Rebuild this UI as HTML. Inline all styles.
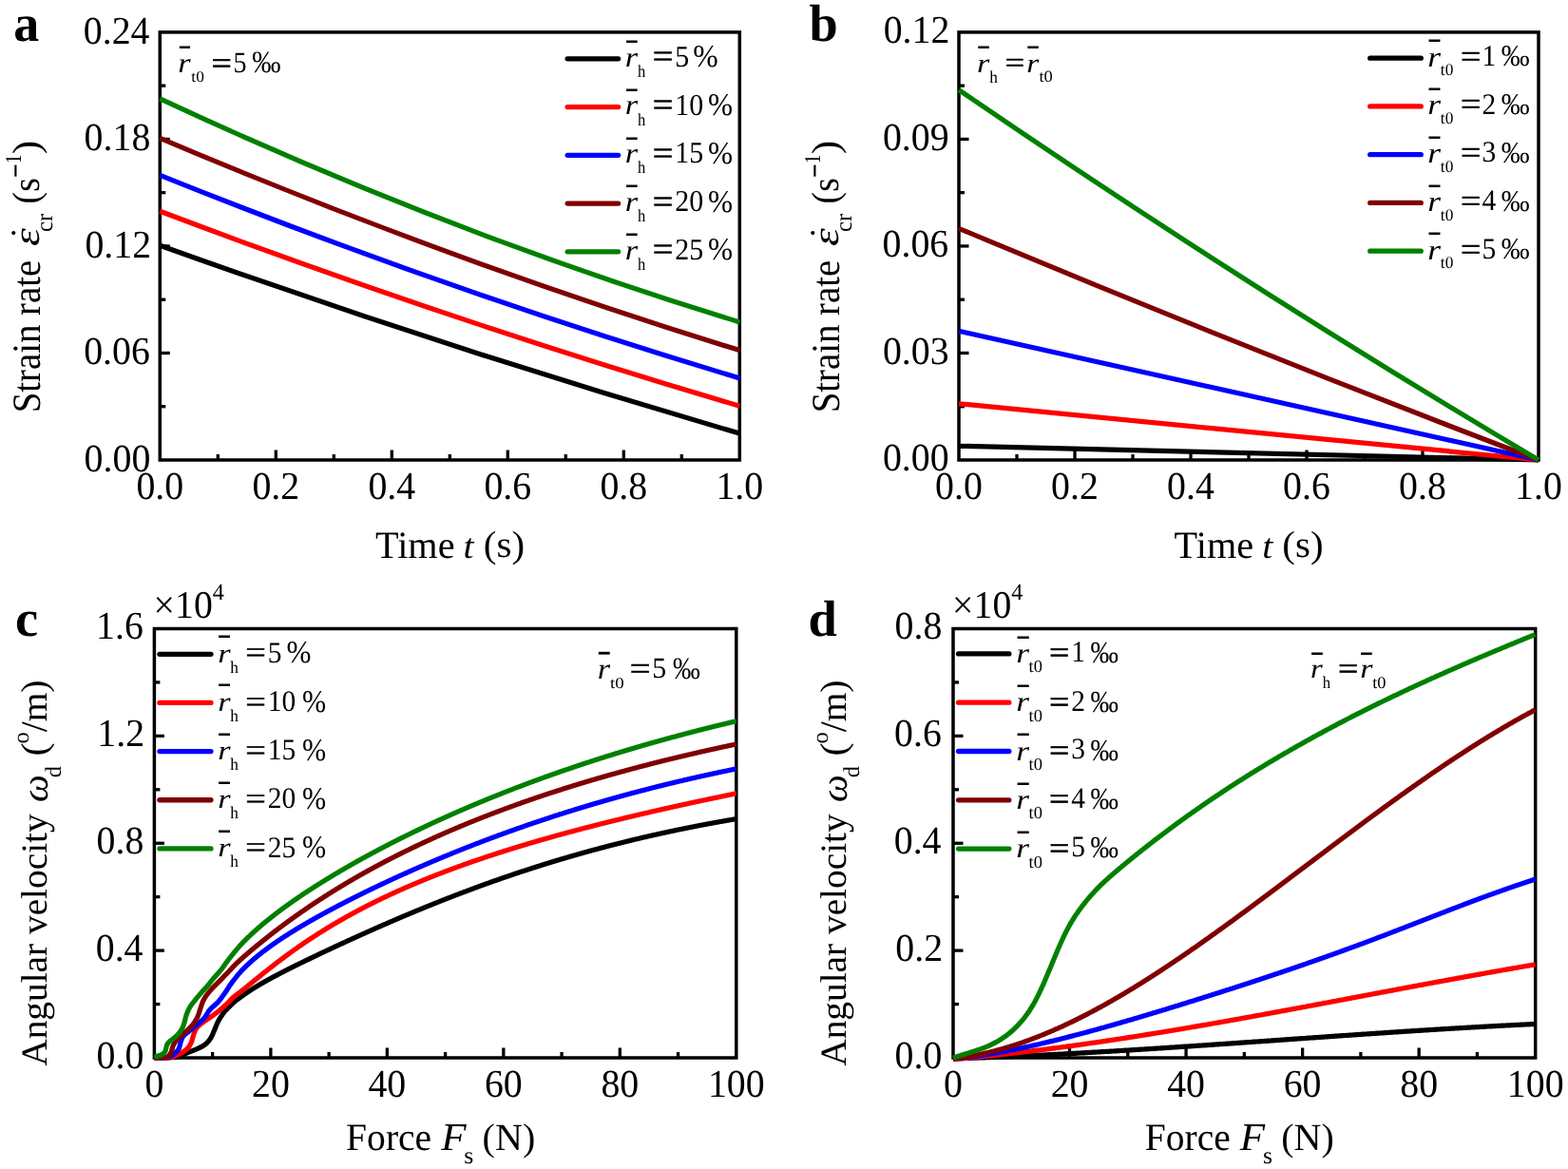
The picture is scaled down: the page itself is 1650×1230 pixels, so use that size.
<!DOCTYPE html><html><head><meta charset="utf-8"><title>Figure</title><style>html,body{margin:0;padding:0;background:#fff;overflow:hidden}svg{display:block}</style></head><body><svg width="1650" height="1230" viewBox="0 0 1650 1230">
<rect width="1650" height="1230" fill="#fff"/>
<line x1="229.30" y1="484.00" x2="229.30" y2="478.00" stroke="#000" stroke-width="3.3" stroke-linecap="butt"/>
<line x1="290.30" y1="484.00" x2="290.30" y2="473.50" stroke="#000" stroke-width="3.3" stroke-linecap="butt"/>
<line x1="351.30" y1="484.00" x2="351.30" y2="478.00" stroke="#000" stroke-width="3.3" stroke-linecap="butt"/>
<line x1="412.30" y1="484.00" x2="412.30" y2="473.50" stroke="#000" stroke-width="3.3" stroke-linecap="butt"/>
<line x1="473.30" y1="484.00" x2="473.30" y2="478.00" stroke="#000" stroke-width="3.3" stroke-linecap="butt"/>
<line x1="534.30" y1="484.00" x2="534.30" y2="473.50" stroke="#000" stroke-width="3.3" stroke-linecap="butt"/>
<line x1="595.30" y1="484.00" x2="595.30" y2="478.00" stroke="#000" stroke-width="3.3" stroke-linecap="butt"/>
<line x1="656.30" y1="484.00" x2="656.30" y2="473.50" stroke="#000" stroke-width="3.3" stroke-linecap="butt"/>
<line x1="717.30" y1="484.00" x2="717.30" y2="478.00" stroke="#000" stroke-width="3.3" stroke-linecap="butt"/>
<line x1="168.30" y1="427.74" x2="174.30" y2="427.74" stroke="#000" stroke-width="3.3" stroke-linecap="butt"/>
<line x1="168.30" y1="371.48" x2="178.80" y2="371.48" stroke="#000" stroke-width="3.3" stroke-linecap="butt"/>
<line x1="168.30" y1="315.21" x2="174.30" y2="315.21" stroke="#000" stroke-width="3.3" stroke-linecap="butt"/>
<line x1="168.30" y1="258.95" x2="178.80" y2="258.95" stroke="#000" stroke-width="3.3" stroke-linecap="butt"/>
<line x1="168.30" y1="202.69" x2="174.30" y2="202.69" stroke="#000" stroke-width="3.3" stroke-linecap="butt"/>
<line x1="168.30" y1="146.42" x2="178.80" y2="146.42" stroke="#000" stroke-width="3.3" stroke-linecap="butt"/>
<line x1="168.30" y1="90.16" x2="174.30" y2="90.16" stroke="#000" stroke-width="3.3" stroke-linecap="butt"/>
<rect x="168.30" y="33.90" width="610.00" height="450.10" fill="none" stroke="#000" stroke-width="3.5"/>
<line x1="1070.00" y1="484.00" x2="1070.00" y2="478.00" stroke="#000" stroke-width="3.3" stroke-linecap="butt"/>
<line x1="1131.00" y1="484.00" x2="1131.00" y2="473.50" stroke="#000" stroke-width="3.3" stroke-linecap="butt"/>
<line x1="1192.00" y1="484.00" x2="1192.00" y2="478.00" stroke="#000" stroke-width="3.3" stroke-linecap="butt"/>
<line x1="1253.00" y1="484.00" x2="1253.00" y2="473.50" stroke="#000" stroke-width="3.3" stroke-linecap="butt"/>
<line x1="1314.00" y1="484.00" x2="1314.00" y2="478.00" stroke="#000" stroke-width="3.3" stroke-linecap="butt"/>
<line x1="1375.00" y1="484.00" x2="1375.00" y2="473.50" stroke="#000" stroke-width="3.3" stroke-linecap="butt"/>
<line x1="1436.00" y1="484.00" x2="1436.00" y2="478.00" stroke="#000" stroke-width="3.3" stroke-linecap="butt"/>
<line x1="1497.00" y1="484.00" x2="1497.00" y2="473.50" stroke="#000" stroke-width="3.3" stroke-linecap="butt"/>
<line x1="1558.00" y1="484.00" x2="1558.00" y2="478.00" stroke="#000" stroke-width="3.3" stroke-linecap="butt"/>
<line x1="1009.00" y1="427.74" x2="1015.00" y2="427.74" stroke="#000" stroke-width="3.3" stroke-linecap="butt"/>
<line x1="1009.00" y1="371.48" x2="1019.50" y2="371.48" stroke="#000" stroke-width="3.3" stroke-linecap="butt"/>
<line x1="1009.00" y1="315.21" x2="1015.00" y2="315.21" stroke="#000" stroke-width="3.3" stroke-linecap="butt"/>
<line x1="1009.00" y1="258.95" x2="1019.50" y2="258.95" stroke="#000" stroke-width="3.3" stroke-linecap="butt"/>
<line x1="1009.00" y1="202.69" x2="1015.00" y2="202.69" stroke="#000" stroke-width="3.3" stroke-linecap="butt"/>
<line x1="1009.00" y1="146.42" x2="1019.50" y2="146.42" stroke="#000" stroke-width="3.3" stroke-linecap="butt"/>
<line x1="1009.00" y1="90.16" x2="1015.00" y2="90.16" stroke="#000" stroke-width="3.3" stroke-linecap="butt"/>
<rect x="1009.00" y="33.90" width="610.00" height="450.10" fill="none" stroke="#000" stroke-width="3.5"/>
<line x1="223.64" y1="1113.00" x2="223.64" y2="1107.00" stroke="#000" stroke-width="3.3" stroke-linecap="butt"/>
<line x1="284.88" y1="1113.00" x2="284.88" y2="1102.50" stroke="#000" stroke-width="3.3" stroke-linecap="butt"/>
<line x1="346.12" y1="1113.00" x2="346.12" y2="1107.00" stroke="#000" stroke-width="3.3" stroke-linecap="butt"/>
<line x1="407.36" y1="1113.00" x2="407.36" y2="1102.50" stroke="#000" stroke-width="3.3" stroke-linecap="butt"/>
<line x1="468.60" y1="1113.00" x2="468.60" y2="1107.00" stroke="#000" stroke-width="3.3" stroke-linecap="butt"/>
<line x1="529.84" y1="1113.00" x2="529.84" y2="1102.50" stroke="#000" stroke-width="3.3" stroke-linecap="butt"/>
<line x1="591.08" y1="1113.00" x2="591.08" y2="1107.00" stroke="#000" stroke-width="3.3" stroke-linecap="butt"/>
<line x1="652.32" y1="1113.00" x2="652.32" y2="1102.50" stroke="#000" stroke-width="3.3" stroke-linecap="butt"/>
<line x1="713.56" y1="1113.00" x2="713.56" y2="1107.00" stroke="#000" stroke-width="3.3" stroke-linecap="butt"/>
<line x1="162.40" y1="1056.56" x2="168.40" y2="1056.56" stroke="#000" stroke-width="3.3" stroke-linecap="butt"/>
<line x1="162.40" y1="1000.12" x2="172.90" y2="1000.12" stroke="#000" stroke-width="3.3" stroke-linecap="butt"/>
<line x1="162.40" y1="943.69" x2="168.40" y2="943.69" stroke="#000" stroke-width="3.3" stroke-linecap="butt"/>
<line x1="162.40" y1="887.25" x2="172.90" y2="887.25" stroke="#000" stroke-width="3.3" stroke-linecap="butt"/>
<line x1="162.40" y1="830.81" x2="168.40" y2="830.81" stroke="#000" stroke-width="3.3" stroke-linecap="butt"/>
<line x1="162.40" y1="774.38" x2="172.90" y2="774.38" stroke="#000" stroke-width="3.3" stroke-linecap="butt"/>
<line x1="162.40" y1="717.94" x2="168.40" y2="717.94" stroke="#000" stroke-width="3.3" stroke-linecap="butt"/>
<rect x="162.40" y="661.50" width="612.40" height="451.50" fill="none" stroke="#000" stroke-width="3.5"/>
<line x1="1064.27" y1="1113.00" x2="1064.27" y2="1107.00" stroke="#000" stroke-width="3.3" stroke-linecap="butt"/>
<line x1="1125.54" y1="1113.00" x2="1125.54" y2="1102.50" stroke="#000" stroke-width="3.3" stroke-linecap="butt"/>
<line x1="1186.81" y1="1113.00" x2="1186.81" y2="1107.00" stroke="#000" stroke-width="3.3" stroke-linecap="butt"/>
<line x1="1248.08" y1="1113.00" x2="1248.08" y2="1102.50" stroke="#000" stroke-width="3.3" stroke-linecap="butt"/>
<line x1="1309.35" y1="1113.00" x2="1309.35" y2="1107.00" stroke="#000" stroke-width="3.3" stroke-linecap="butt"/>
<line x1="1370.62" y1="1113.00" x2="1370.62" y2="1102.50" stroke="#000" stroke-width="3.3" stroke-linecap="butt"/>
<line x1="1431.89" y1="1113.00" x2="1431.89" y2="1107.00" stroke="#000" stroke-width="3.3" stroke-linecap="butt"/>
<line x1="1493.16" y1="1113.00" x2="1493.16" y2="1102.50" stroke="#000" stroke-width="3.3" stroke-linecap="butt"/>
<line x1="1554.43" y1="1113.00" x2="1554.43" y2="1107.00" stroke="#000" stroke-width="3.3" stroke-linecap="butt"/>
<line x1="1003.00" y1="1056.56" x2="1009.00" y2="1056.56" stroke="#000" stroke-width="3.3" stroke-linecap="butt"/>
<line x1="1003.00" y1="1000.12" x2="1013.50" y2="1000.12" stroke="#000" stroke-width="3.3" stroke-linecap="butt"/>
<line x1="1003.00" y1="943.69" x2="1009.00" y2="943.69" stroke="#000" stroke-width="3.3" stroke-linecap="butt"/>
<line x1="1003.00" y1="887.25" x2="1013.50" y2="887.25" stroke="#000" stroke-width="3.3" stroke-linecap="butt"/>
<line x1="1003.00" y1="830.81" x2="1009.00" y2="830.81" stroke="#000" stroke-width="3.3" stroke-linecap="butt"/>
<line x1="1003.00" y1="774.38" x2="1013.50" y2="774.38" stroke="#000" stroke-width="3.3" stroke-linecap="butt"/>
<line x1="1003.00" y1="717.94" x2="1009.00" y2="717.94" stroke="#000" stroke-width="3.3" stroke-linecap="butt"/>
<rect x="1003.00" y="661.50" width="612.70" height="451.50" fill="none" stroke="#000" stroke-width="3.5"/>
<path d="M168.30,258.20 Q473.30,367.70 778.30,456.00" fill="none" stroke="#000000" stroke-width="5.2" stroke-linejoin="round" stroke-linecap="butt"/>
<path d="M168.30,222.30 Q473.30,337.55 778.30,427.20" fill="none" stroke="#ff0000" stroke-width="5.2" stroke-linejoin="round" stroke-linecap="butt"/>
<path d="M168.30,184.30 Q473.30,306.90 778.30,397.90" fill="none" stroke="#0000ff" stroke-width="5.2" stroke-linejoin="round" stroke-linecap="butt"/>
<path d="M168.30,145.30 Q473.30,274.75 778.30,368.60" fill="none" stroke="#800000" stroke-width="5.2" stroke-linejoin="round" stroke-linecap="butt"/>
<path d="M168.30,103.90 Q473.30,246.00 778.30,338.90" fill="none" stroke="#008000" stroke-width="5.2" stroke-linejoin="round" stroke-linecap="butt"/>
<path d="M1009.00,469.30 Q1314.00,476.65 1619.00,484.00" fill="none" stroke="#000000" stroke-width="5.2" stroke-linejoin="round" stroke-linecap="butt"/>
<path d="M1009.00,424.80 Q1314.00,454.40 1619.00,484.00" fill="none" stroke="#ff0000" stroke-width="5.2" stroke-linejoin="round" stroke-linecap="butt"/>
<path d="M1009.00,348.30 Q1314.00,417.15 1619.00,484.00" fill="none" stroke="#0000ff" stroke-width="5.2" stroke-linejoin="round" stroke-linecap="butt"/>
<path d="M1009.00,240.30 Q1314.00,368.15 1619.00,484.00" fill="none" stroke="#800000" stroke-width="5.2" stroke-linejoin="round" stroke-linecap="butt"/>
<path d="M1009.00,94.60 Q1314.00,303.30 1619.00,484.00" fill="none" stroke="#008000" stroke-width="5.2" stroke-linejoin="round" stroke-linecap="butt"/>
<path d="M162.4,1113.0 L162.9,1113.0 L163.4,1113.0 L163.9,1113.0 L164.4,1113.0 L164.9,1113.0 L165.4,1113.0 L165.9,1113.0 L166.4,1113.0 L166.9,1113.0 L167.4,1113.0 L167.9,1113.0 L168.4,1113.0 L168.9,1113.0 L169.4,1113.0 L169.9,1113.0 L170.4,1113.0 L170.9,1113.0 L171.4,1112.9 L171.9,1112.9 L172.4,1112.9 L172.9,1112.9 L173.4,1112.9 L173.9,1112.9 L174.4,1112.9 L174.9,1112.9 L175.4,1112.9 L175.9,1112.9 L176.4,1112.9 L176.9,1112.9 L177.4,1112.8 L177.9,1112.8 L178.4,1112.8 L178.9,1112.8 L179.4,1112.7 L179.9,1112.7 L180.4,1112.7 L180.9,1112.6 L181.4,1112.6 L181.9,1112.5 L182.4,1112.5 L182.9,1112.5 L183.4,1112.4 L183.9,1112.4 L184.4,1112.3 L184.9,1112.2 L185.4,1112.2 L185.9,1112.1 L186.4,1112.1 L186.9,1112.0 L187.4,1111.9 L187.9,1111.9 L188.4,1111.8 L188.9,1111.6 L189.4,1111.5 L189.9,1111.3 L190.4,1111.1 L190.9,1110.9 L191.4,1110.7 L191.9,1110.5 L192.4,1110.2 L192.9,1110.0 L193.4,1109.7 L193.9,1109.4 L194.4,1109.2 L194.9,1108.9 L195.4,1108.6 L195.9,1108.4 L196.4,1108.1 L196.9,1107.9 L197.4,1107.7 L197.9,1107.4 L198.4,1107.2 L198.9,1107.0 L199.4,1106.8 L199.9,1106.6 L200.4,1106.4 L200.9,1106.3 L201.4,1106.1 L201.9,1105.9 L202.4,1105.7 L202.9,1105.5 L203.4,1105.3 L203.9,1105.1 L204.4,1104.9 L204.9,1104.7 L205.4,1104.5 L205.9,1104.3 L206.4,1104.1 L206.9,1103.9 L207.4,1103.7 L207.9,1103.4 L208.4,1103.2 L208.9,1103.0 L209.4,1102.7 L209.9,1102.5 L210.4,1102.2 L210.9,1102.0 L211.4,1101.7 L211.9,1101.5 L212.4,1101.2 L212.9,1100.9 L213.4,1100.6 L213.9,1100.3 L214.4,1100.0 L214.9,1099.7 L215.4,1099.3 L215.9,1098.9 L216.4,1098.6 L216.9,1098.1 L217.4,1097.7 L217.9,1097.2 L218.4,1096.7 L218.9,1096.1 L219.4,1095.5 L219.9,1094.9 L220.4,1094.2 L220.9,1093.5 L221.4,1092.8 L221.9,1092.0 L222.4,1091.2 L222.9,1090.2 L223.4,1089.1 L223.9,1088.0 L224.4,1086.8 L224.9,1085.6 L225.4,1084.4 L225.9,1083.2 L226.4,1082.0 L226.9,1080.7 L227.4,1079.5 L227.9,1078.3 L228.4,1077.1 L228.9,1076.0 L229.4,1075.0 L229.9,1074.1 L230.4,1073.2 L230.9,1072.3 L231.4,1071.5 L231.9,1070.7 L232.4,1069.9 L232.9,1069.2 L233.4,1068.4 L233.9,1067.7 L234.4,1066.9 L234.9,1066.2 L235.4,1065.5 L235.9,1064.9 L236.4,1064.3 L236.9,1063.7 L237.4,1063.1 L237.9,1062.6 L238.4,1062.1 L238.9,1061.7 L239.4,1061.2 L239.9,1060.7 L240.4,1060.2 L240.9,1059.7 L241.4,1059.1 L241.9,1058.6 L242.4,1058.1 L242.9,1057.6 L243.4,1057.1 L243.9,1056.6 L244.4,1056.2 L244.9,1055.7 L245.4,1055.2 L245.9,1054.8 L246.4,1054.3 L246.9,1053.9 L247.4,1053.5 L247.9,1053.0 L248.4,1052.6 L248.9,1052.3 L249.4,1051.9 L249.9,1051.5 L250.4,1051.2 L250.9,1050.8 L251.4,1050.5 L251.9,1050.1 L252.4,1049.8 L252.9,1049.4 L253.4,1049.0 L253.9,1048.7 L254.4,1048.3 L254.9,1047.9 L255.4,1047.6 L255.9,1047.2 L256.4,1046.8 L256.9,1046.5 L257.4,1046.1 L257.9,1045.8 L258.4,1045.4 L258.9,1045.1 L259.4,1044.7 L259.9,1044.4 L260.4,1044.1 L260.9,1043.7 L261.4,1043.4 L261.9,1043.1 L262.4,1042.7 L262.9,1042.4 L263.4,1042.1 L263.9,1041.7 L264.4,1041.4 L264.9,1041.1 L265.4,1040.8 L265.9,1040.5 L266.4,1040.2 L266.9,1039.8 L267.4,1039.5 L267.9,1039.2 L268.4,1038.9 L268.9,1038.6 L269.4,1038.3 L269.9,1038.0 L270.4,1037.7 L270.9,1037.4 L271.4,1037.1 L271.9,1036.8 L272.4,1036.5 L272.9,1036.2 L273.4,1035.9 L273.9,1035.6 L274.4,1035.3 L274.9,1035.0 L275.4,1034.7 L275.9,1034.5 L276.4,1034.2 L276.9,1033.9 L277.4,1033.6 L277.9,1033.3 L278.4,1033.0 L278.9,1032.7 L279.4,1032.5 L279.9,1032.2 L280.4,1031.9 L280.9,1031.6 L281.4,1031.3 L281.9,1031.1 L282.4,1030.8 L282.9,1030.5 L283.4,1030.2 L283.9,1030.0 L284.4,1029.7 L284.9,1029.4 L285.4,1029.2 L285.9,1028.9 L286.4,1028.6 L286.9,1028.3 L287.4,1028.1 L287.9,1027.8 L288.4,1027.5 L288.9,1027.3 L289.4,1027.0 L289.9,1026.7 L290.4,1026.5 L290.9,1026.2 L291.4,1026.0 L291.9,1025.7 L292.4,1025.4 L292.9,1025.2 L293.4,1024.9 L293.9,1024.6 L294.4,1024.4 L294.9,1024.1 L295.4,1023.9 L295.9,1023.6 L296.4,1023.3 L296.9,1023.1 L297.4,1022.8 L297.9,1022.6 L298.4,1022.3 L298.9,1022.1 L299.4,1021.8 L299.9,1021.6 L300.4,1021.3 L300.9,1021.0 L301.4,1020.8 L301.9,1020.5 L302.4,1020.3 L302.9,1020.0 L303.4,1019.8 L303.9,1019.5 L304.4,1019.3 L304.9,1019.0 L305.4,1018.8 L305.9,1018.5 L306.4,1018.3 L306.9,1018.0 L307.4,1017.8 L307.9,1017.5 L308.4,1017.3 L308.9,1017.0 L309.4,1016.8 L309.9,1016.5 L310.4,1016.3 L310.9,1016.0 L311.4,1015.8 L311.9,1015.5 L312.4,1015.3 L312.9,1015.0 L313.4,1014.8 L313.9,1014.6 L314.4,1014.3 L314.9,1014.1 L315.4,1013.8 L315.9,1013.6 L316.4,1013.3 L316.9,1013.1 L317.4,1012.8 L317.9,1012.6 L318.4,1012.4 L318.9,1012.1 L319.4,1011.9 L319.9,1011.6 L320.4,1011.4 L320.9,1011.1 L321.4,1010.9 L321.9,1010.7 L322.4,1010.4 L322.9,1010.2 L323.4,1009.9 L323.9,1009.7 L324.4,1009.4 L324.9,1009.2 L325.4,1009.0 L325.9,1008.7 L326.4,1008.5 L326.9,1008.2 L327.4,1008.0 L327.9,1007.8 L328.4,1007.5 L328.9,1007.3 L329.4,1007.0 L329.9,1006.8 L330.4,1006.6 L330.9,1006.3 L331.4,1006.1 L331.9,1005.9 L332.4,1005.6 L332.9,1005.4 L333.4,1005.1 L333.9,1004.9 L334.4,1004.7 L334.9,1004.4 L335.4,1004.2 L335.9,1003.9 L336.4,1003.7 L336.9,1003.5 L337.4,1003.2 L337.9,1003.0 L338.4,1002.8 L338.9,1002.5 L339.4,1002.3 L339.9,1002.1 L340.4,1001.8 L340.9,1001.6 L341.4,1001.3 L341.9,1001.1 L342.4,1000.9 L342.9,1000.6 L343.4,1000.4 L343.9,1000.2 L344.4,999.9 L344.9,999.7 L345.4,999.5 L345.9,999.2 L346.4,999.0 L346.9,998.8 L347.4,998.5 L347.9,998.3 L348.4,998.1 L348.9,997.8 L349.4,997.6 L349.9,997.4 L350.4,997.1 L350.9,996.9 L351.4,996.7 L351.9,996.4 L352.4,996.2 L352.9,996.0 L353.4,995.7 L353.9,995.5 L354.4,995.3 L354.9,995.0 L355.4,994.8 L355.9,994.6 L356.4,994.3 L356.9,994.1 L357.4,993.9 L357.9,993.7 L358.4,993.4 L358.9,993.2 L359.4,993.0 L359.9,992.7 L360.4,992.5 L360.9,992.3 L361.4,992.0 L361.9,991.8 L362.4,991.6 L362.9,991.4 L363.4,991.1 L363.9,990.9 L364.4,990.7 L364.9,990.4 L365.4,990.2 L365.9,990.0 L366.4,989.7 L366.9,989.5 L367.4,989.3 L367.9,989.1 L368.4,988.8 L368.9,988.6 L369.4,988.4 L369.9,988.2 L370.4,987.9 L370.9,987.7 L371.4,987.5 L371.9,987.2 L372.4,987.0 L372.9,986.8 L373.4,986.6 L373.9,986.3 L374.4,986.1 L374.9,985.9 L375.4,985.7 L375.9,985.4 L376.4,985.2 L376.9,985.0 L377.4,984.8 L377.9,984.5 L378.4,984.3 L378.9,984.1 L379.4,983.8 L379.9,983.6 L380.4,983.4 L380.9,983.2 L381.4,982.9 L381.9,982.7 L382.4,982.5 L382.9,982.3 L383.4,982.1 L383.9,981.8 L384.4,981.6 L384.9,981.4 L385.4,981.2 L385.9,980.9 L386.4,980.7 L386.9,980.5 L387.4,980.3 L387.9,980.0 L388.4,979.8 L388.9,979.6 L389.4,979.4 L389.9,979.2 L390.4,978.9 L390.9,978.7 L391.4,978.5 L391.9,978.3 L392.4,978.0 L392.9,977.8 L393.4,977.6 L393.9,977.4 L394.4,977.2 L394.9,976.9 L395.4,976.7 L395.9,976.5 L396.4,976.3 L396.9,976.1 L397.4,975.8 L397.9,975.6 L398.4,975.4 L398.9,975.2 L399.4,975.0 L399.9,974.7 L400.4,974.5 L400.9,974.3 L401.4,974.1 L401.9,973.9 L402.4,973.6 L402.9,973.4 L403.4,973.2 L403.9,973.0 L404.4,972.8 L404.9,972.5 L405.4,972.3 L405.9,972.1 L406.4,971.9 L406.9,971.7 L407.4,971.5 L407.9,971.2 L408.4,971.0 L408.9,970.8 L409.4,970.6 L409.9,970.4 L410.4,970.2 L410.9,969.9 L411.4,969.7 L411.9,969.5 L412.4,969.3 L412.9,969.1 L413.4,968.9 L413.9,968.7 L414.4,968.4 L414.9,968.2 L415.4,968.0 L415.9,967.8 L416.4,967.6 L416.9,967.4 L417.4,967.2 L417.9,966.9 L418.4,966.7 L418.9,966.5 L419.4,966.3 L419.9,966.1 L420.4,965.9 L420.9,965.7 L421.4,965.4 L421.9,965.2 L422.4,965.0 L422.9,964.8 L423.4,964.6 L423.9,964.4 L424.4,964.2 L424.9,964.0 L425.4,963.7 L425.9,963.5 L426.4,963.3 L426.9,963.1 L427.4,962.9 L427.9,962.7 L428.4,962.5 L428.9,962.3 L429.4,962.1 L429.9,961.9 L430.4,961.6 L430.9,961.4 L431.4,961.2 L431.9,961.0 L432.4,960.8 L432.9,960.6 L433.4,960.4 L433.9,960.2 L434.4,960.0 L434.9,959.8 L435.4,959.6 L435.9,959.3 L436.4,959.1 L436.9,958.9 L437.4,958.7 L437.9,958.5 L438.4,958.3 L438.9,958.1 L439.4,957.9 L439.9,957.7 L440.4,957.5 L440.9,957.3 L441.4,957.1 L441.9,956.9 L442.4,956.7 L442.9,956.5 L443.4,956.3 L443.9,956.0 L444.4,955.8 L444.9,955.6 L445.4,955.4 L445.9,955.2 L446.4,955.0 L446.9,954.8 L447.4,954.6 L447.9,954.4 L448.4,954.2 L448.9,954.0 L449.4,953.8 L449.9,953.6 L450.4,953.4 L450.9,953.2 L451.4,953.0 L451.9,952.8 L452.4,952.6 L452.9,952.4 L453.4,952.2 L453.9,952.0 L454.4,951.8 L454.9,951.6 L455.4,951.4 L455.9,951.2 L456.4,951.0 L456.9,950.8 L457.4,950.6 L457.9,950.4 L458.4,950.2 L458.9,950.0 L459.4,949.8 L459.9,949.6 L460.4,949.4 L460.9,949.2 L461.4,949.0 L461.9,948.8 L462.4,948.6 L462.9,948.4 L463.4,948.2 L463.9,948.0 L464.4,947.8 L464.9,947.6 L465.4,947.4 L465.9,947.2 L466.4,947.0 L466.9,946.8 L467.4,946.6 L467.9,946.4 L468.4,946.2 L468.9,946.0 L469.4,945.8 L469.9,945.6 L470.4,945.4 L470.9,945.2 L471.4,945.0 L471.9,944.8 L472.4,944.7 L472.9,944.5 L473.4,944.3 L473.9,944.1 L474.4,943.9 L474.9,943.7 L475.4,943.5 L475.9,943.3 L476.4,943.1 L476.9,942.9 L477.4,942.7 L477.9,942.5 L478.4,942.3 L478.9,942.1 L479.4,941.9 L479.9,941.8 L480.4,941.6 L480.9,941.4 L481.4,941.2 L481.9,941.0 L482.4,940.8 L482.9,940.6 L483.4,940.4 L483.9,940.2 L484.4,940.0 L484.9,939.8 L485.4,939.7 L485.9,939.5 L486.4,939.3 L486.9,939.1 L487.4,938.9 L487.9,938.7 L488.4,938.5 L488.9,938.3 L489.4,938.1 L489.9,938.0 L490.4,937.8 L490.9,937.6 L491.4,937.4 L491.9,937.2 L492.4,937.0 L492.9,936.8 L493.4,936.6 L493.9,936.5 L494.4,936.3 L494.9,936.1 L495.4,935.9 L495.9,935.7 L496.4,935.5 L496.9,935.3 L497.4,935.2 L497.9,935.0 L498.4,934.8 L498.9,934.6 L499.4,934.4 L499.9,934.2 L500.4,934.0 L500.9,933.9 L501.4,933.7 L501.9,933.5 L502.4,933.3 L502.9,933.1 L503.4,932.9 L503.9,932.8 L504.4,932.6 L504.9,932.4 L505.4,932.2 L505.9,932.0 L506.4,931.9 L506.9,931.7 L507.4,931.5 L507.9,931.3 L508.4,931.1 L508.9,930.9 L509.4,930.8 L509.9,930.6 L510.4,930.4 L510.9,930.2 L511.4,930.0 L511.9,929.9 L512.4,929.7 L512.9,929.5 L513.4,929.3 L513.9,929.1 L514.4,929.0 L514.9,928.8 L515.4,928.6 L515.9,928.4 L516.4,928.3 L516.9,928.1 L517.4,927.9 L517.9,927.7 L518.4,927.5 L518.9,927.4 L519.4,927.2 L519.9,927.0 L520.4,926.8 L520.9,926.7 L521.4,926.5 L521.9,926.3 L522.4,926.1 L522.9,926.0 L523.4,925.8 L523.9,925.6 L524.4,925.4 L524.9,925.3 L525.4,925.1 L525.9,924.9 L526.4,924.7 L526.9,924.6 L527.4,924.4 L527.9,924.2 L528.4,924.0 L528.9,923.9 L529.4,923.7 L529.9,923.5 L530.4,923.4 L530.9,923.2 L531.4,923.0 L531.9,922.8 L532.4,922.7 L532.9,922.5 L533.4,922.3 L533.9,922.2 L534.4,922.0 L534.9,921.8 L535.4,921.6 L535.9,921.5 L536.4,921.3 L536.9,921.1 L537.4,921.0 L537.9,920.8 L538.4,920.6 L538.9,920.5 L539.4,920.3 L539.9,920.1 L540.4,919.9 L540.9,919.8 L541.4,919.6 L541.9,919.4 L542.4,919.3 L542.9,919.1 L543.4,918.9 L543.9,918.8 L544.4,918.6 L544.9,918.4 L545.4,918.3 L545.9,918.1 L546.4,917.9 L546.9,917.8 L547.4,917.6 L547.9,917.4 L548.4,917.3 L548.9,917.1 L549.4,916.9 L549.9,916.8 L550.4,916.6 L550.9,916.5 L551.4,916.3 L551.9,916.1 L552.4,916.0 L552.9,915.8 L553.4,915.6 L553.9,915.5 L554.4,915.3 L554.9,915.1 L555.4,915.0 L555.9,914.8 L556.4,914.7 L556.9,914.5 L557.4,914.3 L557.9,914.2 L558.4,914.0 L558.9,913.8 L559.4,913.7 L559.9,913.5 L560.4,913.4 L560.9,913.2 L561.4,913.0 L561.9,912.9 L562.4,912.7 L562.9,912.6 L563.4,912.4 L563.9,912.2 L564.4,912.1 L564.9,911.9 L565.4,911.8 L565.9,911.6 L566.4,911.5 L566.9,911.3 L567.4,911.1 L567.9,911.0 L568.4,910.8 L568.9,910.7 L569.4,910.5 L569.9,910.4 L570.4,910.2 L570.9,910.0 L571.4,909.9 L571.9,909.7 L572.4,909.6 L572.9,909.4 L573.4,909.3 L573.9,909.1 L574.4,908.9 L574.9,908.8 L575.4,908.6 L575.9,908.5 L576.4,908.3 L576.9,908.2 L577.4,908.0 L577.9,907.9 L578.4,907.7 L578.9,907.6 L579.4,907.4 L579.9,907.3 L580.4,907.1 L580.9,906.9 L581.4,906.8 L581.9,906.6 L582.4,906.5 L582.9,906.3 L583.4,906.2 L583.9,906.0 L584.4,905.9 L584.9,905.7 L585.4,905.6 L585.9,905.4 L586.4,905.3 L586.9,905.1 L587.4,905.0 L587.9,904.8 L588.4,904.7 L588.9,904.5 L589.4,904.4 L589.9,904.2 L590.4,904.1 L590.9,903.9 L591.4,903.8 L591.9,903.6 L592.4,903.5 L592.9,903.3 L593.4,903.2 L593.9,903.0 L594.4,902.9 L594.9,902.8 L595.4,902.6 L595.9,902.5 L596.4,902.3 L596.9,902.2 L597.4,902.0 L597.9,901.9 L598.4,901.7 L598.9,901.6 L599.4,901.4 L599.9,901.3 L600.4,901.1 L600.9,901.0 L601.4,900.9 L601.9,900.7 L602.4,900.6 L602.9,900.4 L603.4,900.3 L603.9,900.1 L604.4,900.0 L604.9,899.8 L605.4,899.7 L605.9,899.6 L606.4,899.4 L606.9,899.3 L607.4,899.1 L607.9,899.0 L608.4,898.8 L608.9,898.7 L609.4,898.6 L609.9,898.4 L610.4,898.3 L610.9,898.1 L611.4,898.0 L611.9,897.9 L612.4,897.7 L612.9,897.6 L613.4,897.4 L613.9,897.3 L614.4,897.2 L614.9,897.0 L615.4,896.9 L615.9,896.7 L616.4,896.6 L616.9,896.5 L617.4,896.3 L617.9,896.2 L618.4,896.0 L618.9,895.9 L619.4,895.8 L619.9,895.6 L620.4,895.5 L620.9,895.4 L621.4,895.2 L621.9,895.1 L622.4,894.9 L622.9,894.8 L623.4,894.7 L623.9,894.5 L624.4,894.4 L624.9,894.3 L625.4,894.1 L625.9,894.0 L626.4,893.9 L626.9,893.7 L627.4,893.6 L627.9,893.5 L628.4,893.3 L628.9,893.2 L629.4,893.1 L629.9,892.9 L630.4,892.8 L630.9,892.7 L631.4,892.5 L631.9,892.4 L632.4,892.3 L632.9,892.1 L633.4,892.0 L633.9,891.9 L634.4,891.7 L634.9,891.6 L635.4,891.5 L635.9,891.3 L636.4,891.2 L636.9,891.1 L637.4,890.9 L637.9,890.8 L638.4,890.7 L638.9,890.5 L639.4,890.4 L639.9,890.3 L640.4,890.2 L640.9,890.0 L641.4,889.9 L641.9,889.8 L642.4,889.6 L642.9,889.5 L643.4,889.4 L643.9,889.2 L644.4,889.1 L644.9,889.0 L645.4,888.9 L645.9,888.7 L646.4,888.6 L646.9,888.5 L647.4,888.4 L647.9,888.2 L648.4,888.1 L648.9,888.0 L649.4,887.8 L649.9,887.7 L650.4,887.6 L650.9,887.5 L651.4,887.3 L651.9,887.2 L652.4,887.1 L652.9,887.0 L653.4,886.8 L653.9,886.7 L654.4,886.6 L654.9,886.5 L655.4,886.3 L655.9,886.2 L656.4,886.1 L656.9,886.0 L657.4,885.8 L657.9,885.7 L658.4,885.6 L658.9,885.5 L659.4,885.4 L659.9,885.2 L660.4,885.1 L660.9,885.0 L661.4,884.9 L661.9,884.7 L662.4,884.6 L662.9,884.5 L663.4,884.4 L663.9,884.3 L664.4,884.1 L664.9,884.0 L665.4,883.9 L665.9,883.8 L666.4,883.6 L666.9,883.5 L667.4,883.4 L667.9,883.3 L668.4,883.2 L668.9,883.0 L669.4,882.9 L669.9,882.8 L670.4,882.7 L670.9,882.6 L671.4,882.5 L671.9,882.3 L672.4,882.2 L672.9,882.1 L673.4,882.0 L673.9,881.9 L674.4,881.7 L674.9,881.6 L675.4,881.5 L675.9,881.4 L676.4,881.3 L676.9,881.2 L677.4,881.0 L677.9,880.9 L678.4,880.8 L678.9,880.7 L679.4,880.6 L679.9,880.5 L680.4,880.3 L680.9,880.2 L681.4,880.1 L681.9,880.0 L682.4,879.9 L682.9,879.8 L683.4,879.7 L683.9,879.5 L684.4,879.4 L684.9,879.3 L685.4,879.2 L685.9,879.1 L686.4,879.0 L686.9,878.9 L687.4,878.8 L687.9,878.6 L688.4,878.5 L688.9,878.4 L689.4,878.3 L689.9,878.2 L690.4,878.1 L690.9,878.0 L691.4,877.9 L691.9,877.7 L692.4,877.6 L692.9,877.5 L693.4,877.4 L693.9,877.3 L694.4,877.2 L694.9,877.1 L695.4,877.0 L695.9,876.9 L696.4,876.7 L696.9,876.6 L697.4,876.5 L697.9,876.4 L698.4,876.3 L698.9,876.2 L699.4,876.1 L699.9,876.0 L700.4,875.9 L700.9,875.8 L701.4,875.7 L701.9,875.6 L702.4,875.4 L702.9,875.3 L703.4,875.2 L703.9,875.1 L704.4,875.0 L704.9,874.9 L705.4,874.8 L705.9,874.7 L706.4,874.6 L706.9,874.5 L707.4,874.4 L707.9,874.3 L708.4,874.2 L708.9,874.1 L709.4,874.0 L709.9,873.9 L710.4,873.7 L710.9,873.6 L711.4,873.5 L711.9,873.4 L712.4,873.3 L712.9,873.2 L713.4,873.1 L713.9,873.0 L714.4,872.9 L714.9,872.8 L715.4,872.7 L715.9,872.6 L716.4,872.5 L716.9,872.4 L717.4,872.3 L717.9,872.2 L718.4,872.1 L718.9,872.0 L719.4,871.9 L719.9,871.8 L720.4,871.7 L720.9,871.6 L721.4,871.5 L721.9,871.4 L722.4,871.3 L722.9,871.2 L723.4,871.1 L723.9,871.0 L724.4,870.9 L724.9,870.8 L725.4,870.7 L725.9,870.6 L726.4,870.5 L726.9,870.4 L727.4,870.3 L727.9,870.2 L728.4,870.1 L728.9,870.0 L729.4,869.9 L729.9,869.8 L730.4,869.7 L730.9,869.6 L731.4,869.5 L731.9,869.4 L732.4,869.3 L732.9,869.2 L733.4,869.1 L733.9,869.0 L734.4,868.9 L734.9,868.8 L735.4,868.7 L735.9,868.6 L736.4,868.5 L736.9,868.4 L737.4,868.3 L737.9,868.2 L738.4,868.1 L738.9,868.0 L739.4,868.0 L739.9,867.9 L740.4,867.8 L740.9,867.7 L741.4,867.6 L741.9,867.5 L742.4,867.4 L742.9,867.3 L743.4,867.2 L743.9,867.1 L744.4,867.0 L744.9,866.9 L745.4,866.8 L745.9,866.7 L746.4,866.6 L746.9,866.5 L747.4,866.5 L747.9,866.4 L748.4,866.3 L748.9,866.2 L749.4,866.1 L749.9,866.0 L750.4,865.9 L750.9,865.8 L751.4,865.7 L751.9,865.6 L752.4,865.5 L752.9,865.4 L753.4,865.4 L753.9,865.3 L754.4,865.2 L754.9,865.1 L755.4,865.0 L755.9,864.9 L756.4,864.8 L756.9,864.7 L757.4,864.6 L757.9,864.5 L758.4,864.5 L758.9,864.4 L759.4,864.3 L759.9,864.2 L760.4,864.1 L760.9,864.0 L761.4,863.9 L761.9,863.8 L762.4,863.8 L762.9,863.7 L763.4,863.6 L763.9,863.5 L764.4,863.4 L764.9,863.3 L765.4,863.2 L765.9,863.1 L766.4,863.1 L766.9,863.0 L767.4,862.9 L767.9,862.8 L768.4,862.7 L768.9,862.6 L769.4,862.5 L769.9,862.5 L770.4,862.4 L770.9,862.3 L771.4,862.2 L771.9,862.1 L772.4,862.0 L772.9,862.0 L773.4,861.9 L773.9,861.8 L774.4,861.7 L774.8,861.6" fill="none" stroke="#000000" stroke-width="5.2" stroke-linejoin="round" stroke-linecap="butt"/>
<path d="M162.4,1113.0 L162.9,1113.0 L163.4,1113.0 L163.9,1113.0 L164.4,1113.0 L164.9,1113.0 L165.4,1113.0 L165.9,1113.0 L166.4,1113.0 L166.9,1113.0 L167.4,1113.0 L167.9,1113.0 L168.4,1113.0 L168.9,1112.9 L169.4,1112.9 L169.9,1112.9 L170.4,1112.9 L170.9,1112.9 L171.4,1112.9 L171.9,1112.9 L172.4,1112.9 L172.9,1112.9 L173.4,1112.9 L173.9,1112.9 L174.4,1112.8 L174.9,1112.8 L175.4,1112.8 L175.9,1112.8 L176.4,1112.8 L176.9,1112.7 L177.4,1112.7 L177.9,1112.7 L178.4,1112.7 L178.9,1112.6 L179.4,1112.6 L179.9,1112.5 L180.4,1112.5 L180.9,1112.4 L181.4,1112.2 L181.9,1112.1 L182.4,1111.9 L182.9,1111.7 L183.4,1111.5 L183.9,1111.3 L184.4,1111.1 L184.9,1110.9 L185.4,1110.6 L185.9,1110.4 L186.4,1110.1 L186.9,1109.9 L187.4,1109.6 L187.9,1109.4 L188.4,1109.1 L188.9,1108.9 L189.4,1108.6 L189.9,1108.3 L190.4,1108.1 L190.9,1107.8 L191.4,1107.6 L191.9,1107.3 L192.4,1107.0 L192.9,1106.7 L193.4,1106.4 L193.9,1106.0 L194.4,1105.7 L194.9,1105.3 L195.4,1104.9 L195.9,1104.5 L196.4,1104.1 L196.9,1103.6 L197.4,1103.1 L197.9,1102.5 L198.4,1101.9 L198.9,1101.2 L199.4,1100.4 L199.9,1099.6 L200.4,1098.7 L200.9,1097.6 L201.4,1096.5 L201.9,1095.2 L202.4,1093.4 L202.9,1091.5 L203.4,1089.7 L203.9,1088.2 L204.4,1086.8 L204.9,1085.5 L205.4,1084.2 L205.9,1083.2 L206.4,1082.4 L206.9,1081.7 L207.4,1081.0 L207.9,1080.5 L208.4,1079.9 L208.9,1079.4 L209.4,1079.0 L209.9,1078.6 L210.4,1078.1 L210.9,1077.7 L211.4,1077.3 L211.9,1076.9 L212.4,1076.5 L212.9,1076.1 L213.4,1075.7 L213.9,1075.4 L214.4,1075.0 L214.9,1074.7 L215.4,1074.3 L215.9,1074.0 L216.4,1073.7 L216.9,1073.3 L217.4,1073.0 L217.9,1072.7 L218.4,1072.3 L218.9,1072.0 L219.4,1071.6 L219.9,1071.3 L220.4,1070.9 L220.9,1070.6 L221.4,1070.2 L221.9,1069.9 L222.4,1069.6 L222.9,1069.2 L223.4,1068.9 L223.9,1068.5 L224.4,1068.2 L224.9,1067.8 L225.4,1067.4 L225.9,1067.1 L226.4,1066.7 L226.9,1066.3 L227.4,1065.9 L227.9,1065.5 L228.4,1065.2 L228.9,1064.8 L229.4,1064.4 L229.9,1064.0 L230.4,1063.5 L230.9,1063.1 L231.4,1062.7 L231.9,1062.3 L232.4,1061.9 L232.9,1061.5 L233.4,1061.0 L233.9,1060.6 L234.4,1060.2 L234.9,1059.7 L235.4,1059.3 L235.9,1058.8 L236.4,1058.4 L236.9,1057.9 L237.4,1057.5 L237.9,1057.0 L238.4,1056.5 L238.9,1056.1 L239.4,1055.6 L239.9,1055.1 L240.4,1054.6 L240.9,1054.0 L241.4,1053.5 L241.9,1052.9 L242.4,1052.4 L242.9,1051.9 L243.4,1051.3 L243.9,1050.9 L244.4,1050.4 L244.9,1049.9 L245.4,1049.5 L245.9,1049.0 L246.4,1048.6 L246.9,1048.2 L247.4,1047.8 L247.9,1047.4 L248.4,1047.0 L248.9,1046.6 L249.4,1046.2 L249.9,1045.9 L250.4,1045.5 L250.9,1045.1 L251.4,1044.8 L251.9,1044.4 L252.4,1044.1 L252.9,1043.7 L253.4,1043.3 L253.9,1042.9 L254.4,1042.5 L254.9,1042.1 L255.4,1041.7 L255.9,1041.3 L256.4,1040.9 L256.9,1040.5 L257.4,1040.1 L257.9,1039.7 L258.4,1039.3 L258.9,1038.9 L259.4,1038.5 L259.9,1038.1 L260.4,1037.7 L260.9,1037.3 L261.4,1036.8 L261.9,1036.4 L262.4,1036.0 L262.9,1035.6 L263.4,1035.2 L263.9,1034.8 L264.4,1034.4 L264.9,1034.0 L265.4,1033.6 L265.9,1033.2 L266.4,1032.7 L266.9,1032.3 L267.4,1031.9 L267.9,1031.5 L268.4,1031.1 L268.9,1030.7 L269.4,1030.3 L269.9,1029.9 L270.4,1029.5 L270.9,1029.1 L271.4,1028.7 L271.9,1028.3 L272.4,1027.9 L272.9,1027.5 L273.4,1027.1 L273.9,1026.7 L274.4,1026.3 L274.9,1025.8 L275.4,1025.4 L275.9,1025.0 L276.4,1024.6 L276.9,1024.2 L277.4,1023.8 L277.9,1023.4 L278.4,1023.0 L278.9,1022.6 L279.4,1022.2 L279.9,1021.9 L280.4,1021.5 L280.9,1021.1 L281.4,1020.7 L281.9,1020.3 L282.4,1019.9 L282.9,1019.5 L283.4,1019.1 L283.9,1018.7 L284.4,1018.3 L284.9,1017.9 L285.4,1017.5 L285.9,1017.1 L286.4,1016.7 L286.9,1016.4 L287.4,1016.0 L287.9,1015.6 L288.4,1015.2 L288.9,1014.8 L289.4,1014.4 L289.9,1014.0 L290.4,1013.7 L290.9,1013.3 L291.4,1012.9 L291.9,1012.5 L292.4,1012.1 L292.9,1011.8 L293.4,1011.4 L293.9,1011.0 L294.4,1010.6 L294.9,1010.2 L295.4,1009.9 L295.9,1009.5 L296.4,1009.1 L296.9,1008.7 L297.4,1008.4 L297.9,1008.0 L298.4,1007.6 L298.9,1007.2 L299.4,1006.9 L299.9,1006.5 L300.4,1006.1 L300.9,1005.8 L301.4,1005.4 L301.9,1005.0 L302.4,1004.7 L302.9,1004.3 L303.4,1003.9 L303.9,1003.6 L304.4,1003.2 L304.9,1002.8 L305.4,1002.5 L305.9,1002.1 L306.4,1001.8 L306.9,1001.4 L307.4,1001.0 L307.9,1000.7 L308.4,1000.3 L308.9,1000.0 L309.4,999.6 L309.9,999.3 L310.4,998.9 L310.9,998.6 L311.4,998.2 L311.9,997.9 L312.4,997.5 L312.9,997.1 L313.4,996.8 L313.9,996.4 L314.4,996.1 L314.9,995.8 L315.4,995.4 L315.9,995.1 L316.4,994.7 L316.9,994.4 L317.4,994.0 L317.9,993.7 L318.4,993.3 L318.9,993.0 L319.4,992.7 L319.9,992.3 L320.4,992.0 L320.9,991.6 L321.4,991.3 L321.9,991.0 L322.4,990.6 L322.9,990.3 L323.4,990.0 L323.9,989.6 L324.4,989.3 L324.9,989.0 L325.4,988.6 L325.9,988.3 L326.4,988.0 L326.9,987.6 L327.4,987.3 L327.9,987.0 L328.4,986.7 L328.9,986.3 L329.4,986.0 L329.9,985.7 L330.4,985.3 L330.9,985.0 L331.4,984.7 L331.9,984.4 L332.4,984.1 L332.9,983.7 L333.4,983.4 L333.9,983.1 L334.4,982.8 L334.9,982.5 L335.4,982.1 L335.9,981.8 L336.4,981.5 L336.9,981.2 L337.4,980.9 L337.9,980.6 L338.4,980.2 L338.9,979.9 L339.4,979.6 L339.9,979.3 L340.4,979.0 L340.9,978.7 L341.4,978.4 L341.9,978.1 L342.4,977.8 L342.9,977.5 L343.4,977.1 L343.9,976.8 L344.4,976.5 L344.9,976.2 L345.4,975.9 L345.9,975.6 L346.4,975.3 L346.9,975.0 L347.4,974.7 L347.9,974.4 L348.4,974.1 L348.9,973.8 L349.4,973.5 L349.9,973.2 L350.4,972.9 L350.9,972.6 L351.4,972.3 L351.9,972.0 L352.4,971.7 L352.9,971.4 L353.4,971.1 L353.9,970.9 L354.4,970.6 L354.9,970.3 L355.4,970.0 L355.9,969.7 L356.4,969.4 L356.9,969.1 L357.4,968.8 L357.9,968.5 L358.4,968.2 L358.9,968.0 L359.4,967.7 L359.9,967.4 L360.4,967.1 L360.9,966.8 L361.4,966.5 L361.9,966.3 L362.4,966.0 L362.9,965.7 L363.4,965.4 L363.9,965.1 L364.4,964.8 L364.9,964.6 L365.4,964.3 L365.9,964.0 L366.4,963.7 L366.9,963.5 L367.4,963.2 L367.9,962.9 L368.4,962.6 L368.9,962.3 L369.4,962.1 L369.9,961.8 L370.4,961.5 L370.9,961.3 L371.4,961.0 L371.9,960.7 L372.4,960.4 L372.9,960.2 L373.4,959.9 L373.9,959.6 L374.4,959.4 L374.9,959.1 L375.4,958.8 L375.9,958.6 L376.4,958.3 L376.9,958.0 L377.4,957.8 L377.9,957.5 L378.4,957.2 L378.9,957.0 L379.4,956.7 L379.9,956.4 L380.4,956.2 L380.9,955.9 L381.4,955.7 L381.9,955.4 L382.4,955.1 L382.9,954.9 L383.4,954.6 L383.9,954.4 L384.4,954.1 L384.9,953.8 L385.4,953.6 L385.9,953.3 L386.4,953.1 L386.9,952.8 L387.4,952.6 L387.9,952.3 L388.4,952.1 L388.9,951.8 L389.4,951.6 L389.9,951.3 L390.4,951.1 L390.9,950.8 L391.4,950.6 L391.9,950.3 L392.4,950.1 L392.9,949.8 L393.4,949.6 L393.9,949.3 L394.4,949.1 L394.9,948.8 L395.4,948.6 L395.9,948.3 L396.4,948.1 L396.9,947.8 L397.4,947.6 L397.9,947.3 L398.4,947.1 L398.9,946.9 L399.4,946.6 L399.9,946.4 L400.4,946.1 L400.9,945.9 L401.4,945.6 L401.9,945.4 L402.4,945.2 L402.9,944.9 L403.4,944.7 L403.9,944.4 L404.4,944.2 L404.9,944.0 L405.4,943.7 L405.9,943.5 L406.4,943.3 L406.9,943.0 L407.4,942.8 L407.9,942.6 L408.4,942.3 L408.9,942.1 L409.4,941.9 L409.9,941.6 L410.4,941.4 L410.9,941.2 L411.4,940.9 L411.9,940.7 L412.4,940.5 L412.9,940.2 L413.4,940.0 L413.9,939.8 L414.4,939.5 L414.9,939.3 L415.4,939.1 L415.9,938.9 L416.4,938.6 L416.9,938.4 L417.4,938.2 L417.9,937.9 L418.4,937.7 L418.9,937.5 L419.4,937.3 L419.9,937.0 L420.4,936.8 L420.9,936.6 L421.4,936.4 L421.9,936.2 L422.4,935.9 L422.9,935.7 L423.4,935.5 L423.9,935.3 L424.4,935.0 L424.9,934.8 L425.4,934.6 L425.9,934.4 L426.4,934.2 L426.9,933.9 L427.4,933.7 L427.9,933.5 L428.4,933.3 L428.9,933.1 L429.4,932.9 L429.9,932.6 L430.4,932.4 L430.9,932.2 L431.4,932.0 L431.9,931.8 L432.4,931.6 L432.9,931.4 L433.4,931.1 L433.9,930.9 L434.4,930.7 L434.9,930.5 L435.4,930.3 L435.9,930.1 L436.4,929.9 L436.9,929.7 L437.4,929.4 L437.9,929.2 L438.4,929.0 L438.9,928.8 L439.4,928.6 L439.9,928.4 L440.4,928.2 L440.9,928.0 L441.4,927.8 L441.9,927.6 L442.4,927.4 L442.9,927.2 L443.4,926.9 L443.9,926.7 L444.4,926.5 L444.9,926.3 L445.4,926.1 L445.9,925.9 L446.4,925.7 L446.9,925.5 L447.4,925.3 L447.9,925.1 L448.4,924.9 L448.9,924.7 L449.4,924.5 L449.9,924.3 L450.4,924.1 L450.9,923.9 L451.4,923.7 L451.9,923.5 L452.4,923.3 L452.9,923.1 L453.4,922.9 L453.9,922.7 L454.4,922.5 L454.9,922.3 L455.4,922.1 L455.9,921.9 L456.4,921.7 L456.9,921.5 L457.4,921.3 L457.9,921.1 L458.4,920.9 L458.9,920.7 L459.4,920.5 L459.9,920.3 L460.4,920.1 L460.9,919.9 L461.4,919.7 L461.9,919.6 L462.4,919.4 L462.9,919.2 L463.4,919.0 L463.9,918.8 L464.4,918.6 L464.9,918.4 L465.4,918.2 L465.9,918.0 L466.4,917.8 L466.9,917.6 L467.4,917.4 L467.9,917.3 L468.4,917.1 L468.9,916.9 L469.4,916.7 L469.9,916.5 L470.4,916.3 L470.9,916.1 L471.4,915.9 L471.9,915.7 L472.4,915.6 L472.9,915.4 L473.4,915.2 L473.9,915.0 L474.4,914.8 L474.9,914.6 L475.4,914.4 L475.9,914.2 L476.4,914.1 L476.9,913.9 L477.4,913.7 L477.9,913.5 L478.4,913.3 L478.9,913.1 L479.4,913.0 L479.9,912.8 L480.4,912.6 L480.9,912.4 L481.4,912.2 L481.9,912.0 L482.4,911.9 L482.9,911.7 L483.4,911.5 L483.9,911.3 L484.4,911.1 L484.9,911.0 L485.4,910.8 L485.9,910.6 L486.4,910.4 L486.9,910.2 L487.4,910.1 L487.9,909.9 L488.4,909.7 L488.9,909.5 L489.4,909.4 L489.9,909.2 L490.4,909.0 L490.9,908.8 L491.4,908.6 L491.9,908.5 L492.4,908.3 L492.9,908.1 L493.4,907.9 L493.9,907.8 L494.4,907.6 L494.9,907.4 L495.4,907.2 L495.9,907.1 L496.4,906.9 L496.9,906.7 L497.4,906.5 L497.9,906.4 L498.4,906.2 L498.9,906.0 L499.4,905.8 L499.9,905.7 L500.4,905.5 L500.9,905.3 L501.4,905.2 L501.9,905.0 L502.4,904.8 L502.9,904.6 L503.4,904.5 L503.9,904.3 L504.4,904.1 L504.9,904.0 L505.4,903.8 L505.9,903.6 L506.4,903.5 L506.9,903.3 L507.4,903.1 L507.9,903.0 L508.4,902.8 L508.9,902.6 L509.4,902.4 L509.9,902.3 L510.4,902.1 L510.9,901.9 L511.4,901.8 L511.9,901.6 L512.4,901.4 L512.9,901.3 L513.4,901.1 L513.9,900.9 L514.4,900.8 L514.9,900.6 L515.4,900.5 L515.9,900.3 L516.4,900.1 L516.9,900.0 L517.4,899.8 L517.9,899.6 L518.4,899.5 L518.9,899.3 L519.4,899.1 L519.9,899.0 L520.4,898.8 L520.9,898.7 L521.4,898.5 L521.9,898.3 L522.4,898.2 L522.9,898.0 L523.4,897.8 L523.9,897.7 L524.4,897.5 L524.9,897.4 L525.4,897.2 L525.9,897.0 L526.4,896.9 L526.9,896.7 L527.4,896.6 L527.9,896.4 L528.4,896.2 L528.9,896.1 L529.4,895.9 L529.9,895.8 L530.4,895.6 L530.9,895.4 L531.4,895.3 L531.9,895.1 L532.4,895.0 L532.9,894.8 L533.4,894.7 L533.9,894.5 L534.4,894.3 L534.9,894.2 L535.4,894.0 L535.9,893.9 L536.4,893.7 L536.9,893.6 L537.4,893.4 L537.9,893.3 L538.4,893.1 L538.9,892.9 L539.4,892.8 L539.9,892.6 L540.4,892.5 L540.9,892.3 L541.4,892.2 L541.9,892.0 L542.4,891.9 L542.9,891.7 L543.4,891.6 L543.9,891.4 L544.4,891.3 L544.9,891.1 L545.4,890.9 L545.9,890.8 L546.4,890.6 L546.9,890.5 L547.4,890.3 L547.9,890.2 L548.4,890.0 L548.9,889.9 L549.4,889.7 L549.9,889.6 L550.4,889.4 L550.9,889.3 L551.4,889.1 L551.9,889.0 L552.4,888.8 L552.9,888.7 L553.4,888.5 L553.9,888.4 L554.4,888.2 L554.9,888.1 L555.4,887.9 L555.9,887.8 L556.4,887.6 L556.9,887.5 L557.4,887.3 L557.9,887.2 L558.4,887.0 L558.9,886.9 L559.4,886.8 L559.9,886.6 L560.4,886.5 L560.9,886.3 L561.4,886.2 L561.9,886.0 L562.4,885.9 L562.9,885.7 L563.4,885.6 L563.9,885.4 L564.4,885.3 L564.9,885.1 L565.4,885.0 L565.9,884.9 L566.4,884.7 L566.9,884.6 L567.4,884.4 L567.9,884.3 L568.4,884.1 L568.9,884.0 L569.4,883.8 L569.9,883.7 L570.4,883.6 L570.9,883.4 L571.4,883.3 L571.9,883.1 L572.4,883.0 L572.9,882.8 L573.4,882.7 L573.9,882.6 L574.4,882.4 L574.9,882.3 L575.4,882.1 L575.9,882.0 L576.4,881.8 L576.9,881.7 L577.4,881.6 L577.9,881.4 L578.4,881.3 L578.9,881.1 L579.4,881.0 L579.9,880.9 L580.4,880.7 L580.9,880.6 L581.4,880.4 L581.9,880.3 L582.4,880.2 L582.9,880.0 L583.4,879.9 L583.9,879.7 L584.4,879.6 L584.9,879.5 L585.4,879.3 L585.9,879.2 L586.4,879.0 L586.9,878.9 L587.4,878.8 L587.9,878.6 L588.4,878.5 L588.9,878.4 L589.4,878.2 L589.9,878.1 L590.4,877.9 L590.9,877.8 L591.4,877.7 L591.9,877.5 L592.4,877.4 L592.9,877.3 L593.4,877.1 L593.9,877.0 L594.4,876.9 L594.9,876.7 L595.4,876.6 L595.9,876.4 L596.4,876.3 L596.9,876.2 L597.4,876.0 L597.9,875.9 L598.4,875.8 L598.9,875.6 L599.4,875.5 L599.9,875.4 L600.4,875.2 L600.9,875.1 L601.4,875.0 L601.9,874.8 L602.4,874.7 L602.9,874.6 L603.4,874.4 L603.9,874.3 L604.4,874.2 L604.9,874.0 L605.4,873.9 L605.9,873.8 L606.4,873.6 L606.9,873.5 L607.4,873.4 L607.9,873.2 L608.4,873.1 L608.9,873.0 L609.4,872.8 L609.9,872.7 L610.4,872.6 L610.9,872.4 L611.4,872.3 L611.9,872.2 L612.4,872.0 L612.9,871.9 L613.4,871.8 L613.9,871.7 L614.4,871.5 L614.9,871.4 L615.4,871.3 L615.9,871.1 L616.4,871.0 L616.9,870.9 L617.4,870.7 L617.9,870.6 L618.4,870.5 L618.9,870.4 L619.4,870.2 L619.9,870.1 L620.4,870.0 L620.9,869.8 L621.4,869.7 L621.9,869.6 L622.4,869.5 L622.9,869.3 L623.4,869.2 L623.9,869.1 L624.4,868.9 L624.9,868.8 L625.4,868.7 L625.9,868.6 L626.4,868.4 L626.9,868.3 L627.4,868.2 L627.9,868.0 L628.4,867.9 L628.9,867.8 L629.4,867.7 L629.9,867.5 L630.4,867.4 L630.9,867.3 L631.4,867.2 L631.9,867.0 L632.4,866.9 L632.9,866.8 L633.4,866.7 L633.9,866.5 L634.4,866.4 L634.9,866.3 L635.4,866.2 L635.9,866.0 L636.4,865.9 L636.9,865.8 L637.4,865.7 L637.9,865.5 L638.4,865.4 L638.9,865.3 L639.4,865.2 L639.9,865.0 L640.4,864.9 L640.9,864.8 L641.4,864.7 L641.9,864.5 L642.4,864.4 L642.9,864.3 L643.4,864.2 L643.9,864.0 L644.4,863.9 L644.9,863.8 L645.4,863.7 L645.9,863.5 L646.4,863.4 L646.9,863.3 L647.4,863.2 L647.9,863.1 L648.4,862.9 L648.9,862.8 L649.4,862.7 L649.9,862.6 L650.4,862.4 L650.9,862.3 L651.4,862.2 L651.9,862.1 L652.4,862.0 L652.9,861.8 L653.4,861.7 L653.9,861.6 L654.4,861.5 L654.9,861.3 L655.4,861.2 L655.9,861.1 L656.4,861.0 L656.9,860.9 L657.4,860.7 L657.9,860.6 L658.4,860.5 L658.9,860.4 L659.4,860.3 L659.9,860.1 L660.4,860.0 L660.9,859.9 L661.4,859.8 L661.9,859.7 L662.4,859.5 L662.9,859.4 L663.4,859.3 L663.9,859.2 L664.4,859.1 L664.9,859.0 L665.4,858.8 L665.9,858.7 L666.4,858.6 L666.9,858.5 L667.4,858.4 L667.9,858.2 L668.4,858.1 L668.9,858.0 L669.4,857.9 L669.9,857.8 L670.4,857.6 L670.9,857.5 L671.4,857.4 L671.9,857.3 L672.4,857.2 L672.9,857.1 L673.4,856.9 L673.9,856.8 L674.4,856.7 L674.9,856.6 L675.4,856.5 L675.9,856.4 L676.4,856.2 L676.9,856.1 L677.4,856.0 L677.9,855.9 L678.4,855.8 L678.9,855.7 L679.4,855.5 L679.9,855.4 L680.4,855.3 L680.9,855.2 L681.4,855.1 L681.9,855.0 L682.4,854.8 L682.9,854.7 L683.4,854.6 L683.9,854.5 L684.4,854.4 L684.9,854.3 L685.4,854.2 L685.9,854.0 L686.4,853.9 L686.9,853.8 L687.4,853.7 L687.9,853.6 L688.4,853.5 L688.9,853.4 L689.4,853.2 L689.9,853.1 L690.4,853.0 L690.9,852.9 L691.4,852.8 L691.9,852.7 L692.4,852.6 L692.9,852.4 L693.4,852.3 L693.9,852.2 L694.4,852.1 L694.9,852.0 L695.4,851.9 L695.9,851.8 L696.4,851.6 L696.9,851.5 L697.4,851.4 L697.9,851.3 L698.4,851.2 L698.9,851.1 L699.4,851.0 L699.9,850.9 L700.4,850.7 L700.9,850.6 L701.4,850.5 L701.9,850.4 L702.4,850.3 L702.9,850.2 L703.4,850.1 L703.9,850.0 L704.4,849.8 L704.9,849.7 L705.4,849.6 L705.9,849.5 L706.4,849.4 L706.9,849.3 L707.4,849.2 L707.9,849.1 L708.4,849.0 L708.9,848.8 L709.4,848.7 L709.9,848.6 L710.4,848.5 L710.9,848.4 L711.4,848.3 L711.9,848.2 L712.4,848.1 L712.9,848.0 L713.4,847.8 L713.9,847.7 L714.4,847.6 L714.9,847.5 L715.4,847.4 L715.9,847.3 L716.4,847.2 L716.9,847.1 L717.4,847.0 L717.9,846.9 L718.4,846.8 L718.9,846.6 L719.4,846.5 L719.9,846.4 L720.4,846.3 L720.9,846.2 L721.4,846.1 L721.9,846.0 L722.4,845.9 L722.9,845.8 L723.4,845.7 L723.9,845.6 L724.4,845.4 L724.9,845.3 L725.4,845.2 L725.9,845.1 L726.4,845.0 L726.9,844.9 L727.4,844.8 L727.9,844.7 L728.4,844.6 L728.9,844.5 L729.4,844.4 L729.9,844.3 L730.4,844.1 L730.9,844.0 L731.4,843.9 L731.9,843.8 L732.4,843.7 L732.9,843.6 L733.4,843.5 L733.9,843.4 L734.4,843.3 L734.9,843.2 L735.4,843.1 L735.9,843.0 L736.4,842.9 L736.9,842.8 L737.4,842.6 L737.9,842.5 L738.4,842.4 L738.9,842.3 L739.4,842.2 L739.9,842.1 L740.4,842.0 L740.9,841.9 L741.4,841.8 L741.9,841.7 L742.4,841.6 L742.9,841.5 L743.4,841.4 L743.9,841.3 L744.4,841.2 L744.9,841.1 L745.4,840.9 L745.9,840.8 L746.4,840.7 L746.9,840.6 L747.4,840.5 L747.9,840.4 L748.4,840.3 L748.9,840.2 L749.4,840.1 L749.9,840.0 L750.4,839.9 L750.9,839.8 L751.4,839.7 L751.9,839.6 L752.4,839.5 L752.9,839.4 L753.4,839.3 L753.9,839.2 L754.4,839.1 L754.9,839.0 L755.4,838.8 L755.9,838.7 L756.4,838.6 L756.9,838.5 L757.4,838.4 L757.9,838.3 L758.4,838.2 L758.9,838.1 L759.4,838.0 L759.9,837.9 L760.4,837.8 L760.9,837.7 L761.4,837.6 L761.9,837.5 L762.4,837.4 L762.9,837.3 L763.4,837.2 L763.9,837.1 L764.4,837.0 L764.9,836.9 L765.4,836.8 L765.9,836.7 L766.4,836.6 L766.9,836.5 L767.4,836.4 L767.9,836.3 L768.4,836.2 L768.9,836.1 L769.4,836.0 L769.9,835.9 L770.4,835.8 L770.9,835.6 L771.4,835.5 L771.9,835.4 L772.4,835.3 L772.9,835.2 L773.4,835.1 L773.9,835.0 L774.4,834.9 L774.8,834.9" fill="none" stroke="#ff0000" stroke-width="5.2" stroke-linejoin="round" stroke-linecap="butt"/>
<path d="M162.4,1113.0 L162.9,1113.0 L163.4,1113.0 L163.9,1113.0 L164.4,1113.0 L164.9,1113.0 L165.4,1113.0 L165.9,1113.0 L166.4,1113.0 L166.9,1113.0 L167.4,1113.0 L167.9,1113.0 L168.4,1112.9 L168.9,1112.9 L169.4,1112.9 L169.9,1112.9 L170.4,1112.9 L170.9,1112.9 L171.4,1112.9 L171.9,1112.9 L172.4,1112.8 L172.9,1112.8 L173.4,1112.8 L173.9,1112.7 L174.4,1112.6 L174.9,1112.6 L175.4,1112.5 L175.9,1112.4 L176.4,1112.4 L176.9,1112.3 L177.4,1112.2 L177.9,1112.1 L178.4,1111.9 L178.9,1111.7 L179.4,1111.5 L179.9,1111.2 L180.4,1110.9 L180.9,1110.6 L181.4,1110.3 L181.9,1109.9 L182.4,1109.5 L182.9,1109.1 L183.4,1108.7 L183.9,1108.3 L184.4,1107.9 L184.9,1107.5 L185.4,1107.1 L185.9,1106.6 L186.4,1106.0 L186.9,1105.4 L187.4,1104.7 L187.9,1103.9 L188.4,1103.0 L188.9,1101.5 L189.4,1099.4 L189.9,1097.3 L190.4,1095.6 L190.9,1094.2 L191.4,1092.9 L191.9,1091.8 L192.4,1090.9 L192.9,1090.3 L193.4,1089.7 L193.9,1089.1 L194.4,1088.7 L194.9,1088.2 L195.4,1087.8 L195.9,1087.4 L196.4,1087.1 L196.9,1086.7 L197.4,1086.3 L197.9,1085.9 L198.4,1085.6 L198.9,1085.1 L199.4,1084.7 L199.9,1084.3 L200.4,1083.9 L200.9,1083.5 L201.4,1083.0 L201.9,1082.6 L202.4,1082.2 L202.9,1081.8 L203.4,1081.4 L203.9,1081.0 L204.4,1080.6 L204.9,1080.2 L205.4,1079.8 L205.9,1079.3 L206.4,1078.9 L206.9,1078.5 L207.4,1078.1 L207.9,1077.6 L208.4,1077.2 L208.9,1076.8 L209.4,1076.4 L209.9,1076.0 L210.4,1075.6 L210.9,1075.1 L211.4,1074.7 L211.9,1074.3 L212.4,1073.8 L212.9,1073.3 L213.4,1072.9 L213.9,1072.3 L214.4,1071.8 L214.9,1071.3 L215.4,1070.7 L215.9,1070.0 L216.4,1069.3 L216.9,1068.5 L217.4,1067.6 L217.9,1066.8 L218.4,1065.9 L218.9,1065.1 L219.4,1064.3 L219.9,1063.6 L220.4,1063.0 L220.9,1062.4 L221.4,1061.9 L221.9,1061.4 L222.4,1060.9 L222.9,1060.4 L223.4,1059.9 L223.9,1059.5 L224.4,1059.0 L224.9,1058.6 L225.4,1058.1 L225.9,1057.7 L226.4,1057.3 L226.9,1056.8 L227.4,1056.4 L227.9,1055.9 L228.4,1055.4 L228.9,1054.9 L229.4,1054.3 L229.9,1053.8 L230.4,1053.2 L230.9,1052.6 L231.4,1052.0 L231.9,1051.4 L232.4,1050.7 L232.9,1050.0 L233.4,1049.4 L233.9,1048.7 L234.4,1048.0 L234.9,1047.3 L235.4,1046.6 L235.9,1045.9 L236.4,1045.2 L236.9,1044.5 L237.4,1043.8 L237.9,1043.0 L238.4,1042.3 L238.9,1041.5 L239.4,1040.7 L239.9,1039.9 L240.4,1039.1 L240.9,1038.3 L241.4,1037.5 L241.9,1036.8 L242.4,1036.1 L242.9,1035.4 L243.4,1034.7 L243.9,1034.0 L244.4,1033.3 L244.9,1032.7 L245.4,1032.0 L245.9,1031.3 L246.4,1030.7 L246.9,1030.1 L247.4,1029.4 L247.9,1028.8 L248.4,1028.2 L248.9,1027.6 L249.4,1026.9 L249.9,1026.3 L250.4,1025.7 L250.9,1025.2 L251.4,1024.6 L251.9,1024.0 L252.4,1023.4 L252.9,1022.8 L253.4,1022.3 L253.9,1021.7 L254.4,1021.2 L254.9,1020.6 L255.4,1020.1 L255.9,1019.6 L256.4,1019.1 L256.9,1018.6 L257.4,1018.1 L257.9,1017.6 L258.4,1017.1 L258.9,1016.6 L259.4,1016.1 L259.9,1015.7 L260.4,1015.2 L260.9,1014.7 L261.4,1014.3 L261.9,1013.8 L262.4,1013.4 L262.9,1012.9 L263.4,1012.5 L263.9,1012.0 L264.4,1011.6 L264.9,1011.1 L265.4,1010.7 L265.9,1010.2 L266.4,1009.8 L266.9,1009.4 L267.4,1008.9 L267.9,1008.5 L268.4,1008.1 L268.9,1007.7 L269.4,1007.3 L269.9,1006.8 L270.4,1006.4 L270.9,1006.0 L271.4,1005.6 L271.9,1005.2 L272.4,1004.8 L272.9,1004.4 L273.4,1004.0 L273.9,1003.6 L274.4,1003.2 L274.9,1002.8 L275.4,1002.4 L275.9,1002.0 L276.4,1001.6 L276.9,1001.3 L277.4,1000.9 L277.9,1000.5 L278.4,1000.1 L278.9,999.7 L279.4,999.4 L279.9,999.0 L280.4,998.6 L280.9,998.2 L281.4,997.9 L281.9,997.5 L282.4,997.1 L282.9,996.8 L283.4,996.4 L283.9,996.0 L284.4,995.7 L284.9,995.3 L285.4,995.0 L285.9,994.6 L286.4,994.3 L286.9,993.9 L287.4,993.5 L287.9,993.2 L288.4,992.8 L288.9,992.5 L289.4,992.2 L289.9,991.8 L290.4,991.5 L290.9,991.1 L291.4,990.8 L291.9,990.4 L292.4,990.1 L292.9,989.8 L293.4,989.4 L293.9,989.1 L294.4,988.8 L294.9,988.4 L295.4,988.1 L295.9,987.8 L296.4,987.4 L296.9,987.1 L297.4,986.8 L297.9,986.4 L298.4,986.1 L298.9,985.8 L299.4,985.5 L299.9,985.1 L300.4,984.8 L300.9,984.5 L301.4,984.2 L301.9,983.9 L302.4,983.5 L302.9,983.2 L303.4,982.9 L303.9,982.6 L304.4,982.3 L304.9,982.0 L305.4,981.6 L305.9,981.3 L306.4,981.0 L306.9,980.7 L307.4,980.4 L307.9,980.1 L308.4,979.8 L308.9,979.5 L309.4,979.2 L309.9,978.9 L310.4,978.6 L310.9,978.3 L311.4,977.9 L311.9,977.6 L312.4,977.3 L312.9,977.0 L313.4,976.7 L313.9,976.4 L314.4,976.1 L314.9,975.8 L315.4,975.5 L315.9,975.2 L316.4,974.9 L316.9,974.6 L317.4,974.3 L317.9,974.1 L318.4,973.8 L318.9,973.5 L319.4,973.2 L319.9,972.9 L320.4,972.6 L320.9,972.3 L321.4,972.0 L321.9,971.7 L322.4,971.4 L322.9,971.1 L323.4,970.8 L323.9,970.6 L324.4,970.3 L324.9,970.0 L325.4,969.7 L325.9,969.4 L326.4,969.1 L326.9,968.8 L327.4,968.5 L327.9,968.3 L328.4,968.0 L328.9,967.7 L329.4,967.4 L329.9,967.1 L330.4,966.8 L330.9,966.6 L331.4,966.3 L331.9,966.0 L332.4,965.7 L332.9,965.4 L333.4,965.2 L333.9,964.9 L334.4,964.6 L334.9,964.3 L335.4,964.1 L335.9,963.8 L336.4,963.5 L336.9,963.2 L337.4,963.0 L337.9,962.7 L338.4,962.4 L338.9,962.1 L339.4,961.9 L339.9,961.6 L340.4,961.3 L340.9,961.0 L341.4,960.8 L341.9,960.5 L342.4,960.2 L342.9,960.0 L343.4,959.7 L343.9,959.4 L344.4,959.1 L344.9,958.9 L345.4,958.6 L345.9,958.3 L346.4,958.1 L346.9,957.8 L347.4,957.5 L347.9,957.3 L348.4,957.0 L348.9,956.7 L349.4,956.5 L349.9,956.2 L350.4,955.9 L350.9,955.7 L351.4,955.4 L351.9,955.1 L352.4,954.9 L352.9,954.6 L353.4,954.3 L353.9,954.1 L354.4,953.8 L354.9,953.6 L355.4,953.3 L355.9,953.0 L356.4,952.8 L356.9,952.5 L357.4,952.3 L357.9,952.0 L358.4,951.7 L358.9,951.5 L359.4,951.2 L359.9,951.0 L360.4,950.7 L360.9,950.4 L361.4,950.2 L361.9,949.9 L362.4,949.7 L362.9,949.4 L363.4,949.2 L363.9,948.9 L364.4,948.6 L364.9,948.4 L365.4,948.1 L365.9,947.9 L366.4,947.6 L366.9,947.4 L367.4,947.1 L367.9,946.9 L368.4,946.6 L368.9,946.4 L369.4,946.1 L369.9,945.8 L370.4,945.6 L370.9,945.3 L371.4,945.1 L371.9,944.8 L372.4,944.6 L372.9,944.3 L373.4,944.1 L373.9,943.8 L374.4,943.6 L374.9,943.3 L375.4,943.1 L375.9,942.8 L376.4,942.6 L376.9,942.3 L377.4,942.1 L377.9,941.8 L378.4,941.6 L378.9,941.4 L379.4,941.1 L379.9,940.9 L380.4,940.6 L380.9,940.4 L381.4,940.1 L381.9,939.9 L382.4,939.6 L382.9,939.4 L383.4,939.1 L383.9,938.9 L384.4,938.6 L384.9,938.4 L385.4,938.2 L385.9,937.9 L386.4,937.7 L386.9,937.4 L387.4,937.2 L387.9,936.9 L388.4,936.7 L388.9,936.5 L389.4,936.2 L389.9,936.0 L390.4,935.7 L390.9,935.5 L391.4,935.2 L391.9,935.0 L392.4,934.8 L392.9,934.5 L393.4,934.3 L393.9,934.0 L394.4,933.8 L394.9,933.6 L395.4,933.3 L395.9,933.1 L396.4,932.9 L396.9,932.6 L397.4,932.4 L397.9,932.1 L398.4,931.9 L398.9,931.7 L399.4,931.4 L399.9,931.2 L400.4,931.0 L400.9,930.7 L401.4,930.5 L401.9,930.2 L402.4,930.0 L402.9,929.8 L403.4,929.5 L403.9,929.3 L404.4,929.1 L404.9,928.8 L405.4,928.6 L405.9,928.4 L406.4,928.1 L406.9,927.9 L407.4,927.7 L407.9,927.4 L408.4,927.2 L408.9,927.0 L409.4,926.7 L409.9,926.5 L410.4,926.3 L410.9,926.0 L411.4,925.8 L411.9,925.6 L412.4,925.4 L412.9,925.1 L413.4,924.9 L413.9,924.7 L414.4,924.4 L414.9,924.2 L415.4,924.0 L415.9,923.7 L416.4,923.5 L416.9,923.3 L417.4,923.1 L417.9,922.8 L418.4,922.6 L418.9,922.4 L419.4,922.1 L419.9,921.9 L420.4,921.7 L420.9,921.5 L421.4,921.2 L421.9,921.0 L422.4,920.8 L422.9,920.6 L423.4,920.3 L423.9,920.1 L424.4,919.9 L424.9,919.7 L425.4,919.4 L425.9,919.2 L426.4,919.0 L426.9,918.8 L427.4,918.5 L427.9,918.3 L428.4,918.1 L428.9,917.9 L429.4,917.6 L429.9,917.4 L430.4,917.2 L430.9,917.0 L431.4,916.8 L431.9,916.5 L432.4,916.3 L432.9,916.1 L433.4,915.9 L433.9,915.6 L434.4,915.4 L434.9,915.2 L435.4,915.0 L435.9,914.8 L436.4,914.5 L436.9,914.3 L437.4,914.1 L437.9,913.9 L438.4,913.7 L438.9,913.4 L439.4,913.2 L439.9,913.0 L440.4,912.8 L440.9,912.6 L441.4,912.4 L441.9,912.1 L442.4,911.9 L442.9,911.7 L443.4,911.5 L443.9,911.3 L444.4,911.1 L444.9,910.8 L445.4,910.6 L445.9,910.4 L446.4,910.2 L446.9,910.0 L447.4,909.8 L447.9,909.5 L448.4,909.3 L448.9,909.1 L449.4,908.9 L449.9,908.7 L450.4,908.5 L450.9,908.3 L451.4,908.0 L451.9,907.8 L452.4,907.6 L452.9,907.4 L453.4,907.2 L453.9,907.0 L454.4,906.8 L454.9,906.6 L455.4,906.3 L455.9,906.1 L456.4,905.9 L456.9,905.7 L457.4,905.5 L457.9,905.3 L458.4,905.1 L458.9,904.9 L459.4,904.7 L459.9,904.4 L460.4,904.2 L460.9,904.0 L461.4,903.8 L461.9,903.6 L462.4,903.4 L462.9,903.2 L463.4,903.0 L463.9,902.8 L464.4,902.6 L464.9,902.4 L465.4,902.2 L465.9,901.9 L466.4,901.7 L466.9,901.5 L467.4,901.3 L467.9,901.1 L468.4,900.9 L468.9,900.7 L469.4,900.5 L469.9,900.3 L470.4,900.1 L470.9,899.9 L471.4,899.7 L471.9,899.5 L472.4,899.3 L472.9,899.1 L473.4,898.9 L473.9,898.7 L474.4,898.4 L474.9,898.2 L475.4,898.0 L475.9,897.8 L476.4,897.6 L476.9,897.4 L477.4,897.2 L477.9,897.0 L478.4,896.8 L478.9,896.6 L479.4,896.4 L479.9,896.2 L480.4,896.0 L480.9,895.8 L481.4,895.6 L481.9,895.4 L482.4,895.2 L482.9,895.0 L483.4,894.8 L483.9,894.6 L484.4,894.4 L484.9,894.2 L485.4,894.0 L485.9,893.8 L486.4,893.6 L486.9,893.4 L487.4,893.2 L487.9,893.0 L488.4,892.8 L488.9,892.6 L489.4,892.4 L489.9,892.2 L490.4,892.0 L490.9,891.8 L491.4,891.6 L491.9,891.4 L492.4,891.2 L492.9,891.0 L493.4,890.9 L493.9,890.7 L494.4,890.5 L494.9,890.3 L495.4,890.1 L495.9,889.9 L496.4,889.7 L496.9,889.5 L497.4,889.3 L497.9,889.1 L498.4,888.9 L498.9,888.7 L499.4,888.5 L499.9,888.3 L500.4,888.1 L500.9,887.9 L501.4,887.7 L501.9,887.5 L502.4,887.4 L502.9,887.2 L503.4,887.0 L503.9,886.8 L504.4,886.6 L504.9,886.4 L505.4,886.2 L505.9,886.0 L506.4,885.8 L506.9,885.6 L507.4,885.4 L507.9,885.3 L508.4,885.1 L508.9,884.9 L509.4,884.7 L509.9,884.5 L510.4,884.3 L510.9,884.1 L511.4,883.9 L511.9,883.7 L512.4,883.5 L512.9,883.4 L513.4,883.2 L513.9,883.0 L514.4,882.8 L514.9,882.6 L515.4,882.4 L515.9,882.2 L516.4,882.0 L516.9,881.9 L517.4,881.7 L517.9,881.5 L518.4,881.3 L518.9,881.1 L519.4,880.9 L519.9,880.7 L520.4,880.6 L520.9,880.4 L521.4,880.2 L521.9,880.0 L522.4,879.8 L522.9,879.6 L523.4,879.4 L523.9,879.3 L524.4,879.1 L524.9,878.9 L525.4,878.7 L525.9,878.5 L526.4,878.3 L526.9,878.2 L527.4,878.0 L527.9,877.8 L528.4,877.6 L528.9,877.4 L529.4,877.2 L529.9,877.1 L530.4,876.9 L530.9,876.7 L531.4,876.5 L531.9,876.3 L532.4,876.2 L532.9,876.0 L533.4,875.8 L533.9,875.6 L534.4,875.4 L534.9,875.3 L535.4,875.1 L535.9,874.9 L536.4,874.7 L536.9,874.5 L537.4,874.4 L537.9,874.2 L538.4,874.0 L538.9,873.8 L539.4,873.6 L539.9,873.5 L540.4,873.3 L540.9,873.1 L541.4,872.9 L541.9,872.8 L542.4,872.6 L542.9,872.4 L543.4,872.2 L543.9,872.1 L544.4,871.9 L544.9,871.7 L545.4,871.5 L545.9,871.3 L546.4,871.2 L546.9,871.0 L547.4,870.8 L547.9,870.6 L548.4,870.5 L548.9,870.3 L549.4,870.1 L549.9,870.0 L550.4,869.8 L550.9,869.6 L551.4,869.4 L551.9,869.3 L552.4,869.1 L552.9,868.9 L553.4,868.7 L553.9,868.6 L554.4,868.4 L554.9,868.2 L555.4,868.0 L555.9,867.9 L556.4,867.7 L556.9,867.5 L557.4,867.4 L557.9,867.2 L558.4,867.0 L558.9,866.8 L559.4,866.7 L559.9,866.5 L560.4,866.3 L560.9,866.2 L561.4,866.0 L561.9,865.8 L562.4,865.7 L562.9,865.5 L563.4,865.3 L563.9,865.1 L564.4,865.0 L564.9,864.8 L565.4,864.6 L565.9,864.5 L566.4,864.3 L566.9,864.1 L567.4,864.0 L567.9,863.8 L568.4,863.6 L568.9,863.5 L569.4,863.3 L569.9,863.1 L570.4,863.0 L570.9,862.8 L571.4,862.6 L571.9,862.5 L572.4,862.3 L572.9,862.1 L573.4,862.0 L573.9,861.8 L574.4,861.6 L574.9,861.5 L575.4,861.3 L575.9,861.1 L576.4,861.0 L576.9,860.8 L577.4,860.7 L577.9,860.5 L578.4,860.3 L578.9,860.2 L579.4,860.0 L579.9,859.8 L580.4,859.7 L580.9,859.5 L581.4,859.4 L581.9,859.2 L582.4,859.0 L582.9,858.9 L583.4,858.7 L583.9,858.5 L584.4,858.4 L584.9,858.2 L585.4,858.1 L585.9,857.9 L586.4,857.7 L586.9,857.6 L587.4,857.4 L587.9,857.3 L588.4,857.1 L588.9,856.9 L589.4,856.8 L589.9,856.6 L590.4,856.5 L590.9,856.3 L591.4,856.1 L591.9,856.0 L592.4,855.8 L592.9,855.7 L593.4,855.5 L593.9,855.3 L594.4,855.2 L594.9,855.0 L595.4,854.9 L595.9,854.7 L596.4,854.6 L596.9,854.4 L597.4,854.2 L597.9,854.1 L598.4,853.9 L598.9,853.8 L599.4,853.6 L599.9,853.5 L600.4,853.3 L600.9,853.1 L601.4,853.0 L601.9,852.8 L602.4,852.7 L602.9,852.5 L603.4,852.4 L603.9,852.2 L604.4,852.1 L604.9,851.9 L605.4,851.8 L605.9,851.6 L606.4,851.4 L606.9,851.3 L607.4,851.1 L607.9,851.0 L608.4,850.8 L608.9,850.7 L609.4,850.5 L609.9,850.4 L610.4,850.2 L610.9,850.1 L611.4,849.9 L611.9,849.8 L612.4,849.6 L612.9,849.5 L613.4,849.3 L613.9,849.2 L614.4,849.0 L614.9,848.9 L615.4,848.7 L615.9,848.6 L616.4,848.4 L616.9,848.3 L617.4,848.1 L617.9,848.0 L618.4,847.8 L618.9,847.7 L619.4,847.5 L619.9,847.4 L620.4,847.2 L620.9,847.1 L621.4,846.9 L621.9,846.8 L622.4,846.6 L622.9,846.5 L623.4,846.3 L623.9,846.2 L624.4,846.0 L624.9,845.9 L625.4,845.7 L625.9,845.6 L626.4,845.4 L626.9,845.3 L627.4,845.2 L627.9,845.0 L628.4,844.9 L628.9,844.7 L629.4,844.6 L629.9,844.4 L630.4,844.3 L630.9,844.1 L631.4,844.0 L631.9,843.8 L632.4,843.7 L632.9,843.6 L633.4,843.4 L633.9,843.3 L634.4,843.1 L634.9,843.0 L635.4,842.8 L635.9,842.7 L636.4,842.5 L636.9,842.4 L637.4,842.3 L637.9,842.1 L638.4,842.0 L638.9,841.8 L639.4,841.7 L639.9,841.5 L640.4,841.4 L640.9,841.3 L641.4,841.1 L641.9,841.0 L642.4,840.8 L642.9,840.7 L643.4,840.6 L643.9,840.4 L644.4,840.3 L644.9,840.1 L645.4,840.0 L645.9,839.9 L646.4,839.7 L646.9,839.6 L647.4,839.4 L647.9,839.3 L648.4,839.2 L648.9,839.0 L649.4,838.9 L649.9,838.7 L650.4,838.6 L650.9,838.5 L651.4,838.3 L651.9,838.2 L652.4,838.0 L652.9,837.9 L653.4,837.8 L653.9,837.6 L654.4,837.5 L654.9,837.4 L655.4,837.2 L655.9,837.1 L656.4,836.9 L656.9,836.8 L657.4,836.7 L657.9,836.5 L658.4,836.4 L658.9,836.3 L659.4,836.1 L659.9,836.0 L660.4,835.9 L660.9,835.7 L661.4,835.6 L661.9,835.5 L662.4,835.3 L662.9,835.2 L663.4,835.0 L663.9,834.9 L664.4,834.8 L664.9,834.6 L665.4,834.5 L665.9,834.4 L666.4,834.2 L666.9,834.1 L667.4,834.0 L667.9,833.8 L668.4,833.7 L668.9,833.6 L669.4,833.4 L669.9,833.3 L670.4,833.2 L670.9,833.1 L671.4,832.9 L671.9,832.8 L672.4,832.7 L672.9,832.5 L673.4,832.4 L673.9,832.3 L674.4,832.1 L674.9,832.0 L675.4,831.9 L675.9,831.7 L676.4,831.6 L676.9,831.5 L677.4,831.3 L677.9,831.2 L678.4,831.1 L678.9,831.0 L679.4,830.8 L679.9,830.7 L680.4,830.6 L680.9,830.4 L681.4,830.3 L681.9,830.2 L682.4,830.1 L682.9,829.9 L683.4,829.8 L683.9,829.7 L684.4,829.5 L684.9,829.4 L685.4,829.3 L685.9,829.2 L686.4,829.0 L686.9,828.9 L687.4,828.8 L687.9,828.7 L688.4,828.5 L688.9,828.4 L689.4,828.3 L689.9,828.2 L690.4,828.0 L690.9,827.9 L691.4,827.8 L691.9,827.6 L692.4,827.5 L692.9,827.4 L693.4,827.3 L693.9,827.1 L694.4,827.0 L694.9,826.9 L695.4,826.8 L695.9,826.7 L696.4,826.5 L696.9,826.4 L697.4,826.3 L697.9,826.2 L698.4,826.0 L698.9,825.9 L699.4,825.8 L699.9,825.7 L700.4,825.5 L700.9,825.4 L701.4,825.3 L701.9,825.2 L702.4,825.1 L702.9,824.9 L703.4,824.8 L703.9,824.7 L704.4,824.6 L704.9,824.4 L705.4,824.3 L705.9,824.2 L706.4,824.1 L706.9,824.0 L707.4,823.8 L707.9,823.7 L708.4,823.6 L708.9,823.5 L709.4,823.4 L709.9,823.2 L710.4,823.1 L710.9,823.0 L711.4,822.9 L711.9,822.8 L712.4,822.6 L712.9,822.5 L713.4,822.4 L713.9,822.3 L714.4,822.2 L714.9,822.0 L715.4,821.9 L715.9,821.8 L716.4,821.7 L716.9,821.6 L717.4,821.5 L717.9,821.3 L718.4,821.2 L718.9,821.1 L719.4,821.0 L719.9,820.9 L720.4,820.8 L720.9,820.6 L721.4,820.5 L721.9,820.4 L722.4,820.3 L722.9,820.2 L723.4,820.1 L723.9,819.9 L724.4,819.8 L724.9,819.7 L725.4,819.6 L725.9,819.5 L726.4,819.4 L726.9,819.3 L727.4,819.1 L727.9,819.0 L728.4,818.9 L728.9,818.8 L729.4,818.7 L729.9,818.6 L730.4,818.5 L730.9,818.3 L731.4,818.2 L731.9,818.1 L732.4,818.0 L732.9,817.9 L733.4,817.8 L733.9,817.7 L734.4,817.5 L734.9,817.4 L735.4,817.3 L735.9,817.2 L736.4,817.1 L736.9,817.0 L737.4,816.9 L737.9,816.8 L738.4,816.7 L738.9,816.5 L739.4,816.4 L739.9,816.3 L740.4,816.2 L740.9,816.1 L741.4,816.0 L741.9,815.9 L742.4,815.8 L742.9,815.7 L743.4,815.5 L743.9,815.4 L744.4,815.3 L744.9,815.2 L745.4,815.1 L745.9,815.0 L746.4,814.9 L746.9,814.8 L747.4,814.7 L747.9,814.6 L748.4,814.5 L748.9,814.3 L749.4,814.2 L749.9,814.1 L750.4,814.0 L750.9,813.9 L751.4,813.8 L751.9,813.7 L752.4,813.6 L752.9,813.5 L753.4,813.4 L753.9,813.3 L754.4,813.2 L754.9,813.1 L755.4,812.9 L755.9,812.8 L756.4,812.7 L756.9,812.6 L757.4,812.5 L757.9,812.4 L758.4,812.3 L758.9,812.2 L759.4,812.1 L759.9,812.0 L760.4,811.9 L760.9,811.8 L761.4,811.7 L761.9,811.6 L762.4,811.5 L762.9,811.4 L763.4,811.3 L763.9,811.2 L764.4,811.1 L764.9,811.0 L765.4,810.8 L765.9,810.7 L766.4,810.6 L766.9,810.5 L767.4,810.4 L767.9,810.3 L768.4,810.2 L768.9,810.1 L769.4,810.0 L769.9,809.9 L770.4,809.8 L770.9,809.7 L771.4,809.6 L771.9,809.5 L772.4,809.4 L772.9,809.3 L773.4,809.2 L773.9,809.1 L774.4,809.0 L774.8,808.9" fill="none" stroke="#0000ff" stroke-width="5.2" stroke-linejoin="round" stroke-linecap="butt"/>
<path d="M162.4,1113.0 L162.9,1113.0 L163.4,1113.0 L163.9,1113.0 L164.4,1113.0 L164.9,1113.0 L165.4,1113.0 L165.9,1113.0 L166.4,1113.0 L166.9,1113.0 L167.4,1113.0 L167.9,1112.9 L168.4,1112.9 L168.9,1112.9 L169.4,1112.9 L169.9,1112.9 L170.4,1112.9 L170.9,1112.9 L171.4,1112.8 L171.9,1112.8 L172.4,1112.8 L172.9,1112.7 L173.4,1112.6 L173.9,1112.6 L174.4,1112.5 L174.9,1112.4 L175.4,1112.3 L175.9,1112.2 L176.4,1112.0 L176.9,1111.7 L177.4,1111.2 L177.9,1110.7 L178.4,1110.0 L178.9,1109.3 L179.4,1108.5 L179.9,1107.6 L180.4,1106.4 L180.9,1104.7 L181.4,1102.7 L181.9,1101.0 L182.4,1099.8 L182.9,1098.8 L183.4,1097.9 L183.9,1097.0 L184.4,1096.3 L184.9,1095.6 L185.4,1095.0 L185.9,1094.4 L186.4,1093.8 L186.9,1093.3 L187.4,1092.8 L187.9,1092.4 L188.4,1091.9 L188.9,1091.5 L189.4,1091.0 L189.9,1090.6 L190.4,1090.1 L190.9,1089.6 L191.4,1089.2 L191.9,1088.7 L192.4,1088.3 L192.9,1087.9 L193.4,1087.4 L193.9,1087.0 L194.4,1086.6 L194.9,1086.1 L195.4,1085.7 L195.9,1085.2 L196.4,1084.8 L196.9,1084.3 L197.4,1083.8 L197.9,1083.3 L198.4,1082.8 L198.9,1082.3 L199.4,1081.8 L199.9,1081.3 L200.4,1080.8 L200.9,1080.3 L201.4,1079.8 L201.9,1079.2 L202.4,1078.6 L202.9,1078.0 L203.4,1077.4 L203.9,1076.7 L204.4,1076.0 L204.9,1075.3 L205.4,1074.5 L205.9,1073.7 L206.4,1072.8 L206.9,1071.9 L207.4,1070.9 L207.9,1069.8 L208.4,1068.7 L208.9,1067.4 L209.4,1065.9 L209.9,1064.2 L210.4,1062.6 L210.9,1061.0 L211.4,1059.5 L211.9,1058.0 L212.4,1056.6 L212.9,1055.2 L213.4,1053.9 L213.9,1052.8 L214.4,1051.8 L214.9,1050.9 L215.4,1050.1 L215.9,1049.3 L216.4,1048.5 L216.9,1047.8 L217.4,1047.1 L217.9,1046.4 L218.4,1045.8 L218.9,1045.1 L219.4,1044.5 L219.9,1043.9 L220.4,1043.3 L220.9,1042.7 L221.4,1042.1 L221.9,1041.5 L222.4,1041.0 L222.9,1040.4 L223.4,1039.9 L223.9,1039.4 L224.4,1038.9 L224.9,1038.4 L225.4,1037.8 L225.9,1037.3 L226.4,1036.8 L226.9,1036.3 L227.4,1035.8 L227.9,1035.3 L228.4,1034.8 L228.9,1034.3 L229.4,1033.8 L229.9,1033.3 L230.4,1032.8 L230.9,1032.3 L231.4,1031.8 L231.9,1031.3 L232.4,1030.8 L232.9,1030.3 L233.4,1029.8 L233.9,1029.3 L234.4,1028.8 L234.9,1028.3 L235.4,1027.7 L235.9,1027.2 L236.4,1026.7 L236.9,1026.2 L237.4,1025.7 L237.9,1025.1 L238.4,1024.6 L238.9,1024.1 L239.4,1023.6 L239.9,1023.1 L240.4,1022.5 L240.9,1022.0 L241.4,1021.5 L241.9,1020.9 L242.4,1020.4 L242.9,1019.9 L243.4,1019.3 L243.9,1018.8 L244.4,1018.3 L244.9,1017.7 L245.4,1017.2 L245.9,1016.7 L246.4,1016.2 L246.9,1015.7 L247.4,1015.2 L247.9,1014.7 L248.4,1014.2 L248.9,1013.7 L249.4,1013.2 L249.9,1012.7 L250.4,1012.3 L250.9,1011.8 L251.4,1011.3 L251.9,1010.9 L252.4,1010.4 L252.9,1009.9 L253.4,1009.5 L253.9,1009.0 L254.4,1008.6 L254.9,1008.1 L255.4,1007.7 L255.9,1007.2 L256.4,1006.8 L256.9,1006.4 L257.4,1005.9 L257.9,1005.5 L258.4,1005.1 L258.9,1004.6 L259.4,1004.2 L259.9,1003.8 L260.4,1003.3 L260.9,1002.9 L261.4,1002.5 L261.9,1002.1 L262.4,1001.6 L262.9,1001.2 L263.4,1000.8 L263.9,1000.4 L264.4,999.9 L264.9,999.5 L265.4,999.1 L265.9,998.7 L266.4,998.3 L266.9,997.8 L267.4,997.4 L267.9,997.0 L268.4,996.6 L268.9,996.2 L269.4,995.8 L269.9,995.4 L270.4,994.9 L270.9,994.5 L271.4,994.1 L271.9,993.7 L272.4,993.3 L272.9,992.9 L273.4,992.5 L273.9,992.1 L274.4,991.7 L274.9,991.3 L275.4,990.9 L275.9,990.5 L276.4,990.1 L276.9,989.7 L277.4,989.3 L277.9,988.9 L278.4,988.5 L278.9,988.1 L279.4,987.7 L279.9,987.3 L280.4,986.9 L280.9,986.5 L281.4,986.1 L281.9,985.7 L282.4,985.3 L282.9,984.9 L283.4,984.5 L283.9,984.1 L284.4,983.7 L284.9,983.3 L285.4,982.9 L285.9,982.5 L286.4,982.2 L286.9,981.8 L287.4,981.4 L287.9,981.0 L288.4,980.6 L288.9,980.2 L289.4,979.8 L289.9,979.5 L290.4,979.1 L290.9,978.7 L291.4,978.3 L291.9,977.9 L292.4,977.6 L292.9,977.2 L293.4,976.8 L293.9,976.4 L294.4,976.1 L294.9,975.7 L295.4,975.3 L295.9,974.9 L296.4,974.6 L296.9,974.2 L297.4,973.8 L297.9,973.4 L298.4,973.1 L298.9,972.7 L299.4,972.3 L299.9,972.0 L300.4,971.6 L300.9,971.2 L301.4,970.8 L301.9,970.5 L302.4,970.1 L302.9,969.8 L303.4,969.4 L303.9,969.0 L304.4,968.7 L304.9,968.3 L305.4,967.9 L305.9,967.6 L306.4,967.2 L306.9,966.9 L307.4,966.5 L307.9,966.1 L308.4,965.8 L308.9,965.4 L309.4,965.1 L309.9,964.7 L310.4,964.3 L310.9,964.0 L311.4,963.6 L311.9,963.3 L312.4,962.9 L312.9,962.6 L313.4,962.2 L313.9,961.9 L314.4,961.5 L314.9,961.2 L315.4,960.8 L315.9,960.5 L316.4,960.1 L316.9,959.8 L317.4,959.4 L317.9,959.1 L318.4,958.7 L318.9,958.4 L319.4,958.1 L319.9,957.7 L320.4,957.4 L320.9,957.0 L321.4,956.7 L321.9,956.3 L322.4,956.0 L322.9,955.7 L323.4,955.3 L323.9,955.0 L324.4,954.6 L324.9,954.3 L325.4,954.0 L325.9,953.6 L326.4,953.3 L326.9,953.0 L327.4,952.6 L327.9,952.3 L328.4,951.9 L328.9,951.6 L329.4,951.3 L329.9,950.9 L330.4,950.6 L330.9,950.3 L331.4,950.0 L331.9,949.6 L332.4,949.3 L332.9,949.0 L333.4,948.6 L333.9,948.3 L334.4,948.0 L334.9,947.7 L335.4,947.3 L335.9,947.0 L336.4,946.7 L336.9,946.3 L337.4,946.0 L337.9,945.7 L338.4,945.4 L338.9,945.1 L339.4,944.7 L339.9,944.4 L340.4,944.1 L340.9,943.8 L341.4,943.5 L341.9,943.1 L342.4,942.8 L342.9,942.5 L343.4,942.2 L343.9,941.9 L344.4,941.5 L344.9,941.2 L345.4,940.9 L345.9,940.6 L346.4,940.3 L346.9,940.0 L347.4,939.7 L347.9,939.3 L348.4,939.0 L348.9,938.7 L349.4,938.4 L349.9,938.1 L350.4,937.8 L350.9,937.5 L351.4,937.2 L351.9,936.9 L352.4,936.5 L352.9,936.2 L353.4,935.9 L353.9,935.6 L354.4,935.3 L354.9,935.0 L355.4,934.7 L355.9,934.4 L356.4,934.1 L356.9,933.8 L357.4,933.5 L357.9,933.2 L358.4,932.9 L358.9,932.6 L359.4,932.3 L359.9,932.0 L360.4,931.7 L360.9,931.4 L361.4,931.1 L361.9,930.8 L362.4,930.5 L362.9,930.2 L363.4,929.9 L363.9,929.6 L364.4,929.3 L364.9,929.0 L365.4,928.7 L365.9,928.4 L366.4,928.1 L366.9,927.8 L367.4,927.5 L367.9,927.2 L368.4,926.9 L368.9,926.6 L369.4,926.3 L369.9,926.1 L370.4,925.8 L370.9,925.5 L371.4,925.2 L371.9,924.9 L372.4,924.6 L372.9,924.3 L373.4,924.0 L373.9,923.7 L374.4,923.4 L374.9,923.2 L375.4,922.9 L375.9,922.6 L376.4,922.3 L376.9,922.0 L377.4,921.7 L377.9,921.4 L378.4,921.2 L378.9,920.9 L379.4,920.6 L379.9,920.3 L380.4,920.0 L380.9,919.7 L381.4,919.5 L381.9,919.2 L382.4,918.9 L382.9,918.6 L383.4,918.3 L383.9,918.1 L384.4,917.8 L384.9,917.5 L385.4,917.2 L385.9,917.0 L386.4,916.7 L386.9,916.4 L387.4,916.1 L387.9,915.8 L388.4,915.6 L388.9,915.3 L389.4,915.0 L389.9,914.8 L390.4,914.5 L390.9,914.2 L391.4,913.9 L391.9,913.7 L392.4,913.4 L392.9,913.1 L393.4,912.8 L393.9,912.6 L394.4,912.3 L394.9,912.0 L395.4,911.8 L395.9,911.5 L396.4,911.2 L396.9,911.0 L397.4,910.7 L397.9,910.4 L398.4,910.2 L398.9,909.9 L399.4,909.6 L399.9,909.4 L400.4,909.1 L400.9,908.8 L401.4,908.6 L401.9,908.3 L402.4,908.0 L402.9,907.8 L403.4,907.5 L403.9,907.2 L404.4,907.0 L404.9,906.7 L405.4,906.5 L405.9,906.2 L406.4,905.9 L406.9,905.7 L407.4,905.4 L407.9,905.2 L408.4,904.9 L408.9,904.6 L409.4,904.4 L409.9,904.1 L410.4,903.9 L410.9,903.6 L411.4,903.3 L411.9,903.1 L412.4,902.8 L412.9,902.6 L413.4,902.3 L413.9,902.1 L414.4,901.8 L414.9,901.6 L415.4,901.3 L415.9,901.1 L416.4,900.8 L416.9,900.5 L417.4,900.3 L417.9,900.0 L418.4,899.8 L418.9,899.5 L419.4,899.3 L419.9,899.0 L420.4,898.8 L420.9,898.5 L421.4,898.3 L421.9,898.0 L422.4,897.8 L422.9,897.5 L423.4,897.3 L423.9,897.0 L424.4,896.8 L424.9,896.6 L425.4,896.3 L425.9,896.1 L426.4,895.8 L426.9,895.6 L427.4,895.3 L427.9,895.1 L428.4,894.8 L428.9,894.6 L429.4,894.3 L429.9,894.1 L430.4,893.9 L430.9,893.6 L431.4,893.4 L431.9,893.1 L432.4,892.9 L432.9,892.7 L433.4,892.4 L433.9,892.2 L434.4,891.9 L434.9,891.7 L435.4,891.5 L435.9,891.2 L436.4,891.0 L436.9,890.7 L437.4,890.5 L437.9,890.3 L438.4,890.0 L438.9,889.8 L439.4,889.5 L439.9,889.3 L440.4,889.1 L440.9,888.8 L441.4,888.6 L441.9,888.4 L442.4,888.1 L442.9,887.9 L443.4,887.7 L443.9,887.4 L444.4,887.2 L444.9,887.0 L445.4,886.7 L445.9,886.5 L446.4,886.3 L446.9,886.0 L447.4,885.8 L447.9,885.6 L448.4,885.3 L448.9,885.1 L449.4,884.9 L449.9,884.7 L450.4,884.4 L450.9,884.2 L451.4,884.0 L451.9,883.7 L452.4,883.5 L452.9,883.3 L453.4,883.1 L453.9,882.8 L454.4,882.6 L454.9,882.4 L455.4,882.1 L455.9,881.9 L456.4,881.7 L456.9,881.5 L457.4,881.2 L457.9,881.0 L458.4,880.8 L458.9,880.6 L459.4,880.3 L459.9,880.1 L460.4,879.9 L460.9,879.7 L461.4,879.5 L461.9,879.2 L462.4,879.0 L462.9,878.8 L463.4,878.6 L463.9,878.3 L464.4,878.1 L464.9,877.9 L465.4,877.7 L465.9,877.5 L466.4,877.2 L466.9,877.0 L467.4,876.8 L467.9,876.6 L468.4,876.4 L468.9,876.1 L469.4,875.9 L469.9,875.7 L470.4,875.5 L470.9,875.3 L471.4,875.1 L471.9,874.8 L472.4,874.6 L472.9,874.4 L473.4,874.2 L473.9,874.0 L474.4,873.8 L474.9,873.6 L475.4,873.3 L475.9,873.1 L476.4,872.9 L476.9,872.7 L477.4,872.5 L477.9,872.3 L478.4,872.1 L478.9,871.9 L479.4,871.6 L479.9,871.4 L480.4,871.2 L480.9,871.0 L481.4,870.8 L481.9,870.6 L482.4,870.4 L482.9,870.2 L483.4,870.0 L483.9,869.7 L484.4,869.5 L484.9,869.3 L485.4,869.1 L485.9,868.9 L486.4,868.7 L486.9,868.5 L487.4,868.3 L487.9,868.1 L488.4,867.9 L488.9,867.7 L489.4,867.5 L489.9,867.3 L490.4,867.0 L490.9,866.8 L491.4,866.6 L491.9,866.4 L492.4,866.2 L492.9,866.0 L493.4,865.8 L493.9,865.6 L494.4,865.4 L494.9,865.2 L495.4,865.0 L495.9,864.8 L496.4,864.6 L496.9,864.4 L497.4,864.2 L497.9,864.0 L498.4,863.8 L498.9,863.6 L499.4,863.4 L499.9,863.2 L500.4,863.0 L500.9,862.8 L501.4,862.6 L501.9,862.4 L502.4,862.2 L502.9,862.0 L503.4,861.8 L503.9,861.6 L504.4,861.4 L504.9,861.2 L505.4,861.0 L505.9,860.8 L506.4,860.6 L506.9,860.4 L507.4,860.2 L507.9,860.0 L508.4,859.8 L508.9,859.6 L509.4,859.4 L509.9,859.2 L510.4,859.0 L510.9,858.8 L511.4,858.7 L511.9,858.5 L512.4,858.3 L512.9,858.1 L513.4,857.9 L513.9,857.7 L514.4,857.5 L514.9,857.3 L515.4,857.1 L515.9,856.9 L516.4,856.7 L516.9,856.5 L517.4,856.3 L517.9,856.1 L518.4,856.0 L518.9,855.8 L519.4,855.6 L519.9,855.4 L520.4,855.2 L520.9,855.0 L521.4,854.8 L521.9,854.6 L522.4,854.4 L522.9,854.2 L523.4,854.1 L523.9,853.9 L524.4,853.7 L524.9,853.5 L525.4,853.3 L525.9,853.1 L526.4,852.9 L526.9,852.7 L527.4,852.6 L527.9,852.4 L528.4,852.2 L528.9,852.0 L529.4,851.8 L529.9,851.6 L530.4,851.4 L530.9,851.3 L531.4,851.1 L531.9,850.9 L532.4,850.7 L532.9,850.5 L533.4,850.3 L533.9,850.1 L534.4,850.0 L534.9,849.8 L535.4,849.6 L535.9,849.4 L536.4,849.2 L536.9,849.1 L537.4,848.9 L537.9,848.7 L538.4,848.5 L538.9,848.3 L539.4,848.1 L539.9,848.0 L540.4,847.8 L540.9,847.6 L541.4,847.4 L541.9,847.2 L542.4,847.1 L542.9,846.9 L543.4,846.7 L543.9,846.5 L544.4,846.3 L544.9,846.2 L545.4,846.0 L545.9,845.8 L546.4,845.6 L546.9,845.5 L547.4,845.3 L547.9,845.1 L548.4,844.9 L548.9,844.7 L549.4,844.6 L549.9,844.4 L550.4,844.2 L550.9,844.0 L551.4,843.9 L551.9,843.7 L552.4,843.5 L552.9,843.3 L553.4,843.2 L553.9,843.0 L554.4,842.8 L554.9,842.6 L555.4,842.5 L555.9,842.3 L556.4,842.1 L556.9,841.9 L557.4,841.8 L557.9,841.6 L558.4,841.4 L558.9,841.3 L559.4,841.1 L559.9,840.9 L560.4,840.7 L560.9,840.6 L561.4,840.4 L561.9,840.2 L562.4,840.1 L562.9,839.9 L563.4,839.7 L563.9,839.5 L564.4,839.4 L564.9,839.2 L565.4,839.0 L565.9,838.9 L566.4,838.7 L566.9,838.5 L567.4,838.4 L567.9,838.2 L568.4,838.0 L568.9,837.9 L569.4,837.7 L569.9,837.5 L570.4,837.4 L570.9,837.2 L571.4,837.0 L571.9,836.8 L572.4,836.7 L572.9,836.5 L573.4,836.4 L573.9,836.2 L574.4,836.0 L574.9,835.9 L575.4,835.7 L575.9,835.5 L576.4,835.4 L576.9,835.2 L577.4,835.0 L577.9,834.9 L578.4,834.7 L578.9,834.5 L579.4,834.4 L579.9,834.2 L580.4,834.0 L580.9,833.9 L581.4,833.7 L581.9,833.6 L582.4,833.4 L582.9,833.2 L583.4,833.1 L583.9,832.9 L584.4,832.7 L584.9,832.6 L585.4,832.4 L585.9,832.3 L586.4,832.1 L586.9,831.9 L587.4,831.8 L587.9,831.6 L588.4,831.5 L588.9,831.3 L589.4,831.1 L589.9,831.0 L590.4,830.8 L590.9,830.7 L591.4,830.5 L591.9,830.3 L592.4,830.2 L592.9,830.0 L593.4,829.9 L593.9,829.7 L594.4,829.5 L594.9,829.4 L595.4,829.2 L595.9,829.1 L596.4,828.9 L596.9,828.8 L597.4,828.6 L597.9,828.4 L598.4,828.3 L598.9,828.1 L599.4,828.0 L599.9,827.8 L600.4,827.7 L600.9,827.5 L601.4,827.4 L601.9,827.2 L602.4,827.0 L602.9,826.9 L603.4,826.7 L603.9,826.6 L604.4,826.4 L604.9,826.3 L605.4,826.1 L605.9,826.0 L606.4,825.8 L606.9,825.7 L607.4,825.5 L607.9,825.3 L608.4,825.2 L608.9,825.0 L609.4,824.9 L609.9,824.7 L610.4,824.6 L610.9,824.4 L611.4,824.3 L611.9,824.1 L612.4,824.0 L612.9,823.8 L613.4,823.7 L613.9,823.5 L614.4,823.4 L614.9,823.2 L615.4,823.1 L615.9,822.9 L616.4,822.8 L616.9,822.6 L617.4,822.5 L617.9,822.3 L618.4,822.2 L618.9,822.0 L619.4,821.9 L619.9,821.7 L620.4,821.6 L620.9,821.4 L621.4,821.3 L621.9,821.1 L622.4,821.0 L622.9,820.8 L623.4,820.7 L623.9,820.5 L624.4,820.4 L624.9,820.3 L625.4,820.1 L625.9,820.0 L626.4,819.8 L626.9,819.7 L627.4,819.5 L627.9,819.4 L628.4,819.2 L628.9,819.1 L629.4,818.9 L629.9,818.8 L630.4,818.6 L630.9,818.5 L631.4,818.4 L631.9,818.2 L632.4,818.1 L632.9,817.9 L633.4,817.8 L633.9,817.6 L634.4,817.5 L634.9,817.4 L635.4,817.2 L635.9,817.1 L636.4,816.9 L636.9,816.8 L637.4,816.6 L637.9,816.5 L638.4,816.4 L638.9,816.2 L639.4,816.1 L639.9,815.9 L640.4,815.8 L640.9,815.6 L641.4,815.5 L641.9,815.4 L642.4,815.2 L642.9,815.1 L643.4,814.9 L643.9,814.8 L644.4,814.7 L644.9,814.5 L645.4,814.4 L645.9,814.2 L646.4,814.1 L646.9,814.0 L647.4,813.8 L647.9,813.7 L648.4,813.5 L648.9,813.4 L649.4,813.3 L649.9,813.1 L650.4,813.0 L650.9,812.8 L651.4,812.7 L651.9,812.6 L652.4,812.4 L652.9,812.3 L653.4,812.2 L653.9,812.0 L654.4,811.9 L654.9,811.7 L655.4,811.6 L655.9,811.5 L656.4,811.3 L656.9,811.2 L657.4,811.1 L657.9,810.9 L658.4,810.8 L658.9,810.7 L659.4,810.5 L659.9,810.4 L660.4,810.2 L660.9,810.1 L661.4,810.0 L661.9,809.8 L662.4,809.7 L662.9,809.6 L663.4,809.4 L663.9,809.3 L664.4,809.2 L664.9,809.0 L665.4,808.9 L665.9,808.8 L666.4,808.6 L666.9,808.5 L667.4,808.4 L667.9,808.2 L668.4,808.1 L668.9,808.0 L669.4,807.8 L669.9,807.7 L670.4,807.6 L670.9,807.4 L671.4,807.3 L671.9,807.2 L672.4,807.0 L672.9,806.9 L673.4,806.8 L673.9,806.7 L674.4,806.5 L674.9,806.4 L675.4,806.3 L675.9,806.1 L676.4,806.0 L676.9,805.9 L677.4,805.7 L677.9,805.6 L678.4,805.5 L678.9,805.3 L679.4,805.2 L679.9,805.1 L680.4,805.0 L680.9,804.8 L681.4,804.7 L681.9,804.6 L682.4,804.4 L682.9,804.3 L683.4,804.2 L683.9,804.1 L684.4,803.9 L684.9,803.8 L685.4,803.7 L685.9,803.5 L686.4,803.4 L686.9,803.3 L687.4,803.2 L687.9,803.0 L688.4,802.9 L688.9,802.8 L689.4,802.7 L689.9,802.5 L690.4,802.4 L690.9,802.3 L691.4,802.2 L691.9,802.0 L692.4,801.9 L692.9,801.8 L693.4,801.7 L693.9,801.5 L694.4,801.4 L694.9,801.3 L695.4,801.2 L695.9,801.0 L696.4,800.9 L696.9,800.8 L697.4,800.7 L697.9,800.5 L698.4,800.4 L698.9,800.3 L699.4,800.2 L699.9,800.0 L700.4,799.9 L700.9,799.8 L701.4,799.7 L701.9,799.5 L702.4,799.4 L702.9,799.3 L703.4,799.2 L703.9,799.0 L704.4,798.9 L704.9,798.8 L705.4,798.7 L705.9,798.6 L706.4,798.4 L706.9,798.3 L707.4,798.2 L707.9,798.1 L708.4,798.0 L708.9,797.8 L709.4,797.7 L709.9,797.6 L710.4,797.5 L710.9,797.3 L711.4,797.2 L711.9,797.1 L712.4,797.0 L712.9,796.9 L713.4,796.7 L713.9,796.6 L714.4,796.5 L714.9,796.4 L715.4,796.3 L715.9,796.1 L716.4,796.0 L716.9,795.9 L717.4,795.8 L717.9,795.7 L718.4,795.6 L718.9,795.4 L719.4,795.3 L719.9,795.2 L720.4,795.1 L720.9,795.0 L721.4,794.8 L721.9,794.7 L722.4,794.6 L722.9,794.5 L723.4,794.4 L723.9,794.3 L724.4,794.1 L724.9,794.0 L725.4,793.9 L725.9,793.8 L726.4,793.7 L726.9,793.6 L727.4,793.4 L727.9,793.3 L728.4,793.2 L728.9,793.1 L729.4,793.0 L729.9,792.9 L730.4,792.7 L730.9,792.6 L731.4,792.5 L731.9,792.4 L732.4,792.3 L732.9,792.2 L733.4,792.1 L733.9,791.9 L734.4,791.8 L734.9,791.7 L735.4,791.6 L735.9,791.5 L736.4,791.4 L736.9,791.3 L737.4,791.1 L737.9,791.0 L738.4,790.9 L738.9,790.8 L739.4,790.7 L739.9,790.6 L740.4,790.5 L740.9,790.3 L741.4,790.2 L741.9,790.1 L742.4,790.0 L742.9,789.9 L743.4,789.8 L743.9,789.7 L744.4,789.6 L744.9,789.4 L745.4,789.3 L745.9,789.2 L746.4,789.1 L746.9,789.0 L747.4,788.9 L747.9,788.8 L748.4,788.7 L748.9,788.6 L749.4,788.4 L749.9,788.3 L750.4,788.2 L750.9,788.1 L751.4,788.0 L751.9,787.9 L752.4,787.8 L752.9,787.7 L753.4,787.6 L753.9,787.5 L754.4,787.3 L754.9,787.2 L755.4,787.1 L755.9,787.0 L756.4,786.9 L756.9,786.8 L757.4,786.7 L757.9,786.6 L758.4,786.5 L758.9,786.4 L759.4,786.3 L759.9,786.1 L760.4,786.0 L760.9,785.9 L761.4,785.8 L761.9,785.7 L762.4,785.6 L762.9,785.5 L763.4,785.4 L763.9,785.3 L764.4,785.2 L764.9,785.1 L765.4,785.0 L765.9,784.9 L766.4,784.8 L766.9,784.6 L767.4,784.5 L767.9,784.4 L768.4,784.3 L768.9,784.2 L769.4,784.1 L769.9,784.0 L770.4,783.9 L770.9,783.8 L771.4,783.7 L771.9,783.6 L772.4,783.5 L772.9,783.4 L773.4,783.3 L773.9,783.2 L774.4,783.1 L774.8,783.0" fill="none" stroke="#800000" stroke-width="5.2" stroke-linejoin="round" stroke-linecap="butt"/>
<path d="M162.4,1112.0 L162.9,1111.9 L163.4,1111.8 L163.9,1111.7 L164.4,1111.5 L164.9,1111.4 L165.4,1111.3 L165.9,1111.1 L166.4,1111.0 L166.9,1110.8 L167.4,1110.6 L167.9,1110.5 L168.4,1110.3 L168.9,1110.2 L169.4,1110.0 L169.9,1109.8 L170.4,1109.5 L170.9,1109.3 L171.4,1109.0 L171.9,1108.7 L172.4,1108.2 L172.9,1107.6 L173.4,1106.8 L173.9,1105.9 L174.4,1104.7 L174.9,1102.3 L175.4,1100.1 L175.9,1099.0 L176.4,1098.2 L176.9,1097.5 L177.4,1096.9 L177.9,1096.4 L178.4,1095.9 L178.9,1095.4 L179.4,1095.0 L179.9,1094.7 L180.4,1094.3 L180.9,1093.9 L181.4,1093.6 L181.9,1093.2 L182.4,1092.8 L182.9,1092.4 L183.4,1092.0 L183.9,1091.6 L184.4,1091.1 L184.9,1090.7 L185.4,1090.2 L185.9,1089.8 L186.4,1089.3 L186.9,1088.8 L187.4,1088.2 L187.9,1087.7 L188.4,1087.1 L188.9,1086.5 L189.4,1085.8 L189.9,1085.1 L190.4,1084.4 L190.9,1083.5 L191.4,1082.6 L191.9,1081.6 L192.4,1080.4 L192.9,1079.2 L193.4,1077.8 L193.9,1076.3 L194.4,1074.5 L194.9,1072.5 L195.4,1070.4 L195.9,1068.7 L196.4,1067.3 L196.9,1065.9 L197.4,1064.6 L197.9,1063.4 L198.4,1062.3 L198.9,1061.3 L199.4,1060.4 L199.9,1059.5 L200.4,1058.7 L200.9,1058.0 L201.4,1057.3 L201.9,1056.6 L202.4,1055.9 L202.9,1055.3 L203.4,1054.7 L203.9,1054.1 L204.4,1053.4 L204.9,1052.8 L205.4,1052.2 L205.9,1051.5 L206.4,1050.9 L206.9,1050.3 L207.4,1049.7 L207.9,1049.1 L208.4,1048.5 L208.9,1047.9 L209.4,1047.3 L209.9,1046.7 L210.4,1046.1 L210.9,1045.5 L211.4,1045.0 L211.9,1044.4 L212.4,1043.8 L212.9,1043.3 L213.4,1042.7 L213.9,1042.2 L214.4,1041.6 L214.9,1041.1 L215.4,1040.6 L215.9,1040.0 L216.4,1039.5 L216.9,1038.9 L217.4,1038.4 L217.9,1037.8 L218.4,1037.3 L218.9,1036.7 L219.4,1036.1 L219.9,1035.4 L220.4,1034.8 L220.9,1034.2 L221.4,1033.5 L221.9,1032.9 L222.4,1032.2 L222.9,1031.6 L223.4,1031.0 L223.9,1030.4 L224.4,1029.8 L224.9,1029.2 L225.4,1028.6 L225.9,1028.0 L226.4,1027.5 L226.9,1026.9 L227.4,1026.4 L227.9,1025.8 L228.4,1025.3 L228.9,1024.7 L229.4,1024.2 L229.9,1023.6 L230.4,1023.0 L230.9,1022.5 L231.4,1021.9 L231.9,1021.3 L232.4,1020.7 L232.9,1020.1 L233.4,1019.4 L233.9,1018.8 L234.4,1018.1 L234.9,1017.4 L235.4,1016.7 L235.9,1016.0 L236.4,1015.3 L236.9,1014.6 L237.4,1013.8 L237.9,1013.1 L238.4,1012.4 L238.9,1011.7 L239.4,1011.1 L239.9,1010.4 L240.4,1009.8 L240.9,1009.1 L241.4,1008.5 L241.9,1007.8 L242.4,1007.2 L242.9,1006.6 L243.4,1005.9 L243.9,1005.3 L244.4,1004.7 L244.9,1004.1 L245.4,1003.5 L245.9,1002.8 L246.4,1002.2 L246.9,1001.6 L247.4,1001.0 L247.9,1000.4 L248.4,999.8 L248.9,999.2 L249.4,998.6 L249.9,998.0 L250.4,997.5 L250.9,996.9 L251.4,996.3 L251.9,995.7 L252.4,995.2 L252.9,994.6 L253.4,994.1 L253.9,993.5 L254.4,993.0 L254.9,992.5 L255.4,991.9 L255.9,991.4 L256.4,990.9 L256.9,990.4 L257.4,989.9 L257.9,989.4 L258.4,988.9 L258.9,988.4 L259.4,987.9 L259.9,987.4 L260.4,986.9 L260.9,986.4 L261.4,986.0 L261.9,985.5 L262.4,985.0 L262.9,984.5 L263.4,984.0 L263.9,983.6 L264.4,983.1 L264.9,982.6 L265.4,982.2 L265.9,981.7 L266.4,981.3 L266.9,980.8 L267.4,980.4 L267.9,979.9 L268.4,979.5 L268.9,979.0 L269.4,978.6 L269.9,978.1 L270.4,977.7 L270.9,977.2 L271.4,976.8 L271.9,976.4 L272.4,975.9 L272.9,975.5 L273.4,975.1 L273.9,974.6 L274.4,974.2 L274.9,973.8 L275.4,973.3 L275.9,972.9 L276.4,972.5 L276.9,972.1 L277.4,971.7 L277.9,971.2 L278.4,970.8 L278.9,970.4 L279.4,970.0 L279.9,969.6 L280.4,969.2 L280.9,968.8 L281.4,968.4 L281.9,968.0 L282.4,967.6 L282.9,967.2 L283.4,966.8 L283.9,966.4 L284.4,966.0 L284.9,965.6 L285.4,965.2 L285.9,964.8 L286.4,964.4 L286.9,964.0 L287.4,963.6 L287.9,963.2 L288.4,962.8 L288.9,962.4 L289.4,962.1 L289.9,961.7 L290.4,961.3 L290.9,960.9 L291.4,960.5 L291.9,960.1 L292.4,959.8 L292.9,959.4 L293.4,959.0 L293.9,958.6 L294.4,958.3 L294.9,957.9 L295.4,957.5 L295.9,957.1 L296.4,956.8 L296.9,956.4 L297.4,956.0 L297.9,955.7 L298.4,955.3 L298.9,954.9 L299.4,954.6 L299.9,954.2 L300.4,953.8 L300.9,953.5 L301.4,953.1 L301.9,952.8 L302.4,952.4 L302.9,952.0 L303.4,951.7 L303.9,951.3 L304.4,951.0 L304.9,950.6 L305.4,950.3 L305.9,949.9 L306.4,949.5 L306.9,949.2 L307.4,948.8 L307.9,948.5 L308.4,948.1 L308.9,947.8 L309.4,947.4 L309.9,947.1 L310.4,946.8 L310.9,946.4 L311.4,946.1 L311.9,945.7 L312.4,945.4 L312.9,945.0 L313.4,944.7 L313.9,944.4 L314.4,944.0 L314.9,943.7 L315.4,943.3 L315.9,943.0 L316.4,942.7 L316.9,942.3 L317.4,942.0 L317.9,941.6 L318.4,941.3 L318.9,941.0 L319.4,940.6 L319.9,940.3 L320.4,940.0 L320.9,939.6 L321.4,939.3 L321.9,939.0 L322.4,938.7 L322.9,938.3 L323.4,938.0 L323.9,937.7 L324.4,937.3 L324.9,937.0 L325.4,936.7 L325.9,936.4 L326.4,936.0 L326.9,935.7 L327.4,935.4 L327.9,935.1 L328.4,934.7 L328.9,934.4 L329.4,934.1 L329.9,933.8 L330.4,933.5 L330.9,933.1 L331.4,932.8 L331.9,932.5 L332.4,932.2 L332.9,931.9 L333.4,931.6 L333.9,931.2 L334.4,930.9 L334.9,930.6 L335.4,930.3 L335.9,930.0 L336.4,929.7 L336.9,929.4 L337.4,929.0 L337.9,928.7 L338.4,928.4 L338.9,928.1 L339.4,927.8 L339.9,927.5 L340.4,927.2 L340.9,926.9 L341.4,926.6 L341.9,926.2 L342.4,925.9 L342.9,925.6 L343.4,925.3 L343.9,925.0 L344.4,924.7 L344.9,924.4 L345.4,924.1 L345.9,923.8 L346.4,923.5 L346.9,923.2 L347.4,922.9 L347.9,922.6 L348.4,922.3 L348.9,922.0 L349.4,921.7 L349.9,921.4 L350.4,921.1 L350.9,920.8 L351.4,920.5 L351.9,920.2 L352.4,919.9 L352.9,919.6 L353.4,919.3 L353.9,919.0 L354.4,918.7 L354.9,918.4 L355.4,918.1 L355.9,917.8 L356.4,917.5 L356.9,917.2 L357.4,916.9 L357.9,916.6 L358.4,916.3 L358.9,916.0 L359.4,915.8 L359.9,915.5 L360.4,915.2 L360.9,914.9 L361.4,914.6 L361.9,914.3 L362.4,914.0 L362.9,913.7 L363.4,913.4 L363.9,913.1 L364.4,912.9 L364.9,912.6 L365.4,912.3 L365.9,912.0 L366.4,911.7 L366.9,911.4 L367.4,911.1 L367.9,910.8 L368.4,910.6 L368.9,910.3 L369.4,910.0 L369.9,909.7 L370.4,909.4 L370.9,909.1 L371.4,908.9 L371.9,908.6 L372.4,908.3 L372.9,908.0 L373.4,907.7 L373.9,907.4 L374.4,907.2 L374.9,906.9 L375.4,906.6 L375.9,906.3 L376.4,906.0 L376.9,905.8 L377.4,905.5 L377.9,905.2 L378.4,904.9 L378.9,904.7 L379.4,904.4 L379.9,904.1 L380.4,903.8 L380.9,903.6 L381.4,903.3 L381.9,903.0 L382.4,902.7 L382.9,902.5 L383.4,902.2 L383.9,901.9 L384.4,901.6 L384.9,901.4 L385.4,901.1 L385.9,900.8 L386.4,900.5 L386.9,900.3 L387.4,900.0 L387.9,899.7 L388.4,899.5 L388.9,899.2 L389.4,898.9 L389.9,898.6 L390.4,898.4 L390.9,898.1 L391.4,897.8 L391.9,897.6 L392.4,897.3 L392.9,897.0 L393.4,896.8 L393.9,896.5 L394.4,896.2 L394.9,896.0 L395.4,895.7 L395.9,895.4 L396.4,895.2 L396.9,894.9 L397.4,894.6 L397.9,894.4 L398.4,894.1 L398.9,893.8 L399.4,893.6 L399.9,893.3 L400.4,893.1 L400.9,892.8 L401.4,892.5 L401.9,892.3 L402.4,892.0 L402.9,891.7 L403.4,891.5 L403.9,891.2 L404.4,891.0 L404.9,890.7 L405.4,890.4 L405.9,890.2 L406.4,889.9 L406.9,889.7 L407.4,889.4 L407.9,889.2 L408.4,888.9 L408.9,888.6 L409.4,888.4 L409.9,888.1 L410.4,887.9 L410.9,887.6 L411.4,887.4 L411.9,887.1 L412.4,886.8 L412.9,886.6 L413.4,886.3 L413.9,886.1 L414.4,885.8 L414.9,885.6 L415.4,885.3 L415.9,885.1 L416.4,884.8 L416.9,884.6 L417.4,884.3 L417.9,884.1 L418.4,883.8 L418.9,883.5 L419.4,883.3 L419.9,883.0 L420.4,882.8 L420.9,882.5 L421.4,882.3 L421.9,882.0 L422.4,881.8 L422.9,881.5 L423.4,881.3 L423.9,881.1 L424.4,880.8 L424.9,880.6 L425.4,880.3 L425.9,880.1 L426.4,879.8 L426.9,879.6 L427.4,879.3 L427.9,879.1 L428.4,878.8 L428.9,878.6 L429.4,878.3 L429.9,878.1 L430.4,877.8 L430.9,877.6 L431.4,877.4 L431.9,877.1 L432.4,876.9 L432.9,876.6 L433.4,876.4 L433.9,876.1 L434.4,875.9 L434.9,875.7 L435.4,875.4 L435.9,875.2 L436.4,874.9 L436.9,874.7 L437.4,874.4 L437.9,874.2 L438.4,874.0 L438.9,873.7 L439.4,873.5 L439.9,873.2 L440.4,873.0 L440.9,872.8 L441.4,872.5 L441.9,872.3 L442.4,872.0 L442.9,871.8 L443.4,871.6 L443.9,871.3 L444.4,871.1 L444.9,870.9 L445.4,870.6 L445.9,870.4 L446.4,870.1 L446.9,869.9 L447.4,869.7 L447.9,869.4 L448.4,869.2 L448.9,869.0 L449.4,868.7 L449.9,868.5 L450.4,868.3 L450.9,868.0 L451.4,867.8 L451.9,867.6 L452.4,867.3 L452.9,867.1 L453.4,866.9 L453.9,866.6 L454.4,866.4 L454.9,866.2 L455.4,865.9 L455.9,865.7 L456.4,865.5 L456.9,865.2 L457.4,865.0 L457.9,864.8 L458.4,864.6 L458.9,864.3 L459.4,864.1 L459.9,863.9 L460.4,863.6 L460.9,863.4 L461.4,863.2 L461.9,863.0 L462.4,862.7 L462.9,862.5 L463.4,862.3 L463.9,862.0 L464.4,861.8 L464.9,861.6 L465.4,861.4 L465.9,861.1 L466.4,860.9 L466.9,860.7 L467.4,860.5 L467.9,860.2 L468.4,860.0 L468.9,859.8 L469.4,859.6 L469.9,859.3 L470.4,859.1 L470.9,858.9 L471.4,858.7 L471.9,858.4 L472.4,858.2 L472.9,858.0 L473.4,857.8 L473.9,857.5 L474.4,857.3 L474.9,857.1 L475.4,856.9 L475.9,856.7 L476.4,856.4 L476.9,856.2 L477.4,856.0 L477.9,855.8 L478.4,855.6 L478.9,855.3 L479.4,855.1 L479.9,854.9 L480.4,854.7 L480.9,854.5 L481.4,854.2 L481.9,854.0 L482.4,853.8 L482.9,853.6 L483.4,853.4 L483.9,853.2 L484.4,852.9 L484.9,852.7 L485.4,852.5 L485.9,852.3 L486.4,852.1 L486.9,851.8 L487.4,851.6 L487.9,851.4 L488.4,851.2 L488.9,851.0 L489.4,850.8 L489.9,850.6 L490.4,850.3 L490.9,850.1 L491.4,849.9 L491.9,849.7 L492.4,849.5 L492.9,849.3 L493.4,849.1 L493.9,848.8 L494.4,848.6 L494.9,848.4 L495.4,848.2 L495.9,848.0 L496.4,847.8 L496.9,847.6 L497.4,847.4 L497.9,847.2 L498.4,846.9 L498.9,846.7 L499.4,846.5 L499.9,846.3 L500.4,846.1 L500.9,845.9 L501.4,845.7 L501.9,845.5 L502.4,845.3 L502.9,845.1 L503.4,844.8 L503.9,844.6 L504.4,844.4 L504.9,844.2 L505.4,844.0 L505.9,843.8 L506.4,843.6 L506.9,843.4 L507.4,843.2 L507.9,843.0 L508.4,842.8 L508.9,842.6 L509.4,842.4 L509.9,842.2 L510.4,841.9 L510.9,841.7 L511.4,841.5 L511.9,841.3 L512.4,841.1 L512.9,840.9 L513.4,840.7 L513.9,840.5 L514.4,840.3 L514.9,840.1 L515.4,839.9 L515.9,839.7 L516.4,839.5 L516.9,839.3 L517.4,839.1 L517.9,838.9 L518.4,838.7 L518.9,838.5 L519.4,838.3 L519.9,838.1 L520.4,837.9 L520.9,837.7 L521.4,837.5 L521.9,837.3 L522.4,837.1 L522.9,836.9 L523.4,836.7 L523.9,836.5 L524.4,836.3 L524.9,836.1 L525.4,835.9 L525.9,835.7 L526.4,835.5 L526.9,835.3 L527.4,835.1 L527.9,834.9 L528.4,834.7 L528.9,834.5 L529.4,834.3 L529.9,834.1 L530.4,833.9 L530.9,833.7 L531.4,833.5 L531.9,833.3 L532.4,833.1 L532.9,832.9 L533.4,832.7 L533.9,832.5 L534.4,832.3 L534.9,832.1 L535.4,831.9 L535.9,831.8 L536.4,831.6 L536.9,831.4 L537.4,831.2 L537.9,831.0 L538.4,830.8 L538.9,830.6 L539.4,830.4 L539.9,830.2 L540.4,830.0 L540.9,829.8 L541.4,829.6 L541.9,829.4 L542.4,829.2 L542.9,829.0 L543.4,828.9 L543.9,828.7 L544.4,828.5 L544.9,828.3 L545.4,828.1 L545.9,827.9 L546.4,827.7 L546.9,827.5 L547.4,827.3 L547.9,827.1 L548.4,827.0 L548.9,826.8 L549.4,826.6 L549.9,826.4 L550.4,826.2 L550.9,826.0 L551.4,825.8 L551.9,825.6 L552.4,825.4 L552.9,825.3 L553.4,825.1 L553.9,824.9 L554.4,824.7 L554.9,824.5 L555.4,824.3 L555.9,824.1 L556.4,823.9 L556.9,823.8 L557.4,823.6 L557.9,823.4 L558.4,823.2 L558.9,823.0 L559.4,822.8 L559.9,822.6 L560.4,822.5 L560.9,822.3 L561.4,822.1 L561.9,821.9 L562.4,821.7 L562.9,821.5 L563.4,821.4 L563.9,821.2 L564.4,821.0 L564.9,820.8 L565.4,820.6 L565.9,820.4 L566.4,820.3 L566.9,820.1 L567.4,819.9 L567.9,819.7 L568.4,819.5 L568.9,819.3 L569.4,819.2 L569.9,819.0 L570.4,818.8 L570.9,818.6 L571.4,818.4 L571.9,818.3 L572.4,818.1 L572.9,817.9 L573.4,817.7 L573.9,817.5 L574.4,817.4 L574.9,817.2 L575.4,817.0 L575.9,816.8 L576.4,816.6 L576.9,816.5 L577.4,816.3 L577.9,816.1 L578.4,815.9 L578.9,815.8 L579.4,815.6 L579.9,815.4 L580.4,815.2 L580.9,815.1 L581.4,814.9 L581.9,814.7 L582.4,814.5 L582.9,814.3 L583.4,814.2 L583.9,814.0 L584.4,813.8 L584.9,813.6 L585.4,813.5 L585.9,813.3 L586.4,813.1 L586.9,812.9 L587.4,812.8 L587.9,812.6 L588.4,812.4 L588.9,812.2 L589.4,812.1 L589.9,811.9 L590.4,811.7 L590.9,811.5 L591.4,811.4 L591.9,811.2 L592.4,811.0 L592.9,810.9 L593.4,810.7 L593.9,810.5 L594.4,810.3 L594.9,810.2 L595.4,810.0 L595.9,809.8 L596.4,809.7 L596.9,809.5 L597.4,809.3 L597.9,809.1 L598.4,809.0 L598.9,808.8 L599.4,808.6 L599.9,808.5 L600.4,808.3 L600.9,808.1 L601.4,808.0 L601.9,807.8 L602.4,807.6 L602.9,807.4 L603.4,807.3 L603.9,807.1 L604.4,806.9 L604.9,806.8 L605.4,806.6 L605.9,806.4 L606.4,806.3 L606.9,806.1 L607.4,805.9 L607.9,805.8 L608.4,805.6 L608.9,805.4 L609.4,805.3 L609.9,805.1 L610.4,804.9 L610.9,804.8 L611.4,804.6 L611.9,804.4 L612.4,804.3 L612.9,804.1 L613.4,803.9 L613.9,803.8 L614.4,803.6 L614.9,803.4 L615.4,803.3 L615.9,803.1 L616.4,802.9 L616.9,802.8 L617.4,802.6 L617.9,802.5 L618.4,802.3 L618.9,802.1 L619.4,802.0 L619.9,801.8 L620.4,801.6 L620.9,801.5 L621.4,801.3 L621.9,801.2 L622.4,801.0 L622.9,800.8 L623.4,800.7 L623.9,800.5 L624.4,800.3 L624.9,800.2 L625.4,800.0 L625.9,799.9 L626.4,799.7 L626.9,799.5 L627.4,799.4 L627.9,799.2 L628.4,799.1 L628.9,798.9 L629.4,798.7 L629.9,798.6 L630.4,798.4 L630.9,798.3 L631.4,798.1 L631.9,797.9 L632.4,797.8 L632.9,797.6 L633.4,797.5 L633.9,797.3 L634.4,797.2 L634.9,797.0 L635.4,796.8 L635.9,796.7 L636.4,796.5 L636.9,796.4 L637.4,796.2 L637.9,796.0 L638.4,795.9 L638.9,795.7 L639.4,795.6 L639.9,795.4 L640.4,795.3 L640.9,795.1 L641.4,795.0 L641.9,794.8 L642.4,794.6 L642.9,794.5 L643.4,794.3 L643.9,794.2 L644.4,794.0 L644.9,793.9 L645.4,793.7 L645.9,793.6 L646.4,793.4 L646.9,793.3 L647.4,793.1 L647.9,792.9 L648.4,792.8 L648.9,792.6 L649.4,792.5 L649.9,792.3 L650.4,792.2 L650.9,792.0 L651.4,791.9 L651.9,791.7 L652.4,791.6 L652.9,791.4 L653.4,791.3 L653.9,791.1 L654.4,791.0 L654.9,790.8 L655.4,790.7 L655.9,790.5 L656.4,790.4 L656.9,790.2 L657.4,790.1 L657.9,789.9 L658.4,789.8 L658.9,789.6 L659.4,789.5 L659.9,789.3 L660.4,789.2 L660.9,789.0 L661.4,788.9 L661.9,788.7 L662.4,788.6 L662.9,788.4 L663.4,788.3 L663.9,788.1 L664.4,788.0 L664.9,787.8 L665.4,787.7 L665.9,787.5 L666.4,787.4 L666.9,787.2 L667.4,787.1 L667.9,786.9 L668.4,786.8 L668.9,786.6 L669.4,786.5 L669.9,786.3 L670.4,786.2 L670.9,786.0 L671.4,785.9 L671.9,785.8 L672.4,785.6 L672.9,785.5 L673.4,785.3 L673.9,785.2 L674.4,785.0 L674.9,784.9 L675.4,784.7 L675.9,784.6 L676.4,784.4 L676.9,784.3 L677.4,784.2 L677.9,784.0 L678.4,783.9 L678.9,783.7 L679.4,783.6 L679.9,783.4 L680.4,783.3 L680.9,783.2 L681.4,783.0 L681.9,782.9 L682.4,782.7 L682.9,782.6 L683.4,782.4 L683.9,782.3 L684.4,782.2 L684.9,782.0 L685.4,781.9 L685.9,781.7 L686.4,781.6 L686.9,781.4 L687.4,781.3 L687.9,781.2 L688.4,781.0 L688.9,780.9 L689.4,780.7 L689.9,780.6 L690.4,780.5 L690.9,780.3 L691.4,780.2 L691.9,780.0 L692.4,779.9 L692.9,779.8 L693.4,779.6 L693.9,779.5 L694.4,779.3 L694.9,779.2 L695.4,779.1 L695.9,778.9 L696.4,778.8 L696.9,778.6 L697.4,778.5 L697.9,778.4 L698.4,778.2 L698.9,778.1 L699.4,778.0 L699.9,777.8 L700.4,777.7 L700.9,777.5 L701.4,777.4 L701.9,777.3 L702.4,777.1 L702.9,777.0 L703.4,776.9 L703.9,776.7 L704.4,776.6 L704.9,776.4 L705.4,776.3 L705.9,776.2 L706.4,776.0 L706.9,775.9 L707.4,775.8 L707.9,775.6 L708.4,775.5 L708.9,775.4 L709.4,775.2 L709.9,775.1 L710.4,775.0 L710.9,774.8 L711.4,774.7 L711.9,774.6 L712.4,774.4 L712.9,774.3 L713.4,774.1 L713.9,774.0 L714.4,773.9 L714.9,773.7 L715.4,773.6 L715.9,773.5 L716.4,773.3 L716.9,773.2 L717.4,773.1 L717.9,773.0 L718.4,772.8 L718.9,772.7 L719.4,772.6 L719.9,772.4 L720.4,772.3 L720.9,772.2 L721.4,772.0 L721.9,771.9 L722.4,771.8 L722.9,771.6 L723.4,771.5 L723.9,771.4 L724.4,771.2 L724.9,771.1 L725.4,771.0 L725.9,770.8 L726.4,770.7 L726.9,770.6 L727.4,770.5 L727.9,770.3 L728.4,770.2 L728.9,770.1 L729.4,769.9 L729.9,769.8 L730.4,769.7 L730.9,769.6 L731.4,769.4 L731.9,769.3 L732.4,769.2 L732.9,769.0 L733.4,768.9 L733.9,768.8 L734.4,768.7 L734.9,768.5 L735.4,768.4 L735.9,768.3 L736.4,768.1 L736.9,768.0 L737.4,767.9 L737.9,767.8 L738.4,767.6 L738.9,767.5 L739.4,767.4 L739.9,767.3 L740.4,767.1 L740.9,767.0 L741.4,766.9 L741.9,766.8 L742.4,766.6 L742.9,766.5 L743.4,766.4 L743.9,766.2 L744.4,766.1 L744.9,766.0 L745.4,765.9 L745.9,765.7 L746.4,765.6 L746.9,765.5 L747.4,765.4 L747.9,765.3 L748.4,765.1 L748.9,765.0 L749.4,764.9 L749.9,764.8 L750.4,764.6 L750.9,764.5 L751.4,764.4 L751.9,764.3 L752.4,764.1 L752.9,764.0 L753.4,763.9 L753.9,763.8 L754.4,763.6 L754.9,763.5 L755.4,763.4 L755.9,763.3 L756.4,763.2 L756.9,763.0 L757.4,762.9 L757.9,762.8 L758.4,762.7 L758.9,762.5 L759.4,762.4 L759.9,762.3 L760.4,762.2 L760.9,762.1 L761.4,761.9 L761.9,761.8 L762.4,761.7 L762.9,761.6 L763.4,761.5 L763.9,761.3 L764.4,761.2 L764.9,761.1 L765.4,761.0 L765.9,760.9 L766.4,760.7 L766.9,760.6 L767.4,760.5 L767.9,760.4 L768.4,760.3 L768.9,760.1 L769.4,760.0 L769.9,759.9 L770.4,759.8 L770.9,759.7 L771.4,759.6 L771.9,759.4 L772.4,759.3 L772.9,759.2 L773.4,759.1 L773.9,759.0 L774.4,758.8 L774.8,758.8" fill="none" stroke="#008000" stroke-width="5.2" stroke-linejoin="round" stroke-linecap="butt"/>
<path d="M1003.0,1113.9 L1004.0,1113.9 L1005.0,1113.9 L1006.0,1113.8 L1007.0,1113.8 L1008.0,1113.8 L1009.0,1113.7 L1010.0,1113.7 L1011.0,1113.7 L1012.0,1113.6 L1013.0,1113.6 L1014.0,1113.6 L1015.0,1113.5 L1016.0,1113.5 L1017.0,1113.5 L1018.0,1113.4 L1019.0,1113.4 L1020.0,1113.4 L1021.0,1113.3 L1022.0,1113.3 L1023.0,1113.2 L1024.0,1113.2 L1025.0,1113.2 L1026.0,1113.1 L1027.0,1113.1 L1028.0,1113.1 L1029.0,1113.0 L1030.0,1113.0 L1031.0,1113.0 L1032.0,1112.9 L1033.0,1112.9 L1034.0,1112.8 L1035.0,1112.8 L1036.0,1112.8 L1037.0,1112.7 L1038.0,1112.7 L1039.0,1112.7 L1040.0,1112.6 L1041.0,1112.6 L1042.0,1112.5 L1043.0,1112.5 L1044.0,1112.5 L1045.0,1112.4 L1046.0,1112.4 L1047.0,1112.3 L1048.0,1112.3 L1049.0,1112.3 L1050.0,1112.2 L1051.0,1112.2 L1052.0,1112.1 L1053.0,1112.1 L1054.0,1112.0 L1055.0,1112.0 L1056.0,1112.0 L1057.0,1111.9 L1058.0,1111.9 L1059.0,1111.8 L1060.0,1111.8 L1061.0,1111.7 L1062.0,1111.7 L1063.0,1111.7 L1064.0,1111.6 L1065.0,1111.6 L1066.0,1111.5 L1067.0,1111.5 L1068.0,1111.4 L1069.0,1111.4 L1070.0,1111.4 L1071.0,1111.3 L1072.0,1111.3 L1073.0,1111.2 L1074.0,1111.2 L1075.0,1111.1 L1076.0,1111.1 L1077.0,1111.0 L1078.0,1111.0 L1079.0,1110.9 L1080.0,1110.9 L1081.0,1110.8 L1082.0,1110.8 L1083.0,1110.8 L1084.0,1110.7 L1085.0,1110.7 L1086.0,1110.6 L1087.0,1110.6 L1088.0,1110.5 L1089.0,1110.5 L1090.0,1110.4 L1091.0,1110.4 L1092.0,1110.3 L1093.0,1110.3 L1094.0,1110.2 L1095.0,1110.2 L1096.0,1110.1 L1097.0,1110.1 L1098.0,1110.0 L1099.0,1110.0 L1100.0,1109.9 L1101.0,1109.9 L1102.0,1109.8 L1103.0,1109.8 L1104.0,1109.7 L1105.0,1109.7 L1106.0,1109.6 L1107.0,1109.6 L1108.0,1109.5 L1109.0,1109.5 L1110.0,1109.4 L1111.0,1109.4 L1112.0,1109.3 L1113.0,1109.3 L1114.0,1109.2 L1115.0,1109.2 L1116.0,1109.1 L1117.0,1109.1 L1118.0,1109.0 L1119.0,1109.0 L1120.0,1108.9 L1121.0,1108.8 L1122.0,1108.8 L1123.0,1108.7 L1124.0,1108.7 L1125.0,1108.6 L1126.0,1108.6 L1127.0,1108.5 L1128.0,1108.5 L1129.0,1108.4 L1130.0,1108.4 L1131.0,1108.3 L1132.0,1108.3 L1133.0,1108.2 L1134.0,1108.1 L1135.0,1108.1 L1136.0,1108.0 L1137.0,1108.0 L1138.0,1107.9 L1139.0,1107.9 L1140.0,1107.8 L1141.0,1107.8 L1142.0,1107.7 L1143.0,1107.6 L1144.0,1107.6 L1145.0,1107.5 L1146.0,1107.5 L1147.0,1107.4 L1148.0,1107.4 L1149.0,1107.3 L1150.0,1107.2 L1151.0,1107.2 L1152.0,1107.1 L1153.0,1107.1 L1154.0,1107.0 L1155.0,1107.0 L1156.0,1106.9 L1157.0,1106.8 L1158.0,1106.8 L1159.0,1106.7 L1160.0,1106.7 L1161.0,1106.6 L1162.0,1106.5 L1163.0,1106.5 L1164.0,1106.4 L1165.0,1106.4 L1166.0,1106.3 L1167.0,1106.3 L1168.0,1106.2 L1169.0,1106.1 L1170.0,1106.1 L1171.0,1106.0 L1172.0,1106.0 L1173.0,1105.9 L1174.0,1105.8 L1175.0,1105.8 L1176.0,1105.7 L1177.0,1105.7 L1178.0,1105.6 L1179.0,1105.5 L1180.0,1105.5 L1181.0,1105.4 L1182.0,1105.4 L1183.0,1105.3 L1184.0,1105.2 L1185.0,1105.2 L1186.0,1105.1 L1187.0,1105.0 L1188.0,1105.0 L1189.0,1104.9 L1190.0,1104.9 L1191.0,1104.8 L1192.0,1104.7 L1193.0,1104.7 L1194.0,1104.6 L1195.0,1104.5 L1196.0,1104.5 L1197.0,1104.4 L1198.0,1104.4 L1199.0,1104.3 L1200.0,1104.2 L1201.0,1104.2 L1202.0,1104.1 L1203.0,1104.0 L1204.0,1104.0 L1205.0,1103.9 L1206.0,1103.9 L1207.0,1103.8 L1208.0,1103.7 L1209.0,1103.7 L1210.0,1103.6 L1211.0,1103.5 L1212.0,1103.5 L1213.0,1103.4 L1214.0,1103.3 L1215.0,1103.3 L1216.0,1103.2 L1217.0,1103.2 L1218.0,1103.1 L1219.0,1103.0 L1220.0,1103.0 L1221.0,1102.9 L1222.0,1102.8 L1223.0,1102.8 L1224.0,1102.7 L1225.0,1102.6 L1226.0,1102.6 L1227.0,1102.5 L1228.0,1102.4 L1229.0,1102.4 L1230.0,1102.3 L1231.0,1102.2 L1232.0,1102.2 L1233.0,1102.1 L1234.0,1102.0 L1235.0,1102.0 L1236.0,1101.9 L1237.0,1101.8 L1238.0,1101.8 L1239.0,1101.7 L1240.0,1101.6 L1241.0,1101.6 L1242.0,1101.5 L1243.0,1101.4 L1244.0,1101.4 L1245.0,1101.3 L1246.0,1101.2 L1247.0,1101.2 L1248.0,1101.1 L1249.0,1101.0 L1250.0,1101.0 L1251.0,1100.9 L1252.0,1100.8 L1253.0,1100.8 L1254.0,1100.7 L1255.0,1100.6 L1256.0,1100.6 L1257.0,1100.5 L1258.0,1100.4 L1259.0,1100.4 L1260.0,1100.3 L1261.0,1100.2 L1262.0,1100.2 L1263.0,1100.1 L1264.0,1100.0 L1265.0,1100.0 L1266.0,1099.9 L1267.0,1099.8 L1268.0,1099.8 L1269.0,1099.7 L1270.0,1099.6 L1271.0,1099.6 L1272.0,1099.5 L1273.0,1099.4 L1274.0,1099.4 L1275.0,1099.3 L1276.0,1099.2 L1277.0,1099.2 L1278.0,1099.1 L1279.0,1099.0 L1280.0,1098.9 L1281.0,1098.9 L1282.0,1098.8 L1283.0,1098.7 L1284.0,1098.7 L1285.0,1098.6 L1286.0,1098.5 L1287.0,1098.5 L1288.0,1098.4 L1289.0,1098.3 L1290.0,1098.3 L1291.0,1098.2 L1292.0,1098.1 L1293.0,1098.1 L1294.0,1098.0 L1295.0,1097.9 L1296.0,1097.8 L1297.0,1097.8 L1298.0,1097.7 L1299.0,1097.6 L1300.0,1097.6 L1301.0,1097.5 L1302.0,1097.4 L1303.0,1097.4 L1304.0,1097.3 L1305.0,1097.2 L1306.0,1097.1 L1307.0,1097.1 L1308.0,1097.0 L1309.0,1096.9 L1310.0,1096.9 L1311.0,1096.8 L1312.0,1096.7 L1313.0,1096.7 L1314.0,1096.6 L1315.0,1096.5 L1316.0,1096.5 L1317.0,1096.4 L1318.0,1096.3 L1319.0,1096.2 L1320.0,1096.2 L1321.0,1096.1 L1322.0,1096.0 L1323.0,1096.0 L1324.0,1095.9 L1325.0,1095.8 L1326.0,1095.8 L1327.0,1095.7 L1328.0,1095.6 L1329.0,1095.5 L1330.0,1095.5 L1331.0,1095.4 L1332.0,1095.3 L1333.0,1095.3 L1334.0,1095.2 L1335.0,1095.1 L1336.0,1095.1 L1337.0,1095.0 L1338.0,1094.9 L1339.0,1094.8 L1340.0,1094.8 L1341.0,1094.7 L1342.0,1094.6 L1343.0,1094.6 L1344.0,1094.5 L1345.0,1094.4 L1346.0,1094.3 L1347.0,1094.3 L1348.0,1094.2 L1349.0,1094.1 L1350.0,1094.1 L1351.0,1094.0 L1352.0,1093.9 L1353.0,1093.9 L1354.0,1093.8 L1355.0,1093.7 L1356.0,1093.6 L1357.0,1093.6 L1358.0,1093.5 L1359.0,1093.4 L1360.0,1093.4 L1361.0,1093.3 L1362.0,1093.2 L1363.0,1093.2 L1364.0,1093.1 L1365.0,1093.0 L1366.0,1092.9 L1367.0,1092.9 L1368.0,1092.8 L1369.0,1092.7 L1370.0,1092.7 L1371.0,1092.6 L1372.0,1092.5 L1373.0,1092.5 L1374.0,1092.4 L1375.0,1092.3 L1376.0,1092.2 L1377.0,1092.2 L1378.0,1092.1 L1379.0,1092.0 L1380.0,1092.0 L1381.0,1091.9 L1382.0,1091.8 L1383.0,1091.8 L1384.0,1091.7 L1385.0,1091.6 L1386.0,1091.5 L1387.0,1091.5 L1388.0,1091.4 L1389.0,1091.3 L1390.0,1091.3 L1391.0,1091.2 L1392.0,1091.1 L1393.0,1091.1 L1394.0,1091.0 L1395.0,1090.9 L1396.0,1090.9 L1397.0,1090.8 L1398.0,1090.7 L1399.0,1090.6 L1400.0,1090.6 L1401.0,1090.5 L1402.0,1090.4 L1403.0,1090.4 L1404.0,1090.3 L1405.0,1090.2 L1406.0,1090.2 L1407.0,1090.1 L1408.0,1090.0 L1409.0,1089.9 L1410.0,1089.9 L1411.0,1089.8 L1412.0,1089.7 L1413.0,1089.7 L1414.0,1089.6 L1415.0,1089.5 L1416.0,1089.5 L1417.0,1089.4 L1418.0,1089.3 L1419.0,1089.3 L1420.0,1089.2 L1421.0,1089.1 L1422.0,1089.1 L1423.0,1089.0 L1424.0,1088.9 L1425.0,1088.8 L1426.0,1088.8 L1427.0,1088.7 L1428.0,1088.6 L1429.0,1088.6 L1430.0,1088.5 L1431.0,1088.4 L1432.0,1088.4 L1433.0,1088.3 L1434.0,1088.2 L1435.0,1088.2 L1436.0,1088.1 L1437.0,1088.0 L1438.0,1088.0 L1439.0,1087.9 L1440.0,1087.8 L1441.0,1087.8 L1442.0,1087.7 L1443.0,1087.6 L1444.0,1087.6 L1445.0,1087.5 L1446.0,1087.4 L1447.0,1087.4 L1448.0,1087.3 L1449.0,1087.2 L1450.0,1087.2 L1451.0,1087.1 L1452.0,1087.0 L1453.0,1087.0 L1454.0,1086.9 L1455.0,1086.8 L1456.0,1086.8 L1457.0,1086.7 L1458.0,1086.6 L1459.0,1086.6 L1460.0,1086.5 L1461.0,1086.4 L1462.0,1086.4 L1463.0,1086.3 L1464.0,1086.2 L1465.0,1086.2 L1466.0,1086.1 L1467.0,1086.0 L1468.0,1086.0 L1469.0,1085.9 L1470.0,1085.8 L1471.0,1085.8 L1472.0,1085.7 L1473.0,1085.6 L1474.0,1085.6 L1475.0,1085.5 L1476.0,1085.4 L1477.0,1085.4 L1478.0,1085.3 L1479.0,1085.2 L1480.0,1085.2 L1481.0,1085.1 L1482.0,1085.1 L1483.0,1085.0 L1484.0,1084.9 L1485.0,1084.9 L1486.0,1084.8 L1487.0,1084.7 L1488.0,1084.7 L1489.0,1084.6 L1490.0,1084.5 L1491.0,1084.5 L1492.0,1084.4 L1493.0,1084.3 L1494.0,1084.3 L1495.0,1084.2 L1496.0,1084.2 L1497.0,1084.1 L1498.0,1084.0 L1499.0,1084.0 L1500.0,1083.9 L1501.0,1083.8 L1502.0,1083.8 L1503.0,1083.7 L1504.0,1083.7 L1505.0,1083.6 L1506.0,1083.5 L1507.0,1083.5 L1508.0,1083.4 L1509.0,1083.3 L1510.0,1083.3 L1511.0,1083.2 L1512.0,1083.2 L1513.0,1083.1 L1514.0,1083.0 L1515.0,1083.0 L1516.0,1082.9 L1517.0,1082.8 L1518.0,1082.8 L1519.0,1082.7 L1520.0,1082.7 L1521.0,1082.6 L1522.0,1082.5 L1523.0,1082.5 L1524.0,1082.4 L1525.0,1082.4 L1526.0,1082.3 L1527.0,1082.2 L1528.0,1082.2 L1529.0,1082.1 L1530.0,1082.1 L1531.0,1082.0 L1532.0,1081.9 L1533.0,1081.9 L1534.0,1081.8 L1535.0,1081.8 L1536.0,1081.7 L1537.0,1081.6 L1538.0,1081.6 L1539.0,1081.5 L1540.0,1081.5 L1541.0,1081.4 L1542.0,1081.4 L1543.0,1081.3 L1544.0,1081.2 L1545.0,1081.2 L1546.0,1081.1 L1547.0,1081.1 L1548.0,1081.0 L1549.0,1080.9 L1550.0,1080.9 L1551.0,1080.8 L1552.0,1080.8 L1553.0,1080.7 L1554.0,1080.7 L1555.0,1080.6 L1556.0,1080.6 L1557.0,1080.5 L1558.0,1080.4 L1559.0,1080.4 L1560.0,1080.3 L1561.0,1080.3 L1562.0,1080.2 L1563.0,1080.2 L1564.0,1080.1 L1565.0,1080.0 L1566.0,1080.0 L1567.0,1079.9 L1568.0,1079.9 L1569.0,1079.8 L1570.0,1079.8 L1571.0,1079.7 L1572.0,1079.7 L1573.0,1079.6 L1574.0,1079.6 L1575.0,1079.5 L1576.0,1079.4 L1577.0,1079.4 L1578.0,1079.3 L1579.0,1079.3 L1580.0,1079.2 L1581.0,1079.2 L1582.0,1079.1 L1583.0,1079.1 L1584.0,1079.0 L1585.0,1079.0 L1586.0,1078.9 L1587.0,1078.9 L1588.0,1078.8 L1589.0,1078.8 L1590.0,1078.7 L1591.0,1078.7 L1592.0,1078.6 L1593.0,1078.6 L1594.0,1078.5 L1595.0,1078.5 L1596.0,1078.4 L1597.0,1078.4 L1598.0,1078.3 L1599.0,1078.3 L1600.0,1078.2 L1601.0,1078.2 L1602.0,1078.1 L1603.0,1078.1 L1604.0,1078.0 L1605.0,1078.0 L1606.0,1077.9 L1607.0,1077.9 L1608.0,1077.8 L1609.0,1077.8 L1610.0,1077.7 L1611.0,1077.7 L1612.0,1077.6 L1613.0,1077.6 L1614.0,1077.5 L1615.0,1077.5 L1615.7,1077.4" fill="none" stroke="#000000" stroke-width="5.2" stroke-linejoin="round" stroke-linecap="butt"/>
<path d="M1003.0,1114.5 L1004.0,1114.4 L1005.0,1114.3 L1006.0,1114.3 L1007.0,1114.2 L1008.0,1114.1 L1009.0,1114.0 L1010.0,1113.9 L1011.0,1113.8 L1012.0,1113.7 L1013.0,1113.6 L1014.0,1113.5 L1015.0,1113.4 L1016.0,1113.4 L1017.0,1113.3 L1018.0,1113.2 L1019.0,1113.1 L1020.0,1113.0 L1021.0,1112.9 L1022.0,1112.8 L1023.0,1112.7 L1024.0,1112.6 L1025.0,1112.5 L1026.0,1112.4 L1027.0,1112.3 L1028.0,1112.2 L1029.0,1112.1 L1030.0,1112.0 L1031.0,1111.9 L1032.0,1111.8 L1033.0,1111.7 L1034.0,1111.6 L1035.0,1111.5 L1036.0,1111.4 L1037.0,1111.3 L1038.0,1111.2 L1039.0,1111.1 L1040.0,1111.0 L1041.0,1110.9 L1042.0,1110.8 L1043.0,1110.7 L1044.0,1110.6 L1045.0,1110.5 L1046.0,1110.4 L1047.0,1110.3 L1048.0,1110.2 L1049.0,1110.1 L1050.0,1110.0 L1051.0,1109.9 L1052.0,1109.7 L1053.0,1109.6 L1054.0,1109.5 L1055.0,1109.4 L1056.0,1109.3 L1057.0,1109.2 L1058.0,1109.1 L1059.0,1109.0 L1060.0,1108.9 L1061.0,1108.8 L1062.0,1108.6 L1063.0,1108.5 L1064.0,1108.4 L1065.0,1108.3 L1066.0,1108.2 L1067.0,1108.1 L1068.0,1108.0 L1069.0,1107.8 L1070.0,1107.7 L1071.0,1107.6 L1072.0,1107.5 L1073.0,1107.4 L1074.0,1107.3 L1075.0,1107.1 L1076.0,1107.0 L1077.0,1106.9 L1078.0,1106.8 L1079.0,1106.7 L1080.0,1106.6 L1081.0,1106.4 L1082.0,1106.3 L1083.0,1106.2 L1084.0,1106.1 L1085.0,1106.0 L1086.0,1105.8 L1087.0,1105.7 L1088.0,1105.6 L1089.0,1105.5 L1090.0,1105.3 L1091.0,1105.2 L1092.0,1105.1 L1093.0,1105.0 L1094.0,1104.8 L1095.0,1104.7 L1096.0,1104.6 L1097.0,1104.5 L1098.0,1104.3 L1099.0,1104.2 L1100.0,1104.1 L1101.0,1104.0 L1102.0,1103.8 L1103.0,1103.7 L1104.0,1103.6 L1105.0,1103.4 L1106.0,1103.3 L1107.0,1103.2 L1108.0,1103.1 L1109.0,1102.9 L1110.0,1102.8 L1111.0,1102.7 L1112.0,1102.5 L1113.0,1102.4 L1114.0,1102.3 L1115.0,1102.1 L1116.0,1102.0 L1117.0,1101.9 L1118.0,1101.7 L1119.0,1101.6 L1120.0,1101.5 L1121.0,1101.3 L1122.0,1101.2 L1123.0,1101.1 L1124.0,1100.9 L1125.0,1100.8 L1126.0,1100.7 L1127.0,1100.5 L1128.0,1100.4 L1129.0,1100.2 L1130.0,1100.1 L1131.0,1100.0 L1132.0,1099.8 L1133.0,1099.7 L1134.0,1099.6 L1135.0,1099.4 L1136.0,1099.3 L1137.0,1099.1 L1138.0,1099.0 L1139.0,1098.9 L1140.0,1098.7 L1141.0,1098.6 L1142.0,1098.4 L1143.0,1098.3 L1144.0,1098.1 L1145.0,1098.0 L1146.0,1097.9 L1147.0,1097.7 L1148.0,1097.6 L1149.0,1097.4 L1150.0,1097.3 L1151.0,1097.1 L1152.0,1097.0 L1153.0,1096.9 L1154.0,1096.7 L1155.0,1096.6 L1156.0,1096.4 L1157.0,1096.3 L1158.0,1096.1 L1159.0,1096.0 L1160.0,1095.8 L1161.0,1095.7 L1162.0,1095.5 L1163.0,1095.4 L1164.0,1095.2 L1165.0,1095.1 L1166.0,1094.9 L1167.0,1094.8 L1168.0,1094.6 L1169.0,1094.5 L1170.0,1094.3 L1171.0,1094.2 L1172.0,1094.0 L1173.0,1093.9 L1174.0,1093.7 L1175.0,1093.6 L1176.0,1093.4 L1177.0,1093.3 L1178.0,1093.1 L1179.0,1093.0 L1180.0,1092.8 L1181.0,1092.7 L1182.0,1092.5 L1183.0,1092.4 L1184.0,1092.2 L1185.0,1092.1 L1186.0,1091.9 L1187.0,1091.7 L1188.0,1091.6 L1189.0,1091.4 L1190.0,1091.3 L1191.0,1091.1 L1192.0,1091.0 L1193.0,1090.8 L1194.0,1090.7 L1195.0,1090.5 L1196.0,1090.3 L1197.0,1090.2 L1198.0,1090.0 L1199.0,1089.9 L1200.0,1089.7 L1201.0,1089.5 L1202.0,1089.4 L1203.0,1089.2 L1204.0,1089.1 L1205.0,1088.9 L1206.0,1088.7 L1207.0,1088.6 L1208.0,1088.4 L1209.0,1088.3 L1210.0,1088.1 L1211.0,1087.9 L1212.0,1087.8 L1213.0,1087.6 L1214.0,1087.5 L1215.0,1087.3 L1216.0,1087.1 L1217.0,1087.0 L1218.0,1086.8 L1219.0,1086.6 L1220.0,1086.5 L1221.0,1086.3 L1222.0,1086.2 L1223.0,1086.0 L1224.0,1085.8 L1225.0,1085.7 L1226.0,1085.5 L1227.0,1085.3 L1228.0,1085.2 L1229.0,1085.0 L1230.0,1084.8 L1231.0,1084.7 L1232.0,1084.5 L1233.0,1084.3 L1234.0,1084.2 L1235.0,1084.0 L1236.0,1083.8 L1237.0,1083.7 L1238.0,1083.5 L1239.0,1083.3 L1240.0,1083.2 L1241.0,1083.0 L1242.0,1082.8 L1243.0,1082.7 L1244.0,1082.5 L1245.0,1082.3 L1246.0,1082.2 L1247.0,1082.0 L1248.0,1081.8 L1249.0,1081.6 L1250.0,1081.5 L1251.0,1081.3 L1252.0,1081.1 L1253.0,1081.0 L1254.0,1080.8 L1255.0,1080.6 L1256.0,1080.4 L1257.0,1080.3 L1258.0,1080.1 L1259.0,1079.9 L1260.0,1079.8 L1261.0,1079.6 L1262.0,1079.4 L1263.0,1079.2 L1264.0,1079.1 L1265.0,1078.9 L1266.0,1078.7 L1267.0,1078.6 L1268.0,1078.4 L1269.0,1078.2 L1270.0,1078.0 L1271.0,1077.9 L1272.0,1077.7 L1273.0,1077.5 L1274.0,1077.3 L1275.0,1077.2 L1276.0,1077.0 L1277.0,1076.8 L1278.0,1076.6 L1279.0,1076.5 L1280.0,1076.3 L1281.0,1076.1 L1282.0,1075.9 L1283.0,1075.8 L1284.0,1075.6 L1285.0,1075.4 L1286.0,1075.2 L1287.0,1075.0 L1288.0,1074.9 L1289.0,1074.7 L1290.0,1074.5 L1291.0,1074.3 L1292.0,1074.2 L1293.0,1074.0 L1294.0,1073.8 L1295.0,1073.6 L1296.0,1073.4 L1297.0,1073.3 L1298.0,1073.1 L1299.0,1072.9 L1300.0,1072.7 L1301.0,1072.6 L1302.0,1072.4 L1303.0,1072.2 L1304.0,1072.0 L1305.0,1071.8 L1306.0,1071.7 L1307.0,1071.5 L1308.0,1071.3 L1309.0,1071.1 L1310.0,1070.9 L1311.0,1070.8 L1312.0,1070.6 L1313.0,1070.4 L1314.0,1070.2 L1315.0,1070.0 L1316.0,1069.9 L1317.0,1069.7 L1318.0,1069.5 L1319.0,1069.3 L1320.0,1069.1 L1321.0,1068.9 L1322.0,1068.8 L1323.0,1068.6 L1324.0,1068.4 L1325.0,1068.2 L1326.0,1068.0 L1327.0,1067.9 L1328.0,1067.7 L1329.0,1067.5 L1330.0,1067.3 L1331.0,1067.1 L1332.0,1066.9 L1333.0,1066.8 L1334.0,1066.6 L1335.0,1066.4 L1336.0,1066.2 L1337.0,1066.0 L1338.0,1065.8 L1339.0,1065.7 L1340.0,1065.5 L1341.0,1065.3 L1342.0,1065.1 L1343.0,1064.9 L1344.0,1064.7 L1345.0,1064.6 L1346.0,1064.4 L1347.0,1064.2 L1348.0,1064.0 L1349.0,1063.8 L1350.0,1063.6 L1351.0,1063.4 L1352.0,1063.3 L1353.0,1063.1 L1354.0,1062.9 L1355.0,1062.7 L1356.0,1062.5 L1357.0,1062.3 L1358.0,1062.1 L1359.0,1062.0 L1360.0,1061.8 L1361.0,1061.6 L1362.0,1061.4 L1363.0,1061.2 L1364.0,1061.0 L1365.0,1060.8 L1366.0,1060.7 L1367.0,1060.5 L1368.0,1060.3 L1369.0,1060.1 L1370.0,1059.9 L1371.0,1059.7 L1372.0,1059.5 L1373.0,1059.4 L1374.0,1059.2 L1375.0,1059.0 L1376.0,1058.8 L1377.0,1058.6 L1378.0,1058.4 L1379.0,1058.2 L1380.0,1058.0 L1381.0,1057.9 L1382.0,1057.7 L1383.0,1057.5 L1384.0,1057.3 L1385.0,1057.1 L1386.0,1056.9 L1387.0,1056.7 L1388.0,1056.6 L1389.0,1056.4 L1390.0,1056.2 L1391.0,1056.0 L1392.0,1055.8 L1393.0,1055.6 L1394.0,1055.4 L1395.0,1055.2 L1396.0,1055.0 L1397.0,1054.9 L1398.0,1054.7 L1399.0,1054.5 L1400.0,1054.3 L1401.0,1054.1 L1402.0,1053.9 L1403.0,1053.7 L1404.0,1053.5 L1405.0,1053.4 L1406.0,1053.2 L1407.0,1053.0 L1408.0,1052.8 L1409.0,1052.6 L1410.0,1052.4 L1411.0,1052.2 L1412.0,1052.0 L1413.0,1051.9 L1414.0,1051.7 L1415.0,1051.5 L1416.0,1051.3 L1417.0,1051.1 L1418.0,1050.9 L1419.0,1050.7 L1420.0,1050.5 L1421.0,1050.3 L1422.0,1050.2 L1423.0,1050.0 L1424.0,1049.8 L1425.0,1049.6 L1426.0,1049.4 L1427.0,1049.2 L1428.0,1049.0 L1429.0,1048.8 L1430.0,1048.6 L1431.0,1048.5 L1432.0,1048.3 L1433.0,1048.1 L1434.0,1047.9 L1435.0,1047.7 L1436.0,1047.5 L1437.0,1047.3 L1438.0,1047.1 L1439.0,1047.0 L1440.0,1046.8 L1441.0,1046.6 L1442.0,1046.4 L1443.0,1046.2 L1444.0,1046.0 L1445.0,1045.8 L1446.0,1045.6 L1447.0,1045.4 L1448.0,1045.3 L1449.0,1045.1 L1450.0,1044.9 L1451.0,1044.7 L1452.0,1044.5 L1453.0,1044.3 L1454.0,1044.1 L1455.0,1043.9 L1456.0,1043.7 L1457.0,1043.6 L1458.0,1043.4 L1459.0,1043.2 L1460.0,1043.0 L1461.0,1042.8 L1462.0,1042.6 L1463.0,1042.4 L1464.0,1042.2 L1465.0,1042.1 L1466.0,1041.9 L1467.0,1041.7 L1468.0,1041.5 L1469.0,1041.3 L1470.0,1041.1 L1471.0,1040.9 L1472.0,1040.7 L1473.0,1040.6 L1474.0,1040.4 L1475.0,1040.2 L1476.0,1040.0 L1477.0,1039.8 L1478.0,1039.6 L1479.0,1039.4 L1480.0,1039.2 L1481.0,1039.1 L1482.0,1038.9 L1483.0,1038.7 L1484.0,1038.5 L1485.0,1038.3 L1486.0,1038.1 L1487.0,1037.9 L1488.0,1037.7 L1489.0,1037.6 L1490.0,1037.4 L1491.0,1037.2 L1492.0,1037.0 L1493.0,1036.8 L1494.0,1036.6 L1495.0,1036.4 L1496.0,1036.3 L1497.0,1036.1 L1498.0,1035.9 L1499.0,1035.7 L1500.0,1035.5 L1501.0,1035.3 L1502.0,1035.1 L1503.0,1035.0 L1504.0,1034.8 L1505.0,1034.6 L1506.0,1034.4 L1507.0,1034.2 L1508.0,1034.0 L1509.0,1033.8 L1510.0,1033.7 L1511.0,1033.5 L1512.0,1033.3 L1513.0,1033.1 L1514.0,1032.9 L1515.0,1032.7 L1516.0,1032.5 L1517.0,1032.4 L1518.0,1032.2 L1519.0,1032.0 L1520.0,1031.8 L1521.0,1031.6 L1522.0,1031.4 L1523.0,1031.3 L1524.0,1031.1 L1525.0,1030.9 L1526.0,1030.7 L1527.0,1030.5 L1528.0,1030.3 L1529.0,1030.2 L1530.0,1030.0 L1531.0,1029.8 L1532.0,1029.6 L1533.0,1029.4 L1534.0,1029.2 L1535.0,1029.1 L1536.0,1028.9 L1537.0,1028.7 L1538.0,1028.5 L1539.0,1028.3 L1540.0,1028.2 L1541.0,1028.0 L1542.0,1027.8 L1543.0,1027.6 L1544.0,1027.4 L1545.0,1027.2 L1546.0,1027.1 L1547.0,1026.9 L1548.0,1026.7 L1549.0,1026.5 L1550.0,1026.3 L1551.0,1026.2 L1552.0,1026.0 L1553.0,1025.8 L1554.0,1025.6 L1555.0,1025.4 L1556.0,1025.3 L1557.0,1025.1 L1558.0,1024.9 L1559.0,1024.7 L1560.0,1024.5 L1561.0,1024.4 L1562.0,1024.2 L1563.0,1024.0 L1564.0,1023.8 L1565.0,1023.6 L1566.0,1023.5 L1567.0,1023.3 L1568.0,1023.1 L1569.0,1022.9 L1570.0,1022.8 L1571.0,1022.6 L1572.0,1022.4 L1573.0,1022.2 L1574.0,1022.0 L1575.0,1021.9 L1576.0,1021.7 L1577.0,1021.5 L1578.0,1021.3 L1579.0,1021.2 L1580.0,1021.0 L1581.0,1020.8 L1582.0,1020.6 L1583.0,1020.5 L1584.0,1020.3 L1585.0,1020.1 L1586.0,1019.9 L1587.0,1019.8 L1588.0,1019.6 L1589.0,1019.4 L1590.0,1019.2 L1591.0,1019.1 L1592.0,1018.9 L1593.0,1018.7 L1594.0,1018.5 L1595.0,1018.4 L1596.0,1018.2 L1597.0,1018.0 L1598.0,1017.8 L1599.0,1017.7 L1600.0,1017.5 L1601.0,1017.3 L1602.0,1017.2 L1603.0,1017.0 L1604.0,1016.8 L1605.0,1016.6 L1606.0,1016.5 L1607.0,1016.3 L1608.0,1016.1 L1609.0,1016.0 L1610.0,1015.8 L1611.0,1015.6 L1612.0,1015.4 L1613.0,1015.3 L1614.0,1015.1 L1615.0,1014.9 L1615.7,1014.8" fill="none" stroke="#ff0000" stroke-width="5.2" stroke-linejoin="round" stroke-linecap="butt"/>
<path d="M1003.0,1113.9 L1004.0,1113.8 L1005.0,1113.8 L1006.0,1113.7 L1007.0,1113.6 L1008.0,1113.5 L1009.0,1113.4 L1010.0,1113.3 L1011.0,1113.2 L1012.0,1113.1 L1013.0,1112.9 L1014.0,1112.8 L1015.0,1112.7 L1016.0,1112.6 L1017.0,1112.5 L1018.0,1112.4 L1019.0,1112.3 L1020.0,1112.1 L1021.0,1112.0 L1022.0,1111.9 L1023.0,1111.7 L1024.0,1111.6 L1025.0,1111.5 L1026.0,1111.4 L1027.0,1111.2 L1028.0,1111.1 L1029.0,1110.9 L1030.0,1110.8 L1031.0,1110.7 L1032.0,1110.5 L1033.0,1110.4 L1034.0,1110.2 L1035.0,1110.1 L1036.0,1109.9 L1037.0,1109.8 L1038.0,1109.6 L1039.0,1109.4 L1040.0,1109.3 L1041.0,1109.1 L1042.0,1109.0 L1043.0,1108.8 L1044.0,1108.6 L1045.0,1108.5 L1046.0,1108.3 L1047.0,1108.1 L1048.0,1107.9 L1049.0,1107.8 L1050.0,1107.6 L1051.0,1107.4 L1052.0,1107.2 L1053.0,1107.1 L1054.0,1106.9 L1055.0,1106.7 L1056.0,1106.5 L1057.0,1106.3 L1058.0,1106.1 L1059.0,1105.9 L1060.0,1105.8 L1061.0,1105.6 L1062.0,1105.4 L1063.0,1105.2 L1064.0,1105.0 L1065.0,1104.8 L1066.0,1104.6 L1067.0,1104.4 L1068.0,1104.2 L1069.0,1104.0 L1070.0,1103.8 L1071.0,1103.6 L1072.0,1103.4 L1073.0,1103.1 L1074.0,1102.9 L1075.0,1102.7 L1076.0,1102.5 L1077.0,1102.3 L1078.0,1102.1 L1079.0,1101.9 L1080.0,1101.6 L1081.0,1101.4 L1082.0,1101.2 L1083.0,1101.0 L1084.0,1100.8 L1085.0,1100.5 L1086.0,1100.3 L1087.0,1100.1 L1088.0,1099.9 L1089.0,1099.6 L1090.0,1099.4 L1091.0,1099.2 L1092.0,1099.0 L1093.0,1098.7 L1094.0,1098.5 L1095.0,1098.3 L1096.0,1098.0 L1097.0,1097.8 L1098.0,1097.6 L1099.0,1097.3 L1100.0,1097.1 L1101.0,1096.8 L1102.0,1096.6 L1103.0,1096.4 L1104.0,1096.1 L1105.0,1095.9 L1106.0,1095.6 L1107.0,1095.4 L1108.0,1095.2 L1109.0,1094.9 L1110.0,1094.7 L1111.0,1094.4 L1112.0,1094.2 L1113.0,1093.9 L1114.0,1093.7 L1115.0,1093.4 L1116.0,1093.2 L1117.0,1092.9 L1118.0,1092.7 L1119.0,1092.4 L1120.0,1092.2 L1121.0,1091.9 L1122.0,1091.7 L1123.0,1091.4 L1124.0,1091.1 L1125.0,1090.9 L1126.0,1090.6 L1127.0,1090.4 L1128.0,1090.1 L1129.0,1089.9 L1130.0,1089.6 L1131.0,1089.3 L1132.0,1089.1 L1133.0,1088.8 L1134.0,1088.6 L1135.0,1088.3 L1136.0,1088.0 L1137.0,1087.8 L1138.0,1087.5 L1139.0,1087.2 L1140.0,1087.0 L1141.0,1086.7 L1142.0,1086.4 L1143.0,1086.2 L1144.0,1085.9 L1145.0,1085.6 L1146.0,1085.4 L1147.0,1085.1 L1148.0,1084.8 L1149.0,1084.5 L1150.0,1084.3 L1151.0,1084.0 L1152.0,1083.7 L1153.0,1083.5 L1154.0,1083.2 L1155.0,1082.9 L1156.0,1082.6 L1157.0,1082.4 L1158.0,1082.1 L1159.0,1081.8 L1160.0,1081.5 L1161.0,1081.2 L1162.0,1081.0 L1163.0,1080.7 L1164.0,1080.4 L1165.0,1080.1 L1166.0,1079.8 L1167.0,1079.6 L1168.0,1079.3 L1169.0,1079.0 L1170.0,1078.7 L1171.0,1078.4 L1172.0,1078.1 L1173.0,1077.9 L1174.0,1077.6 L1175.0,1077.3 L1176.0,1077.0 L1177.0,1076.7 L1178.0,1076.4 L1179.0,1076.1 L1180.0,1075.9 L1181.0,1075.6 L1182.0,1075.3 L1183.0,1075.0 L1184.0,1074.7 L1185.0,1074.4 L1186.0,1074.1 L1187.0,1073.8 L1188.0,1073.5 L1189.0,1073.2 L1190.0,1072.9 L1191.0,1072.7 L1192.0,1072.4 L1193.0,1072.1 L1194.0,1071.8 L1195.0,1071.5 L1196.0,1071.2 L1197.0,1070.9 L1198.0,1070.6 L1199.0,1070.3 L1200.0,1070.0 L1201.0,1069.7 L1202.0,1069.4 L1203.0,1069.1 L1204.0,1068.8 L1205.0,1068.5 L1206.0,1068.2 L1207.0,1067.9 L1208.0,1067.6 L1209.0,1067.3 L1210.0,1067.0 L1211.0,1066.7 L1212.0,1066.4 L1213.0,1066.1 L1214.0,1065.8 L1215.0,1065.5 L1216.0,1065.2 L1217.0,1064.9 L1218.0,1064.6 L1219.0,1064.3 L1220.0,1064.0 L1221.0,1063.7 L1222.0,1063.4 L1223.0,1063.1 L1224.0,1062.8 L1225.0,1062.5 L1226.0,1062.2 L1227.0,1061.9 L1228.0,1061.5 L1229.0,1061.2 L1230.0,1060.9 L1231.0,1060.6 L1232.0,1060.3 L1233.0,1060.0 L1234.0,1059.7 L1235.0,1059.4 L1236.0,1059.1 L1237.0,1058.8 L1238.0,1058.5 L1239.0,1058.2 L1240.0,1057.9 L1241.0,1057.5 L1242.0,1057.2 L1243.0,1056.9 L1244.0,1056.6 L1245.0,1056.3 L1246.0,1056.0 L1247.0,1055.7 L1248.0,1055.4 L1249.0,1055.1 L1250.0,1054.8 L1251.0,1054.4 L1252.0,1054.1 L1253.0,1053.8 L1254.0,1053.5 L1255.0,1053.2 L1256.0,1052.9 L1257.0,1052.6 L1258.0,1052.3 L1259.0,1051.9 L1260.0,1051.6 L1261.0,1051.3 L1262.0,1051.0 L1263.0,1050.7 L1264.0,1050.4 L1265.0,1050.1 L1266.0,1049.7 L1267.0,1049.4 L1268.0,1049.1 L1269.0,1048.8 L1270.0,1048.5 L1271.0,1048.2 L1272.0,1047.8 L1273.0,1047.5 L1274.0,1047.2 L1275.0,1046.9 L1276.0,1046.6 L1277.0,1046.3 L1278.0,1045.9 L1279.0,1045.6 L1280.0,1045.3 L1281.0,1045.0 L1282.0,1044.7 L1283.0,1044.4 L1284.0,1044.0 L1285.0,1043.7 L1286.0,1043.4 L1287.0,1043.1 L1288.0,1042.8 L1289.0,1042.4 L1290.0,1042.1 L1291.0,1041.8 L1292.0,1041.5 L1293.0,1041.2 L1294.0,1040.8 L1295.0,1040.5 L1296.0,1040.2 L1297.0,1039.9 L1298.0,1039.6 L1299.0,1039.2 L1300.0,1038.9 L1301.0,1038.6 L1302.0,1038.3 L1303.0,1037.9 L1304.0,1037.6 L1305.0,1037.3 L1306.0,1037.0 L1307.0,1036.6 L1308.0,1036.3 L1309.0,1036.0 L1310.0,1035.7 L1311.0,1035.3 L1312.0,1035.0 L1313.0,1034.7 L1314.0,1034.4 L1315.0,1034.0 L1316.0,1033.7 L1317.0,1033.4 L1318.0,1033.0 L1319.0,1032.7 L1320.0,1032.4 L1321.0,1032.1 L1322.0,1031.7 L1323.0,1031.4 L1324.0,1031.1 L1325.0,1030.7 L1326.0,1030.4 L1327.0,1030.1 L1328.0,1029.8 L1329.0,1029.4 L1330.0,1029.1 L1331.0,1028.8 L1332.0,1028.4 L1333.0,1028.1 L1334.0,1027.8 L1335.0,1027.4 L1336.0,1027.1 L1337.0,1026.8 L1338.0,1026.4 L1339.0,1026.1 L1340.0,1025.8 L1341.0,1025.4 L1342.0,1025.1 L1343.0,1024.8 L1344.0,1024.4 L1345.0,1024.1 L1346.0,1023.7 L1347.0,1023.4 L1348.0,1023.1 L1349.0,1022.7 L1350.0,1022.4 L1351.0,1022.1 L1352.0,1021.7 L1353.0,1021.4 L1354.0,1021.0 L1355.0,1020.7 L1356.0,1020.4 L1357.0,1020.0 L1358.0,1019.7 L1359.0,1019.3 L1360.0,1019.0 L1361.0,1018.7 L1362.0,1018.3 L1363.0,1018.0 L1364.0,1017.6 L1365.0,1017.3 L1366.0,1016.9 L1367.0,1016.6 L1368.0,1016.3 L1369.0,1015.9 L1370.0,1015.6 L1371.0,1015.2 L1372.0,1014.9 L1373.0,1014.5 L1374.0,1014.2 L1375.0,1013.8 L1376.0,1013.5 L1377.0,1013.1 L1378.0,1012.8 L1379.0,1012.4 L1380.0,1012.1 L1381.0,1011.7 L1382.0,1011.4 L1383.0,1011.0 L1384.0,1010.7 L1385.0,1010.3 L1386.0,1010.0 L1387.0,1009.6 L1388.0,1009.3 L1389.0,1008.9 L1390.0,1008.6 L1391.0,1008.2 L1392.0,1007.9 L1393.0,1007.5 L1394.0,1007.2 L1395.0,1006.8 L1396.0,1006.5 L1397.0,1006.1 L1398.0,1005.8 L1399.0,1005.4 L1400.0,1005.0 L1401.0,1004.7 L1402.0,1004.3 L1403.0,1004.0 L1404.0,1003.6 L1405.0,1003.2 L1406.0,1002.9 L1407.0,1002.5 L1408.0,1002.2 L1409.0,1001.8 L1410.0,1001.4 L1411.0,1001.1 L1412.0,1000.7 L1413.0,1000.4 L1414.0,1000.0 L1415.0,999.6 L1416.0,999.3 L1417.0,998.9 L1418.0,998.5 L1419.0,998.2 L1420.0,997.8 L1421.0,997.4 L1422.0,997.1 L1423.0,996.7 L1424.0,996.3 L1425.0,996.0 L1426.0,995.6 L1427.0,995.2 L1428.0,994.9 L1429.0,994.5 L1430.0,994.1 L1431.0,993.8 L1432.0,993.4 L1433.0,993.0 L1434.0,992.7 L1435.0,992.3 L1436.0,991.9 L1437.0,991.5 L1438.0,991.2 L1439.0,990.8 L1440.0,990.4 L1441.0,990.0 L1442.0,989.7 L1443.0,989.3 L1444.0,988.9 L1445.0,988.5 L1446.0,988.2 L1447.0,987.8 L1448.0,987.4 L1449.0,987.0 L1450.0,986.6 L1451.0,986.3 L1452.0,985.9 L1453.0,985.5 L1454.0,985.1 L1455.0,984.7 L1456.0,984.4 L1457.0,984.0 L1458.0,983.6 L1459.0,983.2 L1460.0,982.8 L1461.0,982.4 L1462.0,982.1 L1463.0,981.7 L1464.0,981.3 L1465.0,980.9 L1466.0,980.5 L1467.0,980.1 L1468.0,979.8 L1469.0,979.4 L1470.0,979.0 L1471.0,978.6 L1472.0,978.2 L1473.0,977.8 L1474.0,977.4 L1475.0,977.0 L1476.0,976.7 L1477.0,976.3 L1478.0,975.9 L1479.0,975.5 L1480.0,975.1 L1481.0,974.7 L1482.0,974.3 L1483.0,973.9 L1484.0,973.6 L1485.0,973.2 L1486.0,972.8 L1487.0,972.4 L1488.0,972.0 L1489.0,971.6 L1490.0,971.2 L1491.0,970.8 L1492.0,970.4 L1493.0,970.1 L1494.0,969.7 L1495.0,969.3 L1496.0,968.9 L1497.0,968.5 L1498.0,968.1 L1499.0,967.7 L1500.0,967.3 L1501.0,966.9 L1502.0,966.6 L1503.0,966.2 L1504.0,965.8 L1505.0,965.4 L1506.0,965.0 L1507.0,964.6 L1508.0,964.2 L1509.0,963.8 L1510.0,963.4 L1511.0,963.1 L1512.0,962.7 L1513.0,962.3 L1514.0,961.9 L1515.0,961.5 L1516.0,961.1 L1517.0,960.7 L1518.0,960.3 L1519.0,960.0 L1520.0,959.6 L1521.0,959.2 L1522.0,958.8 L1523.0,958.4 L1524.0,958.0 L1525.0,957.6 L1526.0,957.3 L1527.0,956.9 L1528.0,956.5 L1529.0,956.1 L1530.0,955.7 L1531.0,955.3 L1532.0,955.0 L1533.0,954.6 L1534.0,954.2 L1535.0,953.8 L1536.0,953.4 L1537.0,953.0 L1538.0,952.7 L1539.0,952.3 L1540.0,951.9 L1541.0,951.5 L1542.0,951.1 L1543.0,950.8 L1544.0,950.4 L1545.0,950.0 L1546.0,949.6 L1547.0,949.3 L1548.0,948.9 L1549.0,948.5 L1550.0,948.1 L1551.0,947.8 L1552.0,947.4 L1553.0,947.0 L1554.0,946.6 L1555.0,946.3 L1556.0,945.9 L1557.0,945.5 L1558.0,945.1 L1559.0,944.8 L1560.0,944.4 L1561.0,944.0 L1562.0,943.7 L1563.0,943.3 L1564.0,942.9 L1565.0,942.6 L1566.0,942.2 L1567.0,941.8 L1568.0,941.5 L1569.0,941.1 L1570.0,940.7 L1571.0,940.4 L1572.0,940.0 L1573.0,939.7 L1574.0,939.3 L1575.0,938.9 L1576.0,938.6 L1577.0,938.2 L1578.0,937.9 L1579.0,937.5 L1580.0,937.2 L1581.0,936.8 L1582.0,936.5 L1583.0,936.1 L1584.0,935.7 L1585.0,935.4 L1586.0,935.0 L1587.0,934.7 L1588.0,934.3 L1589.0,934.0 L1590.0,933.7 L1591.0,933.3 L1592.0,933.0 L1593.0,932.6 L1594.0,932.3 L1595.0,931.9 L1596.0,931.6 L1597.0,931.2 L1598.0,930.9 L1599.0,930.6 L1600.0,930.2 L1601.0,929.9 L1602.0,929.6 L1603.0,929.2 L1604.0,928.9 L1605.0,928.6 L1606.0,928.2 L1607.0,927.9 L1608.0,927.6 L1609.0,927.2 L1610.0,926.9 L1611.0,926.6 L1612.0,926.3 L1613.0,925.9 L1614.0,925.6 L1615.0,925.3 L1615.7,925.1" fill="none" stroke="#0000ff" stroke-width="5.2" stroke-linejoin="round" stroke-linecap="butt"/>
<path d="M1003.0,1114.0 L1004.0,1113.9 L1005.0,1113.8 L1006.0,1113.6 L1007.0,1113.5 L1008.0,1113.4 L1009.0,1113.2 L1010.0,1113.1 L1011.0,1113.0 L1012.0,1112.8 L1013.0,1112.7 L1014.0,1112.5 L1015.0,1112.4 L1016.0,1112.2 L1017.0,1112.1 L1018.0,1111.9 L1019.0,1111.7 L1020.0,1111.6 L1021.0,1111.4 L1022.0,1111.2 L1023.0,1111.0 L1024.0,1110.8 L1025.0,1110.6 L1026.0,1110.5 L1027.0,1110.3 L1028.0,1110.1 L1029.0,1109.9 L1030.0,1109.7 L1031.0,1109.4 L1032.0,1109.2 L1033.0,1109.0 L1034.0,1108.8 L1035.0,1108.6 L1036.0,1108.4 L1037.0,1108.1 L1038.0,1107.9 L1039.0,1107.7 L1040.0,1107.4 L1041.0,1107.2 L1042.0,1106.9 L1043.0,1106.7 L1044.0,1106.4 L1045.0,1106.2 L1046.0,1105.9 L1047.0,1105.7 L1048.0,1105.4 L1049.0,1105.1 L1050.0,1104.9 L1051.0,1104.6 L1052.0,1104.3 L1053.0,1104.0 L1054.0,1103.8 L1055.0,1103.5 L1056.0,1103.2 L1057.0,1102.9 L1058.0,1102.6 L1059.0,1102.3 L1060.0,1102.0 L1061.0,1101.7 L1062.0,1101.4 L1063.0,1101.1 L1064.0,1100.8 L1065.0,1100.5 L1066.0,1100.2 L1067.0,1099.8 L1068.0,1099.5 L1069.0,1099.2 L1070.0,1098.8 L1071.0,1098.5 L1072.0,1098.2 L1073.0,1097.8 L1074.0,1097.5 L1075.0,1097.2 L1076.0,1096.8 L1077.0,1096.5 L1078.0,1096.1 L1079.0,1095.8 L1080.0,1095.4 L1081.0,1095.0 L1082.0,1094.7 L1083.0,1094.3 L1084.0,1093.9 L1085.0,1093.6 L1086.0,1093.2 L1087.0,1092.8 L1088.0,1092.4 L1089.0,1092.0 L1090.0,1091.7 L1091.0,1091.3 L1092.0,1090.9 L1093.0,1090.5 L1094.0,1090.1 L1095.0,1089.7 L1096.0,1089.3 L1097.0,1088.9 L1098.0,1088.5 L1099.0,1088.1 L1100.0,1087.7 L1101.0,1087.2 L1102.0,1086.8 L1103.0,1086.4 L1104.0,1086.0 L1105.0,1085.6 L1106.0,1085.1 L1107.0,1084.7 L1108.0,1084.3 L1109.0,1083.8 L1110.0,1083.4 L1111.0,1082.9 L1112.0,1082.5 L1113.0,1082.1 L1114.0,1081.6 L1115.0,1081.2 L1116.0,1080.7 L1117.0,1080.3 L1118.0,1079.8 L1119.0,1079.3 L1120.0,1078.9 L1121.0,1078.4 L1122.0,1077.9 L1123.0,1077.5 L1124.0,1077.0 L1125.0,1076.5 L1126.0,1076.0 L1127.0,1075.6 L1128.0,1075.1 L1129.0,1074.6 L1130.0,1074.1 L1131.0,1073.6 L1132.0,1073.1 L1133.0,1072.6 L1134.0,1072.1 L1135.0,1071.7 L1136.0,1071.2 L1137.0,1070.6 L1138.0,1070.1 L1139.0,1069.6 L1140.0,1069.1 L1141.0,1068.6 L1142.0,1068.1 L1143.0,1067.6 L1144.0,1067.1 L1145.0,1066.6 L1146.0,1066.0 L1147.0,1065.5 L1148.0,1065.0 L1149.0,1064.5 L1150.0,1063.9 L1151.0,1063.4 L1152.0,1062.9 L1153.0,1062.3 L1154.0,1061.8 L1155.0,1061.2 L1156.0,1060.7 L1157.0,1060.2 L1158.0,1059.6 L1159.0,1059.1 L1160.0,1058.5 L1161.0,1058.0 L1162.0,1057.4 L1163.0,1056.8 L1164.0,1056.3 L1165.0,1055.7 L1166.0,1055.2 L1167.0,1054.6 L1168.0,1054.0 L1169.0,1053.5 L1170.0,1052.9 L1171.0,1052.3 L1172.0,1051.7 L1173.0,1051.2 L1174.0,1050.6 L1175.0,1050.0 L1176.0,1049.4 L1177.0,1048.8 L1178.0,1048.3 L1179.0,1047.7 L1180.0,1047.1 L1181.0,1046.5 L1182.0,1045.9 L1183.0,1045.3 L1184.0,1044.7 L1185.0,1044.1 L1186.0,1043.5 L1187.0,1042.9 L1188.0,1042.3 L1189.0,1041.7 L1190.0,1041.1 L1191.0,1040.5 L1192.0,1039.9 L1193.0,1039.3 L1194.0,1038.7 L1195.0,1038.0 L1196.0,1037.4 L1197.0,1036.8 L1198.0,1036.2 L1199.0,1035.6 L1200.0,1035.0 L1201.0,1034.3 L1202.0,1033.7 L1203.0,1033.1 L1204.0,1032.4 L1205.0,1031.8 L1206.0,1031.2 L1207.0,1030.5 L1208.0,1029.9 L1209.0,1029.3 L1210.0,1028.6 L1211.0,1028.0 L1212.0,1027.4 L1213.0,1026.7 L1214.0,1026.1 L1215.0,1025.4 L1216.0,1024.8 L1217.0,1024.1 L1218.0,1023.5 L1219.0,1022.8 L1220.0,1022.2 L1221.0,1021.5 L1222.0,1020.9 L1223.0,1020.2 L1224.0,1019.6 L1225.0,1018.9 L1226.0,1018.2 L1227.0,1017.6 L1228.0,1016.9 L1229.0,1016.2 L1230.0,1015.6 L1231.0,1014.9 L1232.0,1014.2 L1233.0,1013.6 L1234.0,1012.9 L1235.0,1012.2 L1236.0,1011.6 L1237.0,1010.9 L1238.0,1010.2 L1239.0,1009.5 L1240.0,1008.9 L1241.0,1008.2 L1242.0,1007.5 L1243.0,1006.8 L1244.0,1006.1 L1245.0,1005.4 L1246.0,1004.8 L1247.0,1004.1 L1248.0,1003.4 L1249.0,1002.7 L1250.0,1002.0 L1251.0,1001.3 L1252.0,1000.6 L1253.0,999.9 L1254.0,999.2 L1255.0,998.5 L1256.0,997.8 L1257.0,997.2 L1258.0,996.5 L1259.0,995.8 L1260.0,995.1 L1261.0,994.4 L1262.0,993.7 L1263.0,993.0 L1264.0,992.2 L1265.0,991.5 L1266.0,990.8 L1267.0,990.1 L1268.0,989.4 L1269.0,988.7 L1270.0,988.0 L1271.0,987.3 L1272.0,986.6 L1273.0,985.9 L1274.0,985.2 L1275.0,984.4 L1276.0,983.7 L1277.0,983.0 L1278.0,982.3 L1279.0,981.6 L1280.0,980.9 L1281.0,980.2 L1282.0,979.4 L1283.0,978.7 L1284.0,978.0 L1285.0,977.3 L1286.0,976.5 L1287.0,975.8 L1288.0,975.1 L1289.0,974.4 L1290.0,973.7 L1291.0,972.9 L1292.0,972.2 L1293.0,971.5 L1294.0,970.7 L1295.0,970.0 L1296.0,969.3 L1297.0,968.6 L1298.0,967.8 L1299.0,967.1 L1300.0,966.4 L1301.0,965.6 L1302.0,964.9 L1303.0,964.2 L1304.0,963.4 L1305.0,962.7 L1306.0,962.0 L1307.0,961.2 L1308.0,960.5 L1309.0,959.8 L1310.0,959.0 L1311.0,958.3 L1312.0,957.6 L1313.0,956.8 L1314.0,956.1 L1315.0,955.3 L1316.0,954.6 L1317.0,953.9 L1318.0,953.1 L1319.0,952.4 L1320.0,951.6 L1321.0,950.9 L1322.0,950.1 L1323.0,949.4 L1324.0,948.7 L1325.0,947.9 L1326.0,947.2 L1327.0,946.4 L1328.0,945.7 L1329.0,944.9 L1330.0,944.2 L1331.0,943.4 L1332.0,942.7 L1333.0,942.0 L1334.0,941.2 L1335.0,940.5 L1336.0,939.7 L1337.0,939.0 L1338.0,938.2 L1339.0,937.5 L1340.0,936.7 L1341.0,936.0 L1342.0,935.2 L1343.0,934.5 L1344.0,933.7 L1345.0,933.0 L1346.0,932.2 L1347.0,931.5 L1348.0,930.7 L1349.0,930.0 L1350.0,929.2 L1351.0,928.5 L1352.0,927.7 L1353.0,927.0 L1354.0,926.2 L1355.0,925.5 L1356.0,924.7 L1357.0,923.9 L1358.0,923.2 L1359.0,922.4 L1360.0,921.7 L1361.0,920.9 L1362.0,920.2 L1363.0,919.4 L1364.0,918.7 L1365.0,917.9 L1366.0,917.2 L1367.0,916.4 L1368.0,915.7 L1369.0,914.9 L1370.0,914.2 L1371.0,913.4 L1372.0,912.6 L1373.0,911.9 L1374.0,911.1 L1375.0,910.4 L1376.0,909.6 L1377.0,908.9 L1378.0,908.1 L1379.0,907.4 L1380.0,906.6 L1381.0,905.9 L1382.0,905.1 L1383.0,904.3 L1384.0,903.6 L1385.0,902.8 L1386.0,902.1 L1387.0,901.3 L1388.0,900.6 L1389.0,899.8 L1390.0,899.1 L1391.0,898.3 L1392.0,897.6 L1393.0,896.8 L1394.0,896.1 L1395.0,895.3 L1396.0,894.6 L1397.0,893.8 L1398.0,893.0 L1399.0,892.3 L1400.0,891.5 L1401.0,890.8 L1402.0,890.0 L1403.0,889.3 L1404.0,888.5 L1405.0,887.8 L1406.0,887.0 L1407.0,886.3 L1408.0,885.5 L1409.0,884.8 L1410.0,884.0 L1411.0,883.3 L1412.0,882.5 L1413.0,881.8 L1414.0,881.0 L1415.0,880.3 L1416.0,879.5 L1417.0,878.8 L1418.0,878.0 L1419.0,877.3 L1420.0,876.5 L1421.0,875.8 L1422.0,875.1 L1423.0,874.3 L1424.0,873.6 L1425.0,872.8 L1426.0,872.1 L1427.0,871.3 L1428.0,870.6 L1429.0,869.8 L1430.0,869.1 L1431.0,868.4 L1432.0,867.6 L1433.0,866.9 L1434.0,866.1 L1435.0,865.4 L1436.0,864.6 L1437.0,863.9 L1438.0,863.2 L1439.0,862.4 L1440.0,861.7 L1441.0,861.0 L1442.0,860.2 L1443.0,859.5 L1444.0,858.7 L1445.0,858.0 L1446.0,857.3 L1447.0,856.5 L1448.0,855.8 L1449.0,855.1 L1450.0,854.3 L1451.0,853.6 L1452.0,852.9 L1453.0,852.1 L1454.0,851.4 L1455.0,850.7 L1456.0,849.9 L1457.0,849.2 L1458.0,848.5 L1459.0,847.8 L1460.0,847.0 L1461.0,846.3 L1462.0,845.6 L1463.0,844.9 L1464.0,844.1 L1465.0,843.4 L1466.0,842.7 L1467.0,842.0 L1468.0,841.2 L1469.0,840.5 L1470.0,839.8 L1471.0,839.1 L1472.0,838.4 L1473.0,837.6 L1474.0,836.9 L1475.0,836.2 L1476.0,835.5 L1477.0,834.8 L1478.0,834.1 L1479.0,833.4 L1480.0,832.6 L1481.0,831.9 L1482.0,831.2 L1483.0,830.5 L1484.0,829.8 L1485.0,829.1 L1486.0,828.4 L1487.0,827.7 L1488.0,827.0 L1489.0,826.3 L1490.0,825.6 L1491.0,824.9 L1492.0,824.2 L1493.0,823.5 L1494.0,822.8 L1495.0,822.1 L1496.0,821.4 L1497.0,820.7 L1498.0,820.0 L1499.0,819.3 L1500.0,818.6 L1501.0,817.9 L1502.0,817.2 L1503.0,816.5 L1504.0,815.8 L1505.0,815.1 L1506.0,814.4 L1507.0,813.7 L1508.0,813.0 L1509.0,812.4 L1510.0,811.7 L1511.0,811.0 L1512.0,810.3 L1513.0,809.6 L1514.0,808.9 L1515.0,808.3 L1516.0,807.6 L1517.0,806.9 L1518.0,806.2 L1519.0,805.6 L1520.0,804.9 L1521.0,804.2 L1522.0,803.5 L1523.0,802.9 L1524.0,802.2 L1525.0,801.5 L1526.0,800.9 L1527.0,800.2 L1528.0,799.5 L1529.0,798.9 L1530.0,798.2 L1531.0,797.6 L1532.0,796.9 L1533.0,796.2 L1534.0,795.6 L1535.0,794.9 L1536.0,794.3 L1537.0,793.6 L1538.0,793.0 L1539.0,792.3 L1540.0,791.7 L1541.0,791.0 L1542.0,790.4 L1543.0,789.7 L1544.0,789.1 L1545.0,788.4 L1546.0,787.8 L1547.0,787.1 L1548.0,786.5 L1549.0,785.9 L1550.0,785.2 L1551.0,784.6 L1552.0,784.0 L1553.0,783.3 L1554.0,782.7 L1555.0,782.1 L1556.0,781.4 L1557.0,780.8 L1558.0,780.2 L1559.0,779.6 L1560.0,778.9 L1561.0,778.3 L1562.0,777.7 L1563.0,777.1 L1564.0,776.5 L1565.0,775.8 L1566.0,775.2 L1567.0,774.6 L1568.0,774.0 L1569.0,773.4 L1570.0,772.8 L1571.0,772.2 L1572.0,771.6 L1573.0,771.0 L1574.0,770.4 L1575.0,769.8 L1576.0,769.2 L1577.0,768.6 L1578.0,768.0 L1579.0,767.4 L1580.0,766.8 L1581.0,766.2 L1582.0,765.6 L1583.0,765.0 L1584.0,764.4 L1585.0,763.9 L1586.0,763.3 L1587.0,762.7 L1588.0,762.1 L1589.0,761.5 L1590.0,761.0 L1591.0,760.4 L1592.0,759.8 L1593.0,759.2 L1594.0,758.7 L1595.0,758.1 L1596.0,757.5 L1597.0,757.0 L1598.0,756.4 L1599.0,755.9 L1600.0,755.3 L1601.0,754.7 L1602.0,754.2 L1603.0,753.6 L1604.0,753.1 L1605.0,752.5 L1606.0,752.0 L1607.0,751.4 L1608.0,750.9 L1609.0,750.3 L1610.0,749.8 L1611.0,749.3 L1612.0,748.7 L1613.0,748.2 L1614.0,747.7 L1615.0,747.1 L1615.7,746.7" fill="none" stroke="#800000" stroke-width="5.2" stroke-linejoin="round" stroke-linecap="butt"/>
<path d="M1003.0,1113.2 L1004.0,1112.8 L1005.0,1112.5 L1006.0,1112.1 L1007.0,1111.8 L1008.0,1111.4 L1009.0,1111.1 L1010.0,1110.8 L1011.0,1110.5 L1012.0,1110.1 L1013.0,1109.8 L1014.0,1109.5 L1015.0,1109.2 L1016.0,1108.9 L1017.0,1108.6 L1018.0,1108.3 L1019.0,1108.0 L1020.0,1107.7 L1021.0,1107.3 L1022.0,1107.0 L1023.0,1106.7 L1024.0,1106.4 L1025.0,1106.1 L1026.0,1105.8 L1027.0,1105.4 L1028.0,1105.1 L1029.0,1104.8 L1030.0,1104.4 L1031.0,1104.1 L1032.0,1103.7 L1033.0,1103.3 L1034.0,1103.0 L1035.0,1102.6 L1036.0,1102.2 L1037.0,1101.8 L1038.0,1101.4 L1039.0,1101.0 L1040.0,1100.6 L1041.0,1100.1 L1042.0,1099.7 L1043.0,1099.2 L1044.0,1098.7 L1045.0,1098.2 L1046.0,1097.7 L1047.0,1097.2 L1048.0,1096.6 L1049.0,1096.1 L1050.0,1095.5 L1051.0,1094.9 L1052.0,1094.3 L1053.0,1093.7 L1054.0,1093.1 L1055.0,1092.4 L1056.0,1091.7 L1057.0,1091.0 L1058.0,1090.3 L1059.0,1089.6 L1060.0,1088.8 L1061.0,1088.0 L1062.0,1087.2 L1063.0,1086.4 L1064.0,1085.6 L1065.0,1084.7 L1066.0,1083.8 L1067.0,1082.8 L1068.0,1081.9 L1069.0,1080.9 L1070.0,1079.9 L1071.0,1078.9 L1072.0,1077.8 L1073.0,1076.7 L1074.0,1075.6 L1075.0,1074.5 L1076.0,1073.3 L1077.0,1072.1 L1078.0,1070.8 L1079.0,1069.5 L1080.0,1068.2 L1081.0,1066.8 L1082.0,1065.3 L1083.0,1063.9 L1084.0,1062.3 L1085.0,1060.8 L1086.0,1059.1 L1087.0,1057.4 L1088.0,1055.7 L1089.0,1053.9 L1090.0,1052.0 L1091.0,1050.1 L1092.0,1048.1 L1093.0,1046.1 L1094.0,1044.0 L1095.0,1041.9 L1096.0,1039.7 L1097.0,1037.5 L1098.0,1035.3 L1099.0,1033.0 L1100.0,1030.7 L1101.0,1028.3 L1102.0,1026.0 L1103.0,1023.6 L1104.0,1021.2 L1105.0,1018.8 L1106.0,1016.4 L1107.0,1014.0 L1108.0,1011.6 L1109.0,1009.1 L1110.0,1006.7 L1111.0,1004.3 L1112.0,1002.0 L1113.0,999.6 L1114.0,997.3 L1115.0,995.0 L1116.0,992.7 L1117.0,990.5 L1118.0,988.3 L1119.0,986.1 L1120.0,984.0 L1121.0,982.0 L1122.0,980.0 L1123.0,978.1 L1124.0,976.2 L1125.0,974.4 L1126.0,972.6 L1127.0,970.9 L1128.0,969.2 L1129.0,967.6 L1130.0,966.0 L1131.0,964.4 L1132.0,962.9 L1133.0,961.4 L1134.0,960.0 L1135.0,958.6 L1136.0,957.2 L1137.0,955.8 L1138.0,954.5 L1139.0,953.1 L1140.0,951.8 L1141.0,950.6 L1142.0,949.3 L1143.0,948.1 L1144.0,946.9 L1145.0,945.7 L1146.0,944.5 L1147.0,943.3 L1148.0,942.2 L1149.0,941.1 L1150.0,940.0 L1151.0,938.9 L1152.0,937.8 L1153.0,936.7 L1154.0,935.7 L1155.0,934.7 L1156.0,933.7 L1157.0,932.7 L1158.0,931.7 L1159.0,930.7 L1160.0,929.7 L1161.0,928.8 L1162.0,927.8 L1163.0,926.9 L1164.0,926.0 L1165.0,925.1 L1166.0,924.2 L1167.0,923.3 L1168.0,922.4 L1169.0,921.5 L1170.0,920.6 L1171.0,919.8 L1172.0,918.9 L1173.0,918.1 L1174.0,917.2 L1175.0,916.4 L1176.0,915.5 L1177.0,914.7 L1178.0,913.8 L1179.0,913.0 L1180.0,912.2 L1181.0,911.3 L1182.0,910.5 L1183.0,909.7 L1184.0,908.9 L1185.0,908.0 L1186.0,907.2 L1187.0,906.4 L1188.0,905.6 L1189.0,904.8 L1190.0,904.0 L1191.0,903.1 L1192.0,902.3 L1193.0,901.5 L1194.0,900.7 L1195.0,899.9 L1196.0,899.1 L1197.0,898.3 L1198.0,897.5 L1199.0,896.7 L1200.0,895.9 L1201.0,895.1 L1202.0,894.3 L1203.0,893.5 L1204.0,892.7 L1205.0,892.0 L1206.0,891.2 L1207.0,890.4 L1208.0,889.6 L1209.0,888.8 L1210.0,888.0 L1211.0,887.3 L1212.0,886.5 L1213.0,885.7 L1214.0,884.9 L1215.0,884.2 L1216.0,883.4 L1217.0,882.6 L1218.0,881.9 L1219.0,881.1 L1220.0,880.3 L1221.0,879.6 L1222.0,878.8 L1223.0,878.1 L1224.0,877.3 L1225.0,876.6 L1226.0,875.8 L1227.0,875.1 L1228.0,874.3 L1229.0,873.6 L1230.0,872.8 L1231.0,872.1 L1232.0,871.3 L1233.0,870.6 L1234.0,869.8 L1235.0,869.1 L1236.0,868.4 L1237.0,867.6 L1238.0,866.9 L1239.0,866.2 L1240.0,865.4 L1241.0,864.7 L1242.0,864.0 L1243.0,863.3 L1244.0,862.5 L1245.0,861.8 L1246.0,861.1 L1247.0,860.4 L1248.0,859.7 L1249.0,858.9 L1250.0,858.2 L1251.0,857.5 L1252.0,856.8 L1253.0,856.1 L1254.0,855.4 L1255.0,854.7 L1256.0,854.0 L1257.0,853.3 L1258.0,852.6 L1259.0,851.9 L1260.0,851.2 L1261.0,850.5 L1262.0,849.8 L1263.0,849.1 L1264.0,848.4 L1265.0,847.7 L1266.0,847.0 L1267.0,846.3 L1268.0,845.6 L1269.0,844.9 L1270.0,844.3 L1271.0,843.6 L1272.0,842.9 L1273.0,842.2 L1274.0,841.5 L1275.0,840.9 L1276.0,840.2 L1277.0,839.5 L1278.0,838.8 L1279.0,838.2 L1280.0,837.5 L1281.0,836.8 L1282.0,836.2 L1283.0,835.5 L1284.0,834.8 L1285.0,834.2 L1286.0,833.5 L1287.0,832.8 L1288.0,832.2 L1289.0,831.5 L1290.0,830.9 L1291.0,830.2 L1292.0,829.6 L1293.0,828.9 L1294.0,828.2 L1295.0,827.6 L1296.0,826.9 L1297.0,826.3 L1298.0,825.7 L1299.0,825.0 L1300.0,824.4 L1301.0,823.7 L1302.0,823.1 L1303.0,822.4 L1304.0,821.8 L1305.0,821.2 L1306.0,820.5 L1307.0,819.9 L1308.0,819.3 L1309.0,818.6 L1310.0,818.0 L1311.0,817.4 L1312.0,816.7 L1313.0,816.1 L1314.0,815.5 L1315.0,814.9 L1316.0,814.2 L1317.0,813.6 L1318.0,813.0 L1319.0,812.4 L1320.0,811.8 L1321.0,811.2 L1322.0,810.5 L1323.0,809.9 L1324.0,809.3 L1325.0,808.7 L1326.0,808.1 L1327.0,807.5 L1328.0,806.9 L1329.0,806.3 L1330.0,805.7 L1331.0,805.1 L1332.0,804.4 L1333.0,803.8 L1334.0,803.2 L1335.0,802.6 L1336.0,802.0 L1337.0,801.4 L1338.0,800.8 L1339.0,800.3 L1340.0,799.7 L1341.0,799.1 L1342.0,798.5 L1343.0,797.9 L1344.0,797.3 L1345.0,796.7 L1346.0,796.1 L1347.0,795.5 L1348.0,794.9 L1349.0,794.4 L1350.0,793.8 L1351.0,793.2 L1352.0,792.6 L1353.0,792.0 L1354.0,791.5 L1355.0,790.9 L1356.0,790.3 L1357.0,789.7 L1358.0,789.1 L1359.0,788.6 L1360.0,788.0 L1361.0,787.4 L1362.0,786.9 L1363.0,786.3 L1364.0,785.7 L1365.0,785.2 L1366.0,784.6 L1367.0,784.0 L1368.0,783.5 L1369.0,782.9 L1370.0,782.3 L1371.0,781.8 L1372.0,781.2 L1373.0,780.7 L1374.0,780.1 L1375.0,779.5 L1376.0,779.0 L1377.0,778.4 L1378.0,777.9 L1379.0,777.3 L1380.0,776.8 L1381.0,776.2 L1382.0,775.7 L1383.0,775.1 L1384.0,774.6 L1385.0,774.0 L1386.0,773.5 L1387.0,772.9 L1388.0,772.4 L1389.0,771.8 L1390.0,771.3 L1391.0,770.8 L1392.0,770.2 L1393.0,769.7 L1394.0,769.1 L1395.0,768.6 L1396.0,768.1 L1397.0,767.5 L1398.0,767.0 L1399.0,766.5 L1400.0,765.9 L1401.0,765.4 L1402.0,764.9 L1403.0,764.3 L1404.0,763.8 L1405.0,763.3 L1406.0,762.8 L1407.0,762.2 L1408.0,761.7 L1409.0,761.2 L1410.0,760.7 L1411.0,760.1 L1412.0,759.6 L1413.0,759.1 L1414.0,758.6 L1415.0,758.1 L1416.0,757.5 L1417.0,757.0 L1418.0,756.5 L1419.0,756.0 L1420.0,755.5 L1421.0,755.0 L1422.0,754.4 L1423.0,753.9 L1424.0,753.4 L1425.0,752.9 L1426.0,752.4 L1427.0,751.9 L1428.0,751.4 L1429.0,750.9 L1430.0,750.4 L1431.0,749.9 L1432.0,749.4 L1433.0,748.9 L1434.0,748.4 L1435.0,747.9 L1436.0,747.4 L1437.0,746.9 L1438.0,746.4 L1439.0,745.9 L1440.0,745.4 L1441.0,744.9 L1442.0,744.4 L1443.0,743.9 L1444.0,743.4 L1445.0,742.9 L1446.0,742.4 L1447.0,741.9 L1448.0,741.4 L1449.0,740.9 L1450.0,740.4 L1451.0,739.9 L1452.0,739.4 L1453.0,739.0 L1454.0,738.5 L1455.0,738.0 L1456.0,737.5 L1457.0,737.0 L1458.0,736.5 L1459.0,736.1 L1460.0,735.6 L1461.0,735.1 L1462.0,734.6 L1463.0,734.1 L1464.0,733.6 L1465.0,733.2 L1466.0,732.7 L1467.0,732.2 L1468.0,731.7 L1469.0,731.3 L1470.0,730.8 L1471.0,730.3 L1472.0,729.8 L1473.0,729.4 L1474.0,728.9 L1475.0,728.4 L1476.0,728.0 L1477.0,727.5 L1478.0,727.0 L1479.0,726.5 L1480.0,726.1 L1481.0,725.6 L1482.0,725.1 L1483.0,724.7 L1484.0,724.2 L1485.0,723.7 L1486.0,723.3 L1487.0,722.8 L1488.0,722.4 L1489.0,721.9 L1490.0,721.4 L1491.0,721.0 L1492.0,720.5 L1493.0,720.0 L1494.0,719.6 L1495.0,719.1 L1496.0,718.7 L1497.0,718.2 L1498.0,717.8 L1499.0,717.3 L1500.0,716.8 L1501.0,716.4 L1502.0,715.9 L1503.0,715.5 L1504.0,715.0 L1505.0,714.6 L1506.0,714.1 L1507.0,713.7 L1508.0,713.2 L1509.0,712.8 L1510.0,712.3 L1511.0,711.9 L1512.0,711.4 L1513.0,711.0 L1514.0,710.5 L1515.0,710.1 L1516.0,709.6 L1517.0,709.2 L1518.0,708.8 L1519.0,708.3 L1520.0,707.9 L1521.0,707.4 L1522.0,707.0 L1523.0,706.5 L1524.0,706.1 L1525.0,705.7 L1526.0,705.2 L1527.0,704.8 L1528.0,704.3 L1529.0,703.9 L1530.0,703.5 L1531.0,703.0 L1532.0,702.6 L1533.0,702.1 L1534.0,701.7 L1535.0,701.3 L1536.0,700.8 L1537.0,700.4 L1538.0,700.0 L1539.0,699.5 L1540.0,699.1 L1541.0,698.7 L1542.0,698.2 L1543.0,697.8 L1544.0,697.4 L1545.0,696.9 L1546.0,696.5 L1547.0,696.1 L1548.0,695.7 L1549.0,695.2 L1550.0,694.8 L1551.0,694.4 L1552.0,693.9 L1553.0,693.5 L1554.0,693.1 L1555.0,692.7 L1556.0,692.2 L1557.0,691.8 L1558.0,691.4 L1559.0,691.0 L1560.0,690.5 L1561.0,690.1 L1562.0,689.7 L1563.0,689.3 L1564.0,688.8 L1565.0,688.4 L1566.0,688.0 L1567.0,687.6 L1568.0,687.2 L1569.0,686.7 L1570.0,686.3 L1571.0,685.9 L1572.0,685.5 L1573.0,685.1 L1574.0,684.6 L1575.0,684.2 L1576.0,683.8 L1577.0,683.4 L1578.0,683.0 L1579.0,682.6 L1580.0,682.1 L1581.0,681.7 L1582.0,681.3 L1583.0,680.9 L1584.0,680.5 L1585.0,680.1 L1586.0,679.6 L1587.0,679.2 L1588.0,678.8 L1589.0,678.4 L1590.0,678.0 L1591.0,677.6 L1592.0,677.2 L1593.0,676.8 L1594.0,676.3 L1595.0,675.9 L1596.0,675.5 L1597.0,675.1 L1598.0,674.7 L1599.0,674.3 L1600.0,673.9 L1601.0,673.5 L1602.0,673.1 L1603.0,672.7 L1604.0,672.2 L1605.0,671.8 L1606.0,671.4 L1607.0,671.0 L1608.0,670.6 L1609.0,670.2 L1610.0,669.8 L1611.0,669.4 L1612.0,669.0 L1613.0,668.6 L1614.0,668.2 L1615.0,667.8 L1615.7,667.5" fill="none" stroke="#008000" stroke-width="5.2" stroke-linejoin="round" stroke-linecap="butt"/>
<line x1="597.15" y1="61.80" x2="650.65" y2="61.80" stroke="#000000" stroke-width="5.3" stroke-linecap="round"/>
<line x1="597.15" y1="112.55" x2="650.65" y2="112.55" stroke="#ff0000" stroke-width="5.3" stroke-linecap="round"/>
<line x1="597.15" y1="163.30" x2="650.65" y2="163.30" stroke="#0000ff" stroke-width="5.3" stroke-linecap="round"/>
<line x1="597.15" y1="214.05" x2="650.65" y2="214.05" stroke="#800000" stroke-width="5.3" stroke-linecap="round"/>
<line x1="597.15" y1="264.80" x2="650.65" y2="264.80" stroke="#008000" stroke-width="5.3" stroke-linecap="round"/>
<line x1="1441.75" y1="61.20" x2="1495.25" y2="61.20" stroke="#000000" stroke-width="5.3" stroke-linecap="round"/>
<line x1="1441.75" y1="111.95" x2="1495.25" y2="111.95" stroke="#ff0000" stroke-width="5.3" stroke-linecap="round"/>
<line x1="1441.75" y1="162.70" x2="1495.25" y2="162.70" stroke="#0000ff" stroke-width="5.3" stroke-linecap="round"/>
<line x1="1441.75" y1="213.45" x2="1495.25" y2="213.45" stroke="#800000" stroke-width="5.3" stroke-linecap="round"/>
<line x1="1441.75" y1="264.20" x2="1495.25" y2="264.20" stroke="#008000" stroke-width="5.3" stroke-linecap="round"/>
<line x1="167.95" y1="688.30" x2="221.95" y2="688.30" stroke="#000000" stroke-width="5.3" stroke-linecap="round"/>
<line x1="167.95" y1="739.45" x2="221.95" y2="739.45" stroke="#ff0000" stroke-width="5.3" stroke-linecap="round"/>
<line x1="167.95" y1="790.60" x2="221.95" y2="790.60" stroke="#0000ff" stroke-width="5.3" stroke-linecap="round"/>
<line x1="167.95" y1="841.75" x2="221.95" y2="841.75" stroke="#800000" stroke-width="5.3" stroke-linecap="round"/>
<line x1="167.95" y1="892.90" x2="221.95" y2="892.90" stroke="#008000" stroke-width="5.3" stroke-linecap="round"/>
<line x1="1008.55" y1="687.90" x2="1061.85" y2="687.90" stroke="#000000" stroke-width="5.3" stroke-linecap="round"/>
<line x1="1008.55" y1="739.20" x2="1061.85" y2="739.20" stroke="#ff0000" stroke-width="5.3" stroke-linecap="round"/>
<line x1="1008.55" y1="790.50" x2="1061.85" y2="790.50" stroke="#0000ff" stroke-width="5.3" stroke-linecap="round"/>
<line x1="1008.55" y1="841.80" x2="1061.85" y2="841.80" stroke="#800000" stroke-width="5.3" stroke-linecap="round"/>
<line x1="1008.55" y1="893.10" x2="1061.85" y2="893.10" stroke="#008000" stroke-width="5.3" stroke-linecap="round"/>
<g font-family='"Liberation Serif", "Times New Roman", serif' fill="#000" text-rendering="geometricPrecision">
<text transform="translate(14.28 42.75) scale(0.5400 0.5500)" font-size="100" font-weight="bold">a</text>
<text transform="translate(851.56 43.15) scale(0.5431 0.5514)" font-size="100" font-weight="bold">b</text>
<text transform="translate(15.97 668.86) scale(0.5436 0.5438)" font-size="100" font-weight="bold">c</text>
<text transform="translate(850.52 668.86) scale(0.5460 0.5371)" font-size="100" font-weight="bold">d</text>
<text transform="translate(88.61 495.99) scale(0.3982 0.4134)" font-size="100" >0.00</text>
<text transform="translate(161.62 649.99) scale(0.3972 0.4090)" font-size="100" >×10</text>
<text transform="translate(223.72 630.80) scale(0.2413 0.2470)" font-size="100" >4</text>
<text transform="translate(1002.12 649.99) scale(0.3972 0.4090)" font-size="100" >×10</text>
<text transform="translate(1064.22 630.80) scale(0.2413 0.2470)" font-size="100" >4</text>
<text transform="translate(395.00 586.90) scale(0.4025 0.4045)" font-size="100" >Time</text>
<text transform="translate(487.62 586.93) scale(0.3960 0.3702)" font-size="100" font-style="italic">t</text>
<text transform="translate(508.76 586.24) scale(0.4103 0.3933)" font-size="100" >(s)</text>
<text transform="translate(364.11 1210.09) scale(0.3955 0.4061)" font-size="100" >Force</text>
<text transform="translate(464.20 1209.90) scale(0.4306 0.4108)" font-size="100" font-style="italic">F</text>
<text transform="translate(488.37 1224.05) scale(0.2581 0.2479)" font-size="100" >s</text>
<text transform="translate(507.60 1209.98) scale(0.4008 0.4011)" font-size="100" >(N)</text>
<text transform="translate(1235.60 586.90) scale(0.4025 0.4045)" font-size="100" >Time</text>
<text transform="translate(1328.22 586.93) scale(0.3960 0.3702)" font-size="100" font-style="italic">t</text>
<text transform="translate(1349.36 586.24) scale(0.4103 0.3933)" font-size="100" >(s)</text>
<text transform="translate(1204.71 1210.09) scale(0.3955 0.4061)" font-size="100" >Force</text>
<text transform="translate(1304.80 1209.90) scale(0.4306 0.4108)" font-size="100" font-style="italic">F</text>
<text transform="translate(1328.97 1224.05) scale(0.2581 0.2479)" font-size="100" >s</text>
<text transform="translate(1348.20 1209.98) scale(0.4008 0.4011)" font-size="100" >(N)</text>
<text transform="translate(41.88 434.21) rotate(-90) scale(0.3876 0.4209)" font-size="100" >Strain rate</text>
<text transform="translate(41.21 259.06) rotate(-90) scale(0.4784 0.3896)" font-size="100" font-style="italic">ε</text>
<text transform="translate(38.14 251.38) rotate(-90) scale(0.3900 0.3900)" font-size="100" >˙</text>
<text transform="translate(55.15 243.99) rotate(-90) scale(0.2466 0.2500)" font-size="100" >cr</text>
<text transform="translate(40.91 214.41) rotate(-90) scale(0.3766 0.4044)" font-size="100" >(s</text>
<text transform="translate(22.40 171.97) rotate(-90) scale(0.1857 0.2409)" font-size="100" >1</text>
<text transform="translate(30.84 187.10) rotate(-90) scale(0.2596 0.4400)" font-size="100" >−</text>
<text transform="translate(40.91 162.07) rotate(-90) scale(0.4231 0.4044)" font-size="100" >)</text>
<text transform="translate(882.88 434.21) rotate(-90) scale(0.3876 0.4209)" font-size="100" >Strain rate</text>
<text transform="translate(882.21 259.06) rotate(-90) scale(0.4784 0.3896)" font-size="100" font-style="italic">ε</text>
<text transform="translate(879.14 251.38) rotate(-90) scale(0.3900 0.3900)" font-size="100" >˙</text>
<text transform="translate(896.15 243.99) rotate(-90) scale(0.2466 0.2500)" font-size="100" >cr</text>
<text transform="translate(881.91 214.41) rotate(-90) scale(0.3766 0.4044)" font-size="100" >(s</text>
<text transform="translate(863.40 171.97) rotate(-90) scale(0.1857 0.2409)" font-size="100" >1</text>
<text transform="translate(871.84 187.10) rotate(-90) scale(0.2596 0.4400)" font-size="100" >−</text>
<text transform="translate(881.91 162.07) rotate(-90) scale(0.4231 0.4044)" font-size="100" >)</text>
<text transform="translate(48.98 1121.69) rotate(-90) scale(0.3932 0.3867)" font-size="100" >Angular velocity</text>
<text transform="translate(50.10 844.02) rotate(-90) scale(0.4079 0.3958)" font-size="100" font-style="italic">ω</text>
<text transform="translate(63.66 818.37) rotate(-90) scale(0.2422 0.2400)" font-size="100" >d</text>
<text transform="translate(48.91 795.39) rotate(-90) scale(0.4231 0.3900)" font-size="100" >(</text>
<text transform="translate(30.26 782.58) rotate(-90) scale(0.2452 0.2396)" font-size="100" >o</text>
<text transform="translate(48.91 770.30) rotate(-90) scale(0.3933 0.3900)" font-size="100" >/m)</text>
<text transform="translate(889.58 1121.69) rotate(-90) scale(0.3932 0.3867)" font-size="100" >Angular velocity</text>
<text transform="translate(890.70 844.02) rotate(-90) scale(0.4079 0.3958)" font-size="100" font-style="italic">ω</text>
<text transform="translate(904.26 818.37) rotate(-90) scale(0.2422 0.2400)" font-size="100" >d</text>
<text transform="translate(889.51 795.39) rotate(-90) scale(0.4231 0.3900)" font-size="100" >(</text>
<text transform="translate(870.86 782.58) rotate(-90) scale(0.2452 0.2396)" font-size="100" >o</text>
<text transform="translate(889.51 770.30) rotate(-90) scale(0.3933 0.3900)" font-size="100" >/m)</text>
<text transform="translate(657.72 69.60) scale(0.3457 0.2957)" font-size="100" font-style="italic">r</text>
<text transform="translate(671.04 80.80) scale(0.1646 0.1841)" font-size="100" >h</text>
<text stroke="#000" stroke-width="1.6" transform="translate(686.87 71.46) scale(0.3851 0.3600)" font-size="100" >=</text>
<text transform="translate(657.72 120.35) scale(0.3457 0.2957)" font-size="100" font-style="italic">r</text>
<text transform="translate(671.04 131.55) scale(0.1646 0.1841)" font-size="100" >h</text>
<text stroke="#000" stroke-width="1.6" transform="translate(686.87 122.21) scale(0.3851 0.3600)" font-size="100" >=</text>
<text transform="translate(657.72 171.10) scale(0.3457 0.2957)" font-size="100" font-style="italic">r</text>
<text transform="translate(671.04 182.30) scale(0.1646 0.1841)" font-size="100" >h</text>
<text stroke="#000" stroke-width="1.6" transform="translate(686.87 172.96) scale(0.3851 0.3600)" font-size="100" >=</text>
<text transform="translate(657.72 221.85) scale(0.3457 0.2957)" font-size="100" font-style="italic">r</text>
<text transform="translate(671.04 233.05) scale(0.1646 0.1841)" font-size="100" >h</text>
<text stroke="#000" stroke-width="1.6" transform="translate(686.87 223.71) scale(0.3851 0.3600)" font-size="100" >=</text>
<text transform="translate(657.72 272.60) scale(0.3457 0.2957)" font-size="100" font-style="italic">r</text>
<text transform="translate(671.04 283.80) scale(0.1646 0.1841)" font-size="100" >h</text>
<text stroke="#000" stroke-width="1.6" transform="translate(686.87 274.46) scale(0.3851 0.3600)" font-size="100" >=</text>
<text transform="translate(710.30 69.58) scale(0.3000 0.3182)" font-size="100" >5</text>
<text transform="translate(729.25 70.37) scale(0.3169 0.3313)" font-size="100" >%</text>
<text transform="translate(744.96 121.12) scale(0.3130 0.3313)" font-size="100" >%</text>
<text transform="translate(744.96 171.87) scale(0.3130 0.3313)" font-size="100" >%</text>
<text transform="translate(744.96 222.62) scale(0.3130 0.3313)" font-size="100" >%</text>
<text transform="translate(744.96 273.37) scale(0.3130 0.3313)" font-size="100" >%</text>
<text transform="translate(1502.18 69.50) scale(0.3543 0.3021)" font-size="100" font-style="italic">r</text>
<text transform="translate(1515.83 79.42) scale(0.1740 0.1791)" font-size="100" >t0</text>
<text stroke="#000" stroke-width="1.6" transform="translate(1537.01 70.69) scale(0.3787 0.3520)" font-size="100" >=</text>
<text transform="translate(1502.18 120.25) scale(0.3543 0.3021)" font-size="100" font-style="italic">r</text>
<text transform="translate(1515.83 130.17) scale(0.1740 0.1791)" font-size="100" >t0</text>
<text stroke="#000" stroke-width="1.6" transform="translate(1537.01 121.44) scale(0.3787 0.3520)" font-size="100" >=</text>
<text transform="translate(1502.18 171.00) scale(0.3543 0.3021)" font-size="100" font-style="italic">r</text>
<text transform="translate(1515.83 180.92) scale(0.1740 0.1791)" font-size="100" >t0</text>
<text stroke="#000" stroke-width="1.6" transform="translate(1537.01 172.19) scale(0.3787 0.3520)" font-size="100" >=</text>
<text transform="translate(1502.18 221.75) scale(0.3543 0.3021)" font-size="100" font-style="italic">r</text>
<text transform="translate(1515.83 231.67) scale(0.1740 0.1791)" font-size="100" >t0</text>
<text stroke="#000" stroke-width="1.6" transform="translate(1537.01 222.94) scale(0.3787 0.3520)" font-size="100" >=</text>
<text transform="translate(1502.18 272.50) scale(0.3543 0.3021)" font-size="100" font-style="italic">r</text>
<text transform="translate(1515.83 282.42) scale(0.1740 0.1791)" font-size="100" >t0</text>
<text stroke="#000" stroke-width="1.6" transform="translate(1537.01 273.69) scale(0.3787 0.3520)" font-size="100" >=</text>
<text transform="translate(1579.80 69.49) scale(0.2990 0.3149)" font-size="100" >‰</text>
<text transform="translate(1579.80 120.24) scale(0.2990 0.3149)" font-size="100" >‰</text>
<text transform="translate(1579.80 170.99) scale(0.2990 0.3149)" font-size="100" >‰</text>
<text transform="translate(1579.80 221.74) scale(0.2990 0.3149)" font-size="100" >‰</text>
<text transform="translate(1579.80 272.49) scale(0.2990 0.3149)" font-size="100" >‰</text>
<text transform="translate(229.13 696.60) scale(0.3429 0.2851)" font-size="100" font-style="italic">r</text>
<text transform="translate(242.33 707.50) scale(0.1729 0.1783)" font-size="100" >h</text>
<text stroke="#000" stroke-width="1.6" transform="translate(258.19 697.40) scale(0.3830 0.3240)" font-size="100" >=</text>
<text transform="translate(229.13 747.75) scale(0.3429 0.2851)" font-size="100" font-style="italic">r</text>
<text transform="translate(242.33 758.65) scale(0.1729 0.1783)" font-size="100" >h</text>
<text stroke="#000" stroke-width="1.6" transform="translate(258.19 748.55) scale(0.3830 0.3240)" font-size="100" >=</text>
<text transform="translate(229.13 798.90) scale(0.3429 0.2851)" font-size="100" font-style="italic">r</text>
<text transform="translate(242.33 809.80) scale(0.1729 0.1783)" font-size="100" >h</text>
<text stroke="#000" stroke-width="1.6" transform="translate(258.19 799.70) scale(0.3830 0.3240)" font-size="100" >=</text>
<text transform="translate(229.13 850.05) scale(0.3429 0.2851)" font-size="100" font-style="italic">r</text>
<text transform="translate(242.33 860.95) scale(0.1729 0.1783)" font-size="100" >h</text>
<text stroke="#000" stroke-width="1.6" transform="translate(258.19 850.85) scale(0.3830 0.3240)" font-size="100" >=</text>
<text transform="translate(229.13 901.20) scale(0.3429 0.2851)" font-size="100" font-style="italic">r</text>
<text transform="translate(242.33 912.10) scale(0.1729 0.1783)" font-size="100" >h</text>
<text stroke="#000" stroke-width="1.6" transform="translate(258.19 902.00) scale(0.3830 0.3240)" font-size="100" >=</text>
<text transform="translate(281.73 696.59) scale(0.2950 0.3136)" font-size="100" >5</text>
<text transform="translate(301.46 697.37) scale(0.3117 0.3299)" font-size="100" >%</text>
<text transform="translate(317.90 748.52) scale(0.3013 0.3299)" font-size="100" >%</text>
<text transform="translate(317.90 799.67) scale(0.3013 0.3299)" font-size="100" >%</text>
<text transform="translate(317.90 850.82) scale(0.3013 0.3299)" font-size="100" >%</text>
<text transform="translate(317.90 901.97) scale(0.3013 0.3299)" font-size="100" >%</text>
<text transform="translate(1069.28 696.90) scale(0.3543 0.2936)" font-size="100" font-style="italic">r</text>
<text transform="translate(1082.52 707.31) scale(0.1849 0.1851)" font-size="100" >t0</text>
<text stroke="#000" stroke-width="1.6" transform="translate(1104.11 697.42) scale(0.3787 0.3200)" font-size="100" >=</text>
<text transform="translate(1069.28 748.20) scale(0.3543 0.2936)" font-size="100" font-style="italic">r</text>
<text transform="translate(1082.52 758.61) scale(0.1849 0.1851)" font-size="100" >t0</text>
<text stroke="#000" stroke-width="1.6" transform="translate(1104.11 748.72) scale(0.3787 0.3200)" font-size="100" >=</text>
<text transform="translate(1069.28 799.50) scale(0.3543 0.2936)" font-size="100" font-style="italic">r</text>
<text transform="translate(1082.52 809.91) scale(0.1849 0.1851)" font-size="100" >t0</text>
<text stroke="#000" stroke-width="1.6" transform="translate(1104.11 800.02) scale(0.3787 0.3200)" font-size="100" >=</text>
<text transform="translate(1069.28 850.80) scale(0.3543 0.2936)" font-size="100" font-style="italic">r</text>
<text transform="translate(1082.52 861.21) scale(0.1849 0.1851)" font-size="100" >t0</text>
<text stroke="#000" stroke-width="1.6" transform="translate(1104.11 851.32) scale(0.3787 0.3200)" font-size="100" >=</text>
<text transform="translate(1069.28 902.10) scale(0.3543 0.2936)" font-size="100" font-style="italic">r</text>
<text transform="translate(1082.52 912.51) scale(0.1849 0.1851)" font-size="100" >t0</text>
<text stroke="#000" stroke-width="1.6" transform="translate(1104.11 902.62) scale(0.3787 0.3200)" font-size="100" >=</text>
<text transform="translate(1147.61 697.28) scale(0.2948 0.3194)" font-size="100" >‰</text>
<text transform="translate(1147.61 748.58) scale(0.2948 0.3194)" font-size="100" >‰</text>
<text transform="translate(1147.61 799.88) scale(0.2948 0.3194)" font-size="100" >‰</text>
<text transform="translate(1147.61 851.18) scale(0.2948 0.3194)" font-size="100" >‰</text>
<text transform="translate(1147.61 902.48) scale(0.2948 0.3194)" font-size="100" >‰</text>
<text transform="translate(187.33 75.60) scale(0.3429 0.2936)" font-size="100" font-style="italic">r</text>
<text transform="translate(201.33 86.34) scale(0.1740 0.1627)" font-size="100" >t0</text>
<text stroke="#000" stroke-width="1.6" transform="translate(222.51 76.52) scale(0.3787 0.3200)" font-size="100" >=</text>
<text transform="translate(245.62 75.69) scale(0.2800 0.3091)" font-size="100" >5</text>
<text transform="translate(265.19 76.37) scale(0.3031 0.3254)" font-size="100" >‰</text>
<text transform="translate(628.83 713.60) scale(0.3429 0.3085)" font-size="100" font-style="italic">r</text>
<text transform="translate(642.01 723.64) scale(0.1890 0.1627)" font-size="100" >t0</text>
<text stroke="#000" stroke-width="1.6" transform="translate(662.76 714.89) scale(0.3872 0.3520)" font-size="100" >=</text>
<text transform="translate(686.20 713.29) scale(0.3000 0.3076)" font-size="100" >5</text>
<text transform="translate(708.12 713.67) scale(0.2885 0.3254)" font-size="100" >‰</text>
<text transform="translate(1027.93 75.60) scale(0.3429 0.2851)" font-size="100" font-style="italic">r</text>
<text transform="translate(1041.13 86.50) scale(0.1729 0.1812)" font-size="100" >h</text>
<text stroke="#000" stroke-width="1.6" transform="translate(1057.69 75.97) scale(0.3617 0.3080)" font-size="100" >=</text>
<text transform="translate(1080.26 75.60) scale(0.3343 0.2851)" font-size="100" font-style="italic">r</text>
<text transform="translate(1093.42 86.33) scale(0.1849 0.1716)" font-size="100" >t0</text>
<text transform="translate(1378.99 713.30) scale(0.3286 0.2894)" font-size="100" font-style="italic">r</text>
<text transform="translate(1391.63 723.90) scale(0.1667 0.1797)" font-size="100" >h</text>
<text stroke="#000" stroke-width="1.6" transform="translate(1408.11 714.02) scale(0.3787 0.3200)" font-size="100" >=</text>
<text transform="translate(1431.14 713.30) scale(0.3400 0.2894)" font-size="100" font-style="italic">r</text>
<text transform="translate(1444.22 723.72) scale(0.1849 0.1776)" font-size="100" >t0</text>
<text transform="translate(659.33 84.15) scale(0.2250 0.5500)" font-size="100" >¯</text>
<text transform="translate(659.33 134.90) scale(0.2250 0.5500)" font-size="100" >¯</text>
<text transform="translate(659.33 185.65) scale(0.2250 0.5500)" font-size="100" >¯</text>
<text transform="translate(659.33 236.40) scale(0.2250 0.5500)" font-size="100" >¯</text>
<text transform="translate(659.33 287.15) scale(0.2250 0.5500)" font-size="100" >¯</text>
<text transform="translate(1503.83 83.45) scale(0.2308 0.5500)" font-size="100" >¯</text>
<text transform="translate(1503.83 134.20) scale(0.2308 0.5500)" font-size="100" >¯</text>
<text transform="translate(1503.83 184.95) scale(0.2308 0.5500)" font-size="100" >¯</text>
<text transform="translate(1503.83 235.70) scale(0.2308 0.5500)" font-size="100" >¯</text>
<text transform="translate(1503.83 286.45) scale(0.2308 0.5500)" font-size="100" >¯</text>
<text transform="translate(230.33 710.25) scale(0.2308 0.5500)" font-size="100" >¯</text>
<text transform="translate(230.33 761.40) scale(0.2308 0.5500)" font-size="100" >¯</text>
<text transform="translate(230.33 812.55) scale(0.2308 0.5500)" font-size="100" >¯</text>
<text transform="translate(230.33 863.70) scale(0.2308 0.5500)" font-size="100" >¯</text>
<text transform="translate(230.33 914.85) scale(0.2308 0.5500)" font-size="100" >¯</text>
<text transform="translate(1070.64 710.85) scale(0.2365 0.5500)" font-size="100" >¯</text>
<text transform="translate(1070.64 762.15) scale(0.2365 0.5500)" font-size="100" >¯</text>
<text transform="translate(1070.64 813.45) scale(0.2365 0.5500)" font-size="100" >¯</text>
<text transform="translate(1070.64 864.75) scale(0.2365 0.5500)" font-size="100" >¯</text>
<text transform="translate(1070.64 916.05) scale(0.2365 0.5500)" font-size="100" >¯</text>
<text transform="translate(188.92 89.95) scale(0.2173 0.5500)" font-size="100" >¯</text>
<text transform="translate(630.03 733.27) scale(0.2308 0.6250)" font-size="100" >¯</text>
<text transform="translate(1029.52 89.65) scale(0.2231 0.5500)" font-size="100" >¯</text>
<text transform="translate(1081.52 89.65) scale(0.2231 0.5500)" font-size="100" >¯</text>
<text transform="translate(1380.13 727.75) scale(0.2288 0.5500)" font-size="100" >¯</text>
<text transform="translate(1432.33 727.75) scale(0.2269 0.5500)" font-size="100" >¯</text>
<text transform="translate(88.21 383.26) scale(0.3982 0.4134)" font-size="100" >0.06</text>
<text transform="translate(89.40 270.74) scale(0.3982 0.4134)" font-size="100" >0.12</text>
<text transform="translate(88.61 158.21) scale(0.3982 0.4134)" font-size="100" >0.18</text>
<text transform="translate(87.81 45.69) scale(0.3982 0.4134)" font-size="100" >0.24</text>
<text transform="translate(928.91 495.49) scale(0.3982 0.4134)" font-size="100" >0.00</text>
<text transform="translate(928.91 382.96) scale(0.3982 0.4134)" font-size="100" >0.03</text>
<text transform="translate(928.51 270.44) scale(0.3982 0.4134)" font-size="100" >0.06</text>
<text transform="translate(928.91 157.91) scale(0.3982 0.4134)" font-size="100" >0.09</text>
<text transform="translate(929.70 45.39) scale(0.3982 0.4134)" font-size="100" >0.12</text>
<text transform="translate(101.52 1123.99) scale(0.3982 0.4134)" font-size="100" >0.0</text>
<text transform="translate(100.72 1011.11) scale(0.3982 0.4134)" font-size="100" >0.4</text>
<text transform="translate(101.52 898.24) scale(0.3982 0.4134)" font-size="100" >0.8</text>
<text transform="translate(102.31 785.36) scale(0.3982 0.4134)" font-size="100" >1.2</text>
<text transform="translate(101.12 672.49) scale(0.3982 0.4134)" font-size="100" >1.6</text>
<text transform="translate(941.52 1123.99) scale(0.3982 0.4134)" font-size="100" >0.0</text>
<text transform="translate(942.31 1011.11) scale(0.3982 0.4134)" font-size="100" >0.2</text>
<text transform="translate(940.72 898.24) scale(0.3982 0.4134)" font-size="100" >0.4</text>
<text transform="translate(941.12 785.36) scale(0.3982 0.4134)" font-size="100" >0.6</text>
<text transform="translate(941.52 672.49) scale(0.3982 0.4134)" font-size="100" >0.8</text>
<text transform="translate(168.30 524.89) scale(0.3982 0.4134)" font-size="100" text-anchor="middle">0.0</text>
<text transform="translate(290.30 524.89) scale(0.3982 0.4134)" font-size="100" text-anchor="middle">0.2</text>
<text transform="translate(412.30 524.89) scale(0.3982 0.4134)" font-size="100" text-anchor="middle">0.4</text>
<text transform="translate(534.30 524.89) scale(0.3982 0.4134)" font-size="100" text-anchor="middle">0.6</text>
<text transform="translate(656.30 524.89) scale(0.3982 0.4134)" font-size="100" text-anchor="middle">0.8</text>
<text transform="translate(778.30 524.89) scale(0.3982 0.4134)" font-size="100" text-anchor="middle">1.0</text>
<text transform="translate(1009.00 524.89) scale(0.3982 0.4134)" font-size="100" text-anchor="middle">0.0</text>
<text transform="translate(1131.00 524.89) scale(0.3982 0.4134)" font-size="100" text-anchor="middle">0.2</text>
<text transform="translate(1253.00 524.89) scale(0.3982 0.4134)" font-size="100" text-anchor="middle">0.4</text>
<text transform="translate(1375.00 524.89) scale(0.3982 0.4134)" font-size="100" text-anchor="middle">0.6</text>
<text transform="translate(1497.00 524.89) scale(0.3982 0.4134)" font-size="100" text-anchor="middle">0.8</text>
<text transform="translate(1619.00 524.89) scale(0.3982 0.4134)" font-size="100" text-anchor="middle">1.0</text>
<text transform="translate(162.40 1154.49) scale(0.3982 0.4134)" font-size="100" text-anchor="middle">0</text>
<text transform="translate(284.88 1154.49) scale(0.3982 0.4134)" font-size="100" text-anchor="middle">20</text>
<text transform="translate(407.36 1154.49) scale(0.3982 0.4134)" font-size="100" text-anchor="middle">40</text>
<text transform="translate(529.84 1154.49) scale(0.3982 0.4134)" font-size="100" text-anchor="middle">60</text>
<text transform="translate(652.32 1154.49) scale(0.3982 0.4134)" font-size="100" text-anchor="middle">80</text>
<text transform="translate(774.80 1154.49) scale(0.3982 0.4134)" font-size="100" text-anchor="middle">100</text>
<text transform="translate(1003.00 1154.49) scale(0.3982 0.4134)" font-size="100" text-anchor="middle">0</text>
<text transform="translate(1125.54 1154.49) scale(0.3982 0.4134)" font-size="100" text-anchor="middle">20</text>
<text transform="translate(1248.08 1154.49) scale(0.3982 0.4134)" font-size="100" text-anchor="middle">40</text>
<text transform="translate(1370.62 1154.49) scale(0.3982 0.4134)" font-size="100" text-anchor="middle">60</text>
<text transform="translate(1493.16 1154.49) scale(0.3982 0.4134)" font-size="100" text-anchor="middle">80</text>
<text transform="translate(1615.70 1154.49) scale(0.3982 0.4134)" font-size="100" text-anchor="middle">100</text>
<text transform="translate(710.30 120.65) scale(0.3000 0.3182)" font-size="100" >10</text>
<text transform="translate(710.30 171.40) scale(0.3000 0.3182)" font-size="100" >15</text>
<text transform="translate(710.30 222.15) scale(0.3000 0.3182)" font-size="100" >20</text>
<text transform="translate(710.30 272.90) scale(0.3000 0.3182)" font-size="100" >25</text>
<text transform="translate(1559.52 68.85) scale(0.2950 0.3136)" font-size="100" >1</text>
<text transform="translate(1559.52 119.60) scale(0.2950 0.3136)" font-size="100" >2</text>
<text transform="translate(1559.52 170.04) scale(0.2950 0.3136)" font-size="100" >3</text>
<text transform="translate(1559.52 221.10) scale(0.2950 0.3136)" font-size="100" >4</text>
<text transform="translate(1559.52 271.54) scale(0.2950 0.3136)" font-size="100" >5</text>
<text transform="translate(281.73 748.05) scale(0.2950 0.3136)" font-size="100" >10</text>
<text transform="translate(281.73 799.20) scale(0.2950 0.3136)" font-size="100" >15</text>
<text transform="translate(281.73 850.35) scale(0.2950 0.3136)" font-size="100" >20</text>
<text transform="translate(281.73 901.50) scale(0.2950 0.3136)" font-size="100" >25</text>
<text transform="translate(1127.32 696.20) scale(0.2950 0.3136)" font-size="100" >1</text>
<text transform="translate(1127.32 747.50) scale(0.2950 0.3136)" font-size="100" >2</text>
<text transform="translate(1127.32 798.49) scale(0.2950 0.3136)" font-size="100" >3</text>
<text transform="translate(1127.32 850.10) scale(0.2950 0.3136)" font-size="100" >4</text>
<text transform="translate(1127.32 901.09) scale(0.2950 0.3136)" font-size="100" >5</text>
</g>
</svg></body></html>
